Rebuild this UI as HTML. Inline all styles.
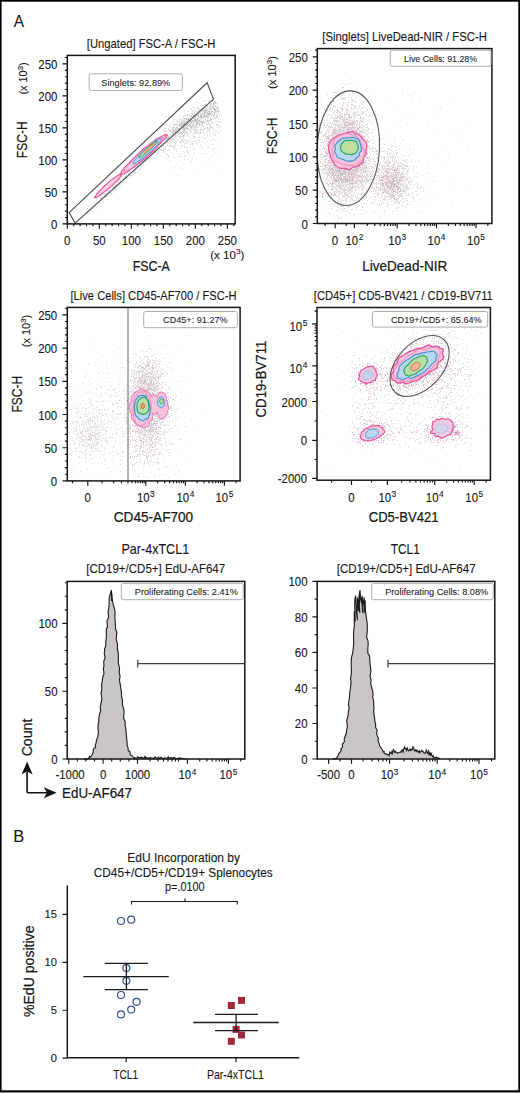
<!DOCTYPE html>
<html><head><meta charset="utf-8"><style>
html,body{margin:0;padding:0;background:#fff;}
body{width:520px;height:1093px;overflow:hidden;}
svg{display:block;}
text{font-family:"Liberation Sans", sans-serif;stroke:#161616;stroke-width:0.1px;}
</style></head><body>
<svg width="520" height="1093" viewBox="0 0 520 1093">
<rect width="520" height="1093" fill="#fff"/>
<defs><filter id="b40" x="-50%" y="-50%" width="200%" height="200%"><feGaussianBlur stdDeviation="4"/></filter><filter id="b60" x="-50%" y="-50%" width="200%" height="200%"><feGaussianBlur stdDeviation="6"/></filter><filter id="b50" x="-50%" y="-50%" width="200%" height="200%"><feGaussianBlur stdDeviation="5"/></filter><clipPath id="c67_55"><rect x="68.1" y="56.2" width="166.3" height="166.9"/></clipPath><clipPath id="c317_48"><rect x="318.1" y="49.4" width="173" height="173.3"/></clipPath><clipPath id="c67_307"><rect x="68.1" y="308.2" width="171.2" height="171.9"/></clipPath><clipPath id="c317_307"><rect x="317.8" y="308.3" width="171.8" height="171.1"/></clipPath></defs>
<rect x="0" y="1091.5" width="520" height="1.5" fill="#8a8a8a"/>
<rect x="0.75" y="0.85" width="518.4" height="1090.3" fill="none" stroke="#000" stroke-width="1.7"/>
<text transform="translate(13.8 27.3) scale(0.92 1)" font-size="16.8" fill="#161616">A</text>
<text transform="translate(13.2 841.5) scale(0.98 1)" font-size="16.8" fill="#161616">B</text>
<text x="86.8" y="48" font-size="12.2" textLength="128.6" lengthAdjust="spacingAndGlyphs" fill="#161616">[Ungated] FSC-A / FSC-H</text>
<g clip-path="url(#c67_55)"><ellipse cx="190" cy="121" rx="30" ry="7" transform="rotate(-33 190 121)" fill="#9a9396" fill-opacity="0.1" filter="url(#b40)"/></g>
<path d="M120 187h1m-13 4h1m-17 18h1m8-11h1m28-23h1m27-31h1m-65 62h1m3-7h1m19-11h1m39-35h1m-13 4h1m-29 21h1m48-40h1m-56 50h1m29-27h1m16-13h1m1-3h1m-8 3h1m-3 3h1m-28 27h1m31-29h1m8-7h1m-46 41h1m3-6h1m19-20h1m-13 14h1m24-20h1m-40 34h1m-9 0h1m11-5h1m-2 0h1m21-23h1m0 1h1m12-12h1m-9 5h1m-28 27h1m-20 19h1m20-20h1m22-25h1m17-16h1m-28 27h1m-6 9h1m-13 6h1m-8 7h1m5-9h1m21-12h1m3-9h1m-8 14h1m-2-6h1m-25 22h1m35-30h1m-47 39h1m41-36h1m1-4h1m5-2h1m-15 12h1m-33 26h1m7-8h1m-11 12h1m30-31h1m-38 38h1m19-20h1m22-20h1m-5 5h1m-35 29h1m51-43h1m-15 8h1m18-17h1m-63 55h1m-4 3h1m-10 8h1m41-40h1m-4 4h1m18-21h1m-22 25h1m-19 11h1m34-30h1m7-11h1m-11 19h1m10-15h1m-30 31h1m19-24h1m-5 6h1m9-6h1m-37 28h1m10-8h1m24-20h1m-20 17h1m-14 9h1m22-15h1m-8-2h1m12-7h1m-15 6h1m-15 21h1m-24 13h1m10-7h1m14-12h1m-15 8h1m-2 4h1m12-9h1m-28 23h1m15-13h1m36-37h1m-26 20h1m34-27h1m12-11h1m-82 74h1m75-68h1m-11 1h1m-63 64h1m69-62h1m-11 4h1m-43 40h1m-12 12h1m20-22h1m-10 6h1m59-50h1m-1 2h1m-14 9h1m-24 21h1m5-8h1m12-11h1m-49 42h1m44-37h1m16-15h1m-18 14h1m-14 10h1m8-11h1m-22 22h1m32-29h1m-41 34h1m-20 20h1m56-53h1m-51 47h1m10-6h1m25-27h1m17-15h1m-25 20h1m8-9h1m-60 50h1m79-74h1m33-24h1m7-10h1m0 4h1m-17 21h1m-8-2h1m-22 14h1m13 5h1m6-22h1m-19 19h1m33-28h1m7 0h1m-6 5h1m-20 12h1m24-20h1m-13 7h1m-7 3h1m13-4h1m-41 29h1m-1-15h1m32-20h1m-5 10h1m-14 7h1m26-21h1m-30 20h1m16-1h1m16-6h1m-3-14h1m-32 18h1m6-3h1m-14 14h1m37-23h1m-51 30h1m-1-8h1m-1 8h1m37-24h1m10-1h1m-6-2h1m-29 24h1m3-18h1m11 4h1m-22 13h1m-4 2h1m34-17h1m1-9h1m-27 11h1m4-1h1m-8 6h1m-1 4h1m14-13h1m19-11h1m-44 32h1m24-30h1m-3 14h1m-28 7h1m39-21h1m-27 24h1m-11-3h1m7 2h1m-3-9h1m18-6h1m-22 11h1m14-13h1m8-5h1m-19 18h1m5 1h1m-27 4h1m7 3h1m42-33h1m-13 5h1m-13 1h1m-13 21h1m29-9h1m-37 10h1m-7 8h1m17-14h1m14-10h1m-14 14h1m-16 3h1m18-1h1m-1-15h1m18 2h1m4-16h1m-38 19h1m4 9h1m-24 4h1m50-22h1m2 3h1m-18 4h1m8-8h1m-28 8h1m16 2h1m17-9h1m-4-6h1m-15 16h1m-16 5h1m28-15h1m-33 12h1m-1 6h1m-16 1h1m35-26h1m-13 18h1m-6 13h1m9-21h1m7 2h1m-25 4h1m10-2h1m0 6h1m23-16h1m-31 21h1m31-28h1m-23 22h1m-3-8h1m1-9h1m-1 15h1m24-15h1m-15 15h1m-1-12h1m-10 5h1m13-1h1m-32 16h1m35-16h1m-16 8h1m-5 5h1m-27 19h1m15-21h1m11-11h1m-33 23h1m31-24h1m-11 16h1m-13 6h1m14-10h1m-2-10h1m-20 20h1m8-2h1m29-20h1m4-4h1m-41 35h1m4-10h1m-4-4h1m20-15h1m-13 17h1m-5 0h1m19-11h1m12-8h1m-17-4h1m3 2h1m7-3h1m4 0h1m-32 21h1m-14 11h1m46-29h1m-53 20h1m38-22h1m-39 14h1m35-22h1m-27 26h1m40-16h1m-46 10h1m30-1h1m13-8h1m-21 4h1m-12 8h1m17-9h1m-6 10h1m-10 2h1m12-22h1m-4 10h1m-2 6h1m-11 5h1m-5 1h1m24-16h1m-5 9h1m-45 11h1m7-6h1m-6 7h1m37-16h1m-30 13h1m30-20h1m2-3h1m-5 10h1m-13 6h1m15-14h1m-19 23h1m-28 0h1m4 10h1m40-35h1m-28 14h1m16 2h1m9-4h1m-4-14h1m-20 18h1m-6 7h1m-3-6h1m-3 10h1m5-7h1m-14 2h1m1 4h1m37-25h1m-36 26h1m-5 3h1m33-15h1m-38 17h1m20-16h1m-10 12h1m10-8h1m1-4h1m-6 0h1m13-10h1m-16 12h1m-11 1h1m5 17h1m9-24h1m17-10h1m-28 13h1m-14 18h1m43-31h1m-17 12h1m-7-1h1m-28 27h1m28-35h1m2 4h1m11-8h1m-42 29h1m31-14h1m-24 4h1m33-17h1m-40 23h1m16-5h1m14-15h1m-25 25h1m6-11h1m1-15h1m26 5h1m-27 9h1m7-12h1m2-4h1m-11 3h1m2 12h1m13-12h1m-24 5h1m18 3h1m-17 8h1m-15 3h1m6-13h1m-2-1h1m16 0h1m-16 11h1m-3-2h1m3-6h1m31-9h1m-22 10h1m-13 0h1m9 0h1m-18 1h1m25-3h1m-42 17h1m19-15h1m8-3h1m20-16h1m-32 28h1m24-17h1m-7 1h1m6-7h1m-27 28h1m4-16h1m-16 11h1m26-9h1m-29 12h1m10 3h1m16-19h1m-2 3h1m5-5h1m-38 23h1m47-28h1m-21 17h1m4-6h1m5-7h1m6-13h1m-32 26h1m29-20h1m-16 15h1m-28 9h1m14-9h1m3-4h1m15-2h1m-4 1h1m-27 12h1m25-24h1m-9 22h1m-15-7h1m8-4h1m-5 3h1m3 10h1m25-19h1m-23 9h1m-9 5h1m29-11h1m-28 18h1m-24-3h1m34-23h1m-9 24h1m-13-4h1m4-1h1m8-8h1m-23 18h1m39-30h1m-27 15h1m-22 20h1m49-36h1m-26 23h1m13-14h1m11-4h1m-27 12h1m4 6h1m-4-6h1m-16 12h1m3 0h1m4-8h1m18-8h1m6-13h1m-11 15h1m-28 9h1m12-2h1m10-8h1m16-1h1m-17-1h1m-23 18h1m0-4h1m-11 1h1m37-7h1m-44 24h1m46-24h1m-38 20h1m-15 6h1m30-6h1m11-18h1m4 3h1m5-11h1m-21 15h1m23-6h1m-27 21h1m18-20h1m-6 0h1m-9 10h1m8-14h1m-17 21h1m5-7h1m7-5h1m-16 29h1m-10-22h1m19-9h1m-35 26h1m24-2h1m-6-18h1m19-7h1m-23 22h1m17-22h1m-1 20h1m-11-18h1m-15 10h1m1 15h1m16-16h1m18-27h1m-12 15h1m9-13h1m-50 40h1m42-18h1m-15-10h1m-14 17h1m28-26h1m-30 29h1m-22 5h1m32-8h1m15-22h1m-26 32h1m-6 0h1m33-30h1m-37 51h1m-2-19h1m-4-15h1m-10 13h1m6-6h1m5 5h1m28-5h1m6-27h1m-24 14h1m-21 22h1m35-18h1m-8-15h1m-28 18h1m-3 12h1m29-28h1m-38 27h1m25-4h1m20-33h1m5 9h1m-20 19h1m-21 10h1m5-7h1m34-17h1m-55 20h1m14-10h1m7 4h1m-11 16h1m23-32h1m-24 40h1m24-23h1m12-17h1m-37 8h1m25-16h1m-2 3h1m-22 25h1m-4-14h1m11-1h1m-31 26h1m33-13h1m18-25h1m-49 22h1m38-24h1m-32 21h1m4 7h1m-20 0h1m18-7h1m2 3h1m5-7h1m16-2h1m-32 32h1m1-31h1m36-17h1m-29 31h1m9-17h1m-24 18h1m1-3h1m7-12h1m-12 14h1m19-20h1m-16 7h1m17-2h1m11-11h1m-11 30h1m-15-20h1m4 23h1m-9-17h1m-6 3h1m5 14h1m-3-15h1m0 6h1m28-14h1m-17-4h1m1 18h1m-7-14h1m23-9h1m-23 15h1m21-15h1m-21 9h1m-33 21h1m15-14h1m29-17h1m-20 49h1m14-45h1m-1 4h1m-45 19h1m-1-1h1m24 3h1m24 3h1m-25 1h1m19-32h1m-32 12h1m16 7h1m9 14h1m-40-41h1m17 2h1m-19 6h1m5 32h1" stroke="#a9a3a6" stroke-opacity="0.32" stroke-width="1" transform="translate(0 0.5)"/>
<path d="M157 146h1m-38 39h1m39-36h1m-10 7h1m-16 13h1m-5 5h1m-17 6h1m-5 6h1m21-17h1m-23 16h1m41-35h1m1-5h1m0 6h1m-13 9h1m-33 28h1m37-35h1m-65 58h1m24-23h1m15-14h1m-15 14h1m-1-4h1m42-36h1m-52 47h1m53-49h1m-57 51h1m23-26h1m-27 28h1m14-14h1m-5 5h1m22-28h1m-22 23h1m-8 7h1m4-5h1m-9 6h1m50-47h1m-43 41h1m-3 5h1m-10 2h1m45-45h1m-12 13h1m-9 13h1m-25 21h1m43-41h1m2-2h1m-36 31h1m-20 26h1m47-59h1m-14 22h1m-13 4h1m14-12h1m27-22h1m-72 61h1m21-20h1m51-44h1m-50 38h1m40-33h1m-58 56h1m1-5h1m34-33h1m-3 0h1m-30 22h1m-13 18h1m36-36h1m3 2h1m-51 37h1m51-42h1m-7 7h1m14-21h1m-18 25h1m-5-2h1m37-35h1m0 2h1m-44 34h1m-2 8h1m30-31h1m-33 25h1m2 0h1m19-19h1m-53 41h1m61-46h1m-9 9h1m-24 19h1m14-17h1m26-25h1m-32 30h1m-11 4h1m-7 10h1m4-6h1m16-12h1m-11 11h1m-8 2h1m-21 18h1m35-32h1m-2 3h1m5-7h1m15-14h1m-13 16h1m-1-5h1m-34 29h1m9-7h1m-13 11h1m50-48h1m-27 28h1m15-18h1m-57 51h1m49-49h1m-15 18h1m20-27h1m-6 7h1m-37 37h1m9-11h1m-33 24h1m65-57h1m-41 36h1m0 1h1m-12 9h1m56-48h1m-32 31h1m-14 5h1m18-16h1m-25 16h1m24-18h1m-5 5h1m6-6h1m-4 2h1m-21 21h1m35-33h1m-51 42h1m27-19h1m-29 19h1m60-50h1m-33 23h1m15-7h1m-61 51h1m4-11h1m20-18h1m-25 24h1m24-22h1m28-20h1m-20 10h1m78-64h1m-12 10h1m-5-1h1m-7 2h1m-12 1h1m30-8h1m-28 14h1m32-12h1m-41 22h1m21-15h1m-23 8h1m17-7h1m6-4h1m18-7h1m-12-4h1m-21 9h1m22-7h1m-28 23h1m19-21h1m-19 17h1m-18 10h1m-2 1h1m38-25h1m-31 10h1m22-3h1m-18 6h1m-13 12h1m5-2h1m0-5h1m-7 8h1m23-20h1m-11 13h1m11-12h1m-3-2h1m-11 6h1m2-5h1m-16 10h1m36-24h1m-31 23h1m-2-4h1m32-19h1m-15 10h1m18 2h1m-37 4h1m26-22h1m6 10h1m-23 8h1m1 2h1m-17 6h1m28-12h1m-39 14h1m43-13h1m-14 1h1m-21 13h1m-2 3h1m-7 7h1m1 4h1m27-30h1m-28 13h1m7 4h1m-7-3h1m15-7h1m-24 8h1m18 4h1m-17-1h1m6-3h1m6-4h1m-4 4h1m2-7h1m5 0h1m2-4h1m12 3h1m-3-4h1m-20 10h1m7-12h1m7 3h1m-23 7h1m7-10h1m-24 17h1m31-10h1m1-10h1m1 1h1m-15 12h1m8-6h1m-18 8h1m-16 0h1m-2 13h1m13-17h1m32-5h1m-12 0h1m10-6h1m-47 19h1m32-13h1m-19 11h1m29-19h1m-33 19h1m23-22h1m-5 11h1m-16 7h1m16-2h1m-27 11h1m35-26h1m-50 23h1m7 2h1m-4-1h1m12 3h1m34-28h1m-22 10h1m10-2h1m2-9h1m-17 16h1m-2-2h1m11 1h1m7-16h1m-2 8h1m-25 7h1m7 3h1m2-1h1m-12 8h1m26-19h1m-6 0h1m2-8h1m-19 30h1m-17 5h1m-1-15h1m24-4h1m-18-2h1m-12 9h1m5-1h1m-3-4h1m-11 10h1m20-2h1m6-13h1m1 3h1m4-13h1m8 6h1m-51 24h1m37-11h1m-29 1h1m14-1h1m-1 7h1m18-16h1m-2 4h1m-30 10h1m7 4h1m27-22h1m-23 10h1m0 2h1m9-7h1m3-9h1m6 2h1m3 3h1m-17 1h1m-11 8h1m-25 16h1m28-17h1m-11 9h1m22-8h1m-38 10h1m25-10h1m-16 8h1m24-15h1m-6-13h1m-3 21h1m12-11h1m-44 25h1m-2 2h1m12-7h1m31-23h1m-10 9h1m-35 11h1m17-11h1m-8 7h1m4-4h1m16-6h1m4-3h1m-33 20h1m2 3h1m19-28h1m-16 21h1m28-10h1m-16-10h1m2 5h1m11 0h1m-10-1h1m3 3h1m5-2h1m-52 21h1m42-20h1m-12 0h1m-20 22h1m4-16h1m26-3h1m-24 4h1m-11 12h1m37-23h1m-45 27h1m40-32h1m-47 37h1m9-7h1m35-30h1m1 9h1m-22 5h1m22-2h1m-13-4h1m-22 16h1m14-3h1m14-16h1m-7 7h1m-26 13h1m33-22h1m-12 9h1m-34 31h1m1-12h1m-3-2h1m31-20h1m-24 13h1m-11 10h1m43-32h1m-2 3h1m-33 18h1m17-2h1m-18 4h1m0-2h1m-10 8h1m30-12h1m-43 8h1m19 1h1m-23 10h1m25-24h1m-20 11h1m9-1h1m13-4h1m-28 23h1m35-28h1m10-3h1m-31 10h1m11-2h1m-5-8h1m-27 25h1m22-17h1m25-11h1m-39 15h1m28-15h1m-24 15h1m-10-1h1m19-9h1m0 8h1m-9 4h1m6-14h1m-1-3h1m-14 26h1m16-15h1m-8 5h1m4-3h1m-20 9h1m-4-6h1m32-14h1m-14 7h1m20-8h1m-24 9h1m21-11h1m-21 9h1m-14 6h1m23-14h1m-15 13h1m24-15h1m-17 8h1m4-12h1m-11 12h1m-2 12h1m4-3h1m-16 2h1m0-6h1m-18 15h1m44-25h1m-31 17h1m33-15h1m-9 0h1m-18 3h1m3 4h1m-13 8h1m20-16h1m-20 16h1m16-7h1m5-9h1m-7 1h1m-27 17h1m18-11h1m-26 14h1m8 5h1m-5-10h1m1 0h1m-6-1h1m42-14h1m-20 5h1m-4 11h1m-5-3h1m-29 5h1m23 1h1m-11-5h1m0 4h1m-2-2h1m38-23h1m-25 15h1m3-5h1m-2 0h1m1 9h1m-12 4h1m10-13h1m17-4h1m-8 5h1m-30 4h1m25-17h1m-21 26h1m3-10h1m5 7h1m-28 8h1m20-16h1m21-6h1m-3-3h1m-22 12h1m20-9h1m-41 16h1m4 3h1m-1-4h1m35-18h1m-6 4h1m3-1h1m-3 24h1m-10 2h1m6-4h1m15-16h1m-47 30h1m34-21h1m-32 12h1m28-20h1m-22 20h1m31-14h1m-16 13h1m-34 21h1m23-27h1m8 0h1m-27 12h1m8-4h1m5 0h1m-4-9h1m18 15h1m-8-17h1m5 17h1m-6-22h1m-19 30h1m16-29h1m13 14h1m-32 5h1m10-9h1m5 1h1m-6-8h1m10-8h1m-12 9h1m-14 11h1m15-16h1m15-4h1m-43 26h1m29-20h1m-14 6h1m7 6h1m16-5h1m-25 8h1m-32 7h1m22-12h1m-14 9h1m-7 3h1m3 8h1m28-28h1m-12 21h1m30-32h1m-6 21h1m-13-6h1m-11 10h1m-22 7h1m6 1h1m25-28h1m11-1h1m-46 21h1m26-12h1m-15 8h1m4 11h1m-13-4h1m20-13h1m14-12h1m-6 1h1m-1 18h1m-27 5h1m-2 11h1m18-25h1m1 1h1m-17 20h1m15-22h1m2 12h1m-6 11h1m-2-21h1m9 2h1m4 10h1m-11 16h1m6-29h1m-35 9h1m42-22h1m-5 13h1m-15-3h1m-32 27h1m30-17h1m12-3h1m-14-5h1m-28 16h1m20 6h1m-2-15h1m10 0h1m-10-5h1m-14 9h1m-10 6h1m41-17h1m-4 14h1m-48 13h1m-5-7h1m39-3h1m9-20h1m-12 6h1m-9 8h1m14-17h1m-32 15h1m17-7h1m23 0h1m-16-2h1m-21 8h1m25 7h1m-37-2h1m44-22h1m-48 31h1m27-12h1m-8-11h1m18-2h1m-31 12h1m-19 8h1m8-2h1m33-4h1m-46 8h1m55-8h1m-55 8h1m23-9h1m5 7h1m16-22h1m-21 15h1m-10 3h1m-1-1h1m-1 6h1m-2-12h1m6-3h1m26-7h1m-21 14h1m-20 5h1m20-4h1m-25 0h1m-6 13h1m38-1h1m-33-34h1m41 51h1m-34-7h1m13-36h1m-25 12h1m37 17h1m-35-3h1m39 6h1m-5-11h1" stroke="#a9a3a6" stroke-opacity="0.32" stroke-width="1" transform="translate(0 0.5)"/>
<path d="M152 154h1m-5 4h1m-54 47h1m34-37h1m6-1h1m-27 21h1m-12 10h1m41-38h1m-18 18h1m25-20h1m-52 40h1m43-41h1m13-7h1m-10 7h1m-32 25h1m11-10h1m-27 21h1m-1 1h1m28-26h1m-2 0h1m14-9h1m-7 6h1m-42 30h1m60-48h1m-37 31h1m-22 16h1m-13 12h1m9-10h1m6-6h1m16-16h1m26-25h1m-6 6h1m8-9h1m-61 56h1m50-46h1m21-14h1m-59 47h1m43-45h1m-50 46h1m5-3h1m1 1h1m19-20h1m-22 18h1m24-25h1m-18 23h1m-32 19h1m28-24h1m34-32h1m-60 52h1m58-49h1m-45 43h1m13-16h1m-32 25h1m71-65h1m-57 54h1m31-30h1m5-6h1m18-13h1m-63 55h1m24-28h1m21-20h1m-22 27h1m7-8h1m-13 10h1m-2-5h1m-2-1h1m-26 28h1m0-2h1m31-28h1m-5 3h1m5-8h1m6-4h1m-4 1h1m13-7h1m-2-1h1m-10 10h1m-37 27h1m44-37h1m-44 33h1m24-15h1m-7 1h1m22-20h1m-32 27h1m11-14h1m-20 21h1m52-49h1m-41 36h1m-18 19h1m0 0h1m-11 4h1m-15 14h1m71-64h1m-20 18h1m11-11h1m-13 11h1m6-5h1m17-21h1m-38 33h1m17-15h1m-33 30h1m-18 14h1m19-17h1m50-44h1m-18 8h1m-36 42h1m37-33h1m2-9h1m-42 39h1m19-23h1m-7 7h1m20-22h1m-33 34h1m42-37h1m-27 23h1m-20 20h1m25-27h1m-56 46h1m18-9h1m57-60h1m-2 4h1m-41 35h1m4-8h1m9-8h1m-9 11h1m19-19h1m-17 17h1m-6 6h1m-13 7h1m-4 6h1m39-43h1m-6 4h1m-4 6h1m0 1h1m-34 23h1m38-31h1m-19 13h1m19-11h1m-30 29h1m11-19h1m-9 11h1m73-58h1m-33 24h1m15-14h1m18-19h1m2 3h1m-31 15h1m3-3h1m16-12h1m-17 16h1m13-2h1m-25 10h1m29-13h1m-33 7h1m6-2h1m26-12h1m-25 14h1m-3 6h1m23-22h1m-31 25h1m4-13h1m3 6h1m10-10h1m4 10h1m-4-16h1m3 9h1m-33 17h1m17-8h1m19-15h1m-42 25h1m45-27h1m-38 17h1m16-17h1m17-8h1m-38 18h1m10-4h1m21-11h1m-27 6h1m8 3h1m25-7h1m-34 12h1m15-16h1m4 8h1m-9 4h1m-8 6h1m-5-4h1m20-11h1m-13 13h1m-15 5h1m11-6h1m21-8h1m-24 14h1m-8 4h1m30-20h1m-8 1h1m-24 2h1m17-6h1m-2 10h1m0-10h1m-16 17h1m3-11h1m16 2h1m-12 7h1m-3-4h1m-22 13h1m15-27h1m-4 8h1m10 10h1m-3-3h1m-8 3h1m6-1h1m8-11h1m-7-2h1m2 19h1m4-18h1m-25 12h1m-5 0h1m32-12h1m-19 4h1m-18 23h1m11-12h1m-12 6h1m-12 6h1m22-11h1m15-18h1m-21 7h1m20-11h1m-17 19h1m-2-4h1m-19 15h1m42-33h1m-16 11h1m-19 9h1m-4 12h1m19-14h1m-6 1h1m9-8h1m-16 9h1m22-15h1m-9 6h1m-23 6h1m23-4h1m-25 6h1m4-6h1m-18 16h1m7-3h1m23-15h1m-19 17h1m29-22h1m-28 14h1m-1 2h1m25-19h1m-19 20h1m-32 9h1m19-3h1m15-17h1m18 0h1m-37 10h1m31-15h1m-6 6h1m-5-1h1m-26 11h1m27-14h1m-36 20h1m-2 7h1m20-12h1m4-9h1m-20 15h1m4-7h1m-4 4h1m-1-1h1m15-12h1m-5-2h1m3 1h1m-5-5h1m-19 23h1m-9 4h1m24-21h1m-8 16h1m0 2h1m-13 2h1m30-36h1m-24 22h1m32-11h1m2-1h1m-33 18h1m-1-10h1m21-6h1m-38 24h1m31-21h1m-30 9h1m12-13h1m-6 5h1m-11 10h1m34-10h1m-11 7h1m-24 8h1m37-16h1m-1-11h1m-5 7h1m-6-1h1m-37 27h1m29-17h1m-2-7h1m-13 18h1m15-8h1m-32 7h1m39-26h1m-36 24h1m-4 1h1m26-15h1m-5 6h1m5-4h1m-16 3h1m-14 8h1m34-14h1m-21 16h1m3-4h1m13-2h1m-32 5h1m34-11h1m6-9h1m-10 6h1m-19 8h1m-18 11h1m12-9h1m23-10h1m-5 13h1m-35 7h1m24-15h1m-2-11h1m-1 16h1m18-21h1m-19 12h1m-14 8h1m-3 6h1m3-11h1m21-5h1m-18 8h1m9-6h1m7-1h1m-8 8h1m-5 4h1m-29 9h1m5-8h1m5-8h1m25-6h1m1 0h1m1 0h1m-4-12h1m-32 34h1m2-3h1m28-18h1m-7 0h1m-2-6h1m3 1h1m-1 16h1m9-17h1m-26 16h1m1-4h1m7-5h1m0 2h1m-33 23h1m0-2h1m18-25h1m10 4h1m-18 9h1m14-12h1m-22 15h1m15-10h1m-20 1h1m10 1h1m14 0h1m-17 7h1m-15 2h1m12-11h1m28-13h1m-22 8h1m-15 18h1m25-25h1m-3 6h1m-8-2h1m13-6h1m-4 10h1m-6 7h1m-30 9h1m-6 5h1m35-20h1m-30 14h1m29-20h1m-8 10h1m-1-4h1m17-8h1m-5 13h1m-18 8h1m-16 8h1m-9-4h1m38-25h1m-37 23h1m20-11h1m2-1h1m0-3h1m-32 18h1m15-10h1m3-5h1m27-13h1m-25 22h1m3-10h1m-5 3h1m2 4h1m-15 7h1m23-22h1m-11 12h1m-23 8h1m10 5h1m27-33h1m-18 22h1m0-6h1m-8 3h1m-2 4h1m-13 3h1m39-19h1m-32 16h1m24-22h1m-15 19h1m-1-15h1m-16 20h1m24-3h1m-21 2h1m12-16h1m-34 27h1m-4-7h1m43-29h1m-8 21h1m-12-2h1m16-12h1m-30 23h1m4-5h1m23 4h1m10-21h1m-39 19h1m34-22h1m-15 12h1m-2-9h1m7 2h1m-25 13h1m-14 7h1m39-23h1m-20 18h1m-12-4h1m19-5h1m-27 7h1m28-12h1m-18 13h1m17-8h1m-8-1h1m-7 8h1m-14 5h1m1-5h1m-5 2h1m4-2h1m31-20h1m-48 26h1m26 0h1m10-22h1m-8 10h1m16-17h1m-21 19h1m16-6h1m-1-14h1m-30 35h1m1 8h1m13-2h1m19 9h1m-40-13h1m34-19h1m-14 31h1m-16-7h1m11-5h1m5-9h1m-12 8h1m19-4h1m-44 14h1m-7 6h1m20-6h1m2-5h1m14-19h1m11-6h1m0 9h1m-25 20h1m-24 0h1m19 1h1m13-3h1m2-15h1m-18 12h1m-19 5h1m40 5h1m-26-2h1m-7-2h1m2-12h1m-2 0h1m25-7h1m-27 16h1m27-26h1m3 8h1m-50 30h1m18-15h1m23-14h1m-3 32h1m-14-28h1m-6 14h1m-13 13h1m29-36h1m2-2h1m-8 34h1m4-17h1m-29 4h1m36-8h1m-48 13h1m20-2h1m1-6h1m-19 11h1m17 1h1m9-20h1m10 6h1m-7-6h1m-43 28h1m50-26h1m-36 4h1m25-5h1m-19 8h1m-5 8h1m8-2h1m5-12h1m-18 4h1m-17 14h1m46-20h1m-51 18h1m10 26h1m33-34h1m-39 31h1m31-49h1m-18 18h1m15-8h1m9 7h1m-3-11h1m-25 23h1m-22-6h1m34-17h1m-34 33h1m39-34h1m-7-4h1m16 4h1m-5-12h1m-7 27h1m3-8h1m-17-4h1m10-9h1m-3 14h1m-20 24h1m21-40h1m-43 30h1m32-8h1m15-18h1m-4 0h1m-15 1h1m9-4h1m8 2h1m-45 20h1m36-23h1m-18 22h1m-14 4h1m4-3h1m25-4h1m-38 4h1m24-16h1m-37 23h1m19 6h1m30-28h1m-13-5h1m-21 37h1m28-30h1m-17 14h1m-33 4h1m-3 1h1m6-4h1m18-5h1m19-15h1m-11 9h1m-27 8h1m0 5h1m8 5h1m8-6h1m-18 3h1m5-2h1m7-9h1m8 5h1m4 5h1m10-31h1m-3 15h1m-22 30h1m5-24h1m1-5h1m2 4h1m2 2h1m-14 20h1m-18 8h1m11-14h1m23 11h1m2-15h1m-9-24h1m-3 15h1m-15 23h1m-21 4h1m9-33h1" stroke="#a9a3a6" stroke-opacity="0.32" stroke-width="1" transform="translate(0 0.5)"/>
<path d="M121.0 174.5 L121.3 174.5 L121.3 174.8 L121.0 175.3 L120.9 175.7 L121.0 175.9 L120.9 176.3 L120.3 177.0 L119.5 177.9 L119.0 178.7 L118.4 179.4 L117.6 180.3 L116.3 181.5 L115.0 182.6 L113.9 183.7 L112.9 184.6 L111.9 185.6 L110.9 186.6 L109.7 187.5 L108.6 188.4 L107.6 189.3 L106.5 190.2 L105.4 191.1 L104.4 191.9 L103.4 192.6 L102.5 193.3 L101.4 194.2 L100.3 195.0 L99.3 195.7 L98.6 196.1 L97.8 196.6 L96.8 197.3 L96.0 197.8 L95.6 197.8 L95.6 197.5 L95.6 197.3 L95.2 197.3 L94.6 197.5 L94.5 197.4 L94.8 196.8 L95.4 196.0 L96.0 195.3 L96.3 194.7 L96.5 194.3 L96.8 193.8 L97.4 193.0 L98.5 191.9 L99.7 190.7 L100.8 189.7 L101.6 188.9 L102.3 188.0 L103.3 187.0 L104.5 186.0 L105.6 185.0 L106.7 184.1 L107.8 183.1 L108.9 182.1 L110.0 181.1 L111.2 180.0 L112.4 179.1 L113.3 178.5 L114.1 178.0 L115.0 177.4 L116.0 176.7 L116.9 176.1 L117.5 175.8 L118.1 175.5 L118.9 175.0 L119.9 174.3 L120.5 174.1 L120.6 174.3 L120.7 174.5Z" stroke="#e8509c" stroke-width="1.1" fill="#f6c2dc" fill-opacity="0.8"/>
<path d="M165.7 134.8 L165.9 135.1 L166.4 135.1 L167.2 134.9 L167.3 135.3 L166.3 136.6 L165.0 138.1 L164.2 139.2 L163.5 140.2 L162.0 141.9 L159.7 144.0 L157.7 145.8 L156.8 147.1 L155.9 148.4 L154.2 150.1 L152.0 152.0 L149.9 153.8 L148.1 155.6 L146.2 157.5 L144.1 159.2 L142.2 160.6 L140.3 162.0 L138.4 163.7 L136.4 165.4 L134.6 166.7 L133.2 167.6 L131.7 168.6 L130.0 169.9 L128.1 171.3 L126.6 172.4 L125.3 173.1 L124.5 173.4 L123.8 173.5 L123.2 173.6 L122.4 174.0 L121.4 174.4 L120.8 174.5 L120.9 174.0 L121.1 173.3 L121.1 172.9 L121.1 172.4 L121.5 171.6 L122.4 170.4 L123.2 169.3 L124.0 168.2 L125.2 166.8 L126.9 165.1 L128.6 163.4 L130.0 161.8 L131.4 160.3 L133.0 158.6 L135.1 156.8 L137.1 155.0 L139.0 153.2 L140.9 151.4 L142.9 149.5 L144.9 147.7 L146.9 146.1 L148.8 144.9 L150.5 143.7 L152.3 142.3 L154.2 140.7 L156.0 139.3 L157.3 138.5 L158.2 138.2 L159.2 137.8 L160.5 137.0 L161.7 136.2 L162.5 135.9 L163.2 135.7 L164.2 135.2 L165.2 134.7Z" stroke="#e8509c" stroke-width="1.1" fill="#f6c2dc" fill-opacity="0.85"/>
<path d="M162.1 137.9 L161.8 138.5 L162.1 138.6 L162.8 138.4 L163.1 138.5 L162.6 139.3 L161.6 140.5 L160.6 141.6 L159.8 142.7 L158.9 143.7 L158.1 144.8 L157.2 145.9 L156.2 147.1 L154.8 148.5 L153.1 150.2 L151.2 151.9 L149.5 153.4 L147.8 155.0 L146.0 156.6 L144.2 158.0 L142.5 159.3 L140.9 160.6 L139.3 161.9 L137.8 163.1 L136.4 164.1 L134.7 165.5 L132.8 167.1 L131.1 168.5 L129.8 169.4 L128.7 169.9 L127.8 170.4 L127.1 170.6 L126.7 170.6 L126.2 170.8 L125.2 171.3 L124.2 171.8 L124.0 171.7 L124.5 170.8 L124.8 170.2 L124.7 169.9 L124.8 169.4 L125.8 168.3 L126.9 167.0 L127.3 166.4 L127.2 166.0 L127.9 165.1 L129.7 163.3 L131.7 161.6 L132.8 160.3 L133.4 159.3 L134.5 158.0 L136.4 156.3 L138.4 154.7 L140.0 153.2 L141.6 151.7 L143.4 150.0 L145.2 148.4 L146.9 147.0 L148.7 145.6 L150.4 144.2 L151.9 143.2 L153.2 142.3 L154.5 141.4 L156.0 140.3 L157.4 139.4 L158.3 138.9 L158.9 138.7 L159.6 138.4 L160.7 137.7 L161.9 137.0 L162.7 136.7 L162.6 137.1Z" stroke="#ec78b0" stroke-width="0.7" fill="none" fill-opacity="0.85"/>
<path d="M161.1 138.9 L161.0 139.3 L160.9 139.7 L160.7 140.2 L160.4 140.6 L160.1 141.2 L159.8 141.8 L159.3 142.4 L158.8 143.1 L158.2 143.9 L157.4 144.8 L156.6 145.7 L155.7 146.7 L154.6 147.8 L153.6 148.8 L152.5 149.9 L151.3 151.0 L150.2 152.1 L149.0 153.2 L147.7 154.3 L146.5 155.3 L145.2 156.3 L144.1 157.3 L142.9 158.1 L141.9 158.8 L140.9 159.5 L140.0 160.1 L139.0 160.8 L138.1 161.4 L137.2 162.0 L136.2 162.6 L135.4 163.2 L134.6 163.6 L134.0 163.8 L133.5 163.9 L133.3 163.8 L133.1 163.7 L133.0 163.4 L133.0 163.1 L133.1 162.8 L133.2 162.4 L133.5 161.8 L133.9 161.2 L134.4 160.4 L135.2 159.5 L136.1 158.6 L137.0 157.5 L138.0 156.5 L139.1 155.5 L140.1 154.5 L141.1 153.5 L142.1 152.5 L143.2 151.4 L144.3 150.3 L145.5 149.3 L146.7 148.2 L147.9 147.2 L149.1 146.3 L150.2 145.4 L151.3 144.5 L152.4 143.7 L153.6 142.8 L154.7 141.9 L155.9 141.1 L157.0 140.3 L158.0 139.6 L158.9 139.0 L159.7 138.6 L160.3 138.4 L160.7 138.4 L160.9 138.4 L161.0 138.6Z" stroke="#3f8fd2" stroke-width="1" fill="#b2daf2" fill-opacity="0.9"/>
<path d="M157.4 141.2 L157.4 141.4 L157.4 141.6 L157.2 142.0 L156.9 142.4 L156.6 142.9 L156.2 143.4 L155.8 143.9 L155.3 144.5 L154.8 145.0 L154.3 145.6 L153.8 146.2 L153.2 146.8 L152.6 147.5 L151.9 148.1 L151.3 148.8 L150.5 149.4 L149.8 150.1 L149.1 150.7 L148.3 151.3 L147.6 151.9 L146.9 152.5 L146.2 153.1 L145.5 153.7 L144.7 154.3 L144.0 154.9 L143.3 155.4 L142.5 156.0 L141.8 156.5 L141.2 156.9 L140.7 157.2 L140.2 157.4 L139.9 157.5 L139.6 157.6 L139.3 157.6 L139.2 157.5 L139.1 157.4 L139.0 157.2 L139.1 157.0 L139.2 156.7 L139.4 156.3 L139.7 155.9 L140.0 155.4 L140.4 154.9 L140.8 154.4 L141.2 153.9 L141.6 153.4 L142.1 152.9 L142.6 152.3 L143.2 151.6 L143.9 151.0 L144.6 150.3 L145.4 149.6 L146.1 148.9 L146.9 148.3 L147.6 147.6 L148.4 147.0 L149.1 146.4 L149.8 145.8 L150.5 145.3 L151.2 144.7 L151.9 144.2 L152.6 143.8 L153.2 143.4 L153.8 143.0 L154.3 142.6 L154.9 142.3 L155.4 142.0 L155.9 141.7 L156.4 141.5 L156.8 141.3 L157.2 141.2Z" stroke="#2e9e4c" stroke-width="1" fill="#b6e0a6" fill-opacity="0.9"/>
<path d="M154.5 144.0 L154.6 144.0 L154.6 144.1 L154.7 144.1 L154.6 144.3 L154.6 144.4 L154.4 144.6 L154.2 144.9 L154.0 145.2 L153.7 145.6 L153.3 145.9 L153.0 146.3 L152.6 146.7 L152.2 147.1 L151.8 147.4 L151.4 147.8 L151.0 148.3 L150.6 148.7 L150.1 149.1 L149.6 149.5 L149.2 149.9 L148.7 150.3 L148.3 150.6 L147.8 151.0 L147.4 151.3 L147.0 151.6 L146.6 151.9 L146.2 152.2 L145.8 152.4 L145.5 152.6 L145.2 152.8 L144.9 153.0 L144.7 153.1 L144.5 153.1 L144.4 153.1 L144.4 153.0 L144.3 153.0 L144.3 152.9 L144.3 152.8 L144.4 152.6 L144.4 152.5 L144.5 152.3 L144.6 152.1 L144.8 151.8 L145.1 151.6 L145.3 151.2 L145.7 150.9 L146.0 150.5 L146.4 150.1 L146.8 149.7 L147.2 149.3 L147.6 148.9 L148.0 148.5 L148.5 148.1 L148.9 147.7 L149.4 147.3 L149.8 146.9 L150.3 146.5 L150.8 146.1 L151.2 145.8 L151.7 145.4 L152.1 145.1 L152.5 144.8 L152.9 144.5 L153.3 144.3 L153.6 144.1 L153.8 144.0 L154.0 143.9 L154.1 143.9 L154.2 143.9 L154.3 143.9 L154.4 144.0Z" stroke="#f07a5a" stroke-width="0.8" fill="#f4a890" fill-opacity="0.9"/>
<path d="M69.1 212.6L207.1 82.8L213.5 99.1L75.1 223.1Z" stroke="#4e4a4b" stroke-width="1.1" fill="none"/>
<rect x="67.3" y="55.4" width="167.9" height="168.5" fill="none" stroke="#161616" stroke-width="1.5"/>
<path d="M67.3 223.9H62.5M67.3 191.9H62.5M67.3 159.9H62.5M67.3 127.9H62.5M67.3 95.9H62.5M67.3 63.9H62.5M67.3 217.5H64.9M67.3 211.1H64.9M67.3 204.7H64.9M67.3 198.3H64.9M67.3 185.5H64.9M67.3 179.1H64.9M67.3 172.7H64.9M67.3 166.3H64.9M67.3 153.5H64.9M67.3 147.1H64.9M67.3 140.7H64.9M67.3 134.3H64.9M67.3 121.5H64.9M67.3 115.1H64.9M67.3 108.7H64.9M67.3 102.3H64.9M67.3 89.5H64.9M67.3 83.1H64.9M67.3 76.7H64.9M67.3 70.3H64.9M67.3 57.5H64.9" stroke="#161616" stroke-width="1.15" fill="none"/>
<path d="M67.3 223.9V228.7M99.32 223.9V228.7M131.34 223.9V228.7M163.36 223.9V228.7M195.38 223.9V228.7M227.4 223.9V228.7M73.7 223.9V226.3M80.11 223.9V226.3M86.51 223.9V226.3M92.92 223.9V226.3M105.72 223.9V226.3M112.13 223.9V226.3M118.53 223.9V226.3M124.94 223.9V226.3M137.74 223.9V226.3M144.15 223.9V226.3M150.55 223.9V226.3M156.96 223.9V226.3M169.76 223.9V226.3M176.17 223.9V226.3M182.57 223.9V226.3M188.98 223.9V226.3M201.78 223.9V226.3M208.19 223.9V226.3M214.59 223.9V226.3M221 223.9V226.3M233.8 223.9V226.3" stroke="#161616" stroke-width="1.15" fill="none"/>
<text transform="translate(57.4 228.9) scale(0.93 1)" font-size="12.3" text-anchor="end" fill="#161616">0</text>
<text transform="translate(67.3 244.6) scale(0.93 1)" font-size="12.3" text-anchor="middle" fill="#161616">0</text>
<text transform="translate(57.4 196.9) scale(0.93 1)" font-size="12.3" text-anchor="end" fill="#161616">50</text>
<text transform="translate(99.32 244.6) scale(0.93 1)" font-size="12.3" text-anchor="middle" fill="#161616">50</text>
<text transform="translate(57.4 164.9) scale(0.93 1)" font-size="12.3" text-anchor="end" fill="#161616">100</text>
<text transform="translate(131.34 244.6) scale(0.93 1)" font-size="12.3" text-anchor="middle" fill="#161616">100</text>
<text transform="translate(57.4 132.9) scale(0.93 1)" font-size="12.3" text-anchor="end" fill="#161616">150</text>
<text transform="translate(163.36 244.6) scale(0.93 1)" font-size="12.3" text-anchor="middle" fill="#161616">150</text>
<text transform="translate(57.4 100.9) scale(0.93 1)" font-size="12.3" text-anchor="end" fill="#161616">200</text>
<text transform="translate(195.38 244.6) scale(0.93 1)" font-size="12.3" text-anchor="middle" fill="#161616">200</text>
<text transform="translate(57.4 68.9) scale(0.93 1)" font-size="12.3" text-anchor="end" fill="#161616">250</text>
<text transform="translate(227.4 244.6) scale(0.93 1)" font-size="12.3" text-anchor="middle" fill="#161616">250</text>
<rect x="89.2" y="73.8" width="93.2" height="16.6" rx="2" ry="2" fill="#fff" stroke="#a9a9a9" stroke-width="0.95"/>
<text x="135.8" y="85.56" font-size="9.6" text-anchor="middle" textLength="69" lengthAdjust="spacingAndGlyphs" fill="#161616" style="stroke-width:0.06px">Singlets: 92.89%</text>
<text x="132.7" y="270.7" font-size="15.4" textLength="37.1" lengthAdjust="spacingAndGlyphs" fill="#161616" style="stroke-width:0.22px">FSC-A</text>
<text x="210.2" y="258.6" font-size="11.2" textLength="34.2" lengthAdjust="spacingAndGlyphs" fill="#161616">(x 10<tspan dy="-4.4" font-size="8">3</tspan><tspan dy="4.4">)</tspan></text>
<text x="26.8" y="139.8" font-size="15.4" text-anchor="middle" textLength="36.8" lengthAdjust="spacingAndGlyphs" transform="rotate(-90 26.8 139.8)" fill="#161616" style="stroke-width:0.22px">FSC-H</text>
<text x="27" y="78.5" font-size="11.2" text-anchor="middle" textLength="32.2" lengthAdjust="spacingAndGlyphs" transform="rotate(-90 27 78.5)" fill="#161616">(x 10<tspan dy="-4.4" font-size="8">3</tspan><tspan dy="4.4">)</tspan></text>
<text x="322.3" y="40.7" font-size="12.2" textLength="164.6" lengthAdjust="spacingAndGlyphs" fill="#161616">[Singlets] LiveDead-NIR / FSC-H</text>
<g clip-path="url(#c317_48)"><ellipse cx="345" cy="158" rx="17" ry="38" transform="rotate(0 345 158)" fill="#9a9396" fill-opacity="0.16" filter="url(#b60)"/></g>
<g clip-path="url(#c317_48)"><ellipse cx="393" cy="182" rx="14" ry="14" transform="rotate(0 393 182)" fill="#9a9396" fill-opacity="0.12" filter="url(#b50)"/></g>
<path d="M334 120h1m26 1h1m-8 27h1m-31-25h1m29 24h1m-5-15h1m-11 26h1m12-13h1m-14-7h1m11 31h1m-5-38h1m19 1h1m-30 21h1m2-6h1m8-14h1m-12 4h1m19-4h1m-2 19h1m-15 12h1m-13-29h1m20-3h1m4 13h1m-30 24h1m24-63h1m-9 59h1m15-2h1m-37-20h1m6 33h1m17-26h1m6 8h1m3-1h1m-24-5h1m21 7h1m-35-17h1m19 23h1m9 4h1m-10-40h1m-26 20h1m31-4h1m-9 22h1m-11-29h1m27-11h1m-46 15h1m11 14h1m5-21h1m7 44h1m7-14h1m21-13h1m-22-44h1m-16 55h1m11-13h1m10 21h1m-21-9h1m-7-26h1m-9 20h1m12-17h1m-14 34h1m33-20h1m-34-10h1m11 53h1m-2-22h1m7-45h1m-23 20h1m4-7h1m19 1h1m-11 17h1m0-13h1m22-2h1m-19 28h1m-12-40h1m0 13h1m1-2h1m4 13h1m-12-17h1m-1 35h1m11-65h1m-8 47h1m25-16h1m-3-12h1m-19-4h1m-6 18h1m17-5h1m-10 14h1m4-14h1m-8 26h1m-9 21h1m10-52h1m11 40h1m-2-22h1m3 6h1m-19-7h1m11 5h1m-1-24h1m-23 21h1m16-5h1m-1-17h1m5 2h1m-1 33h1m-2-6h1m-2-33h1m-34 5h1m42 2h1m-20 28h1m-4-42h1m-15 29h1m-1-36h1m-12 45h1m39-11h1m-29 1h1m-10 18h1m30-19h1m-12 4h1m-1 5h1m5 6h1m-6-19h1m8-5h1m-3 25h1m-30-6h1m36-2h1m-19-34h1m6 29h1m17 11h1m-23 18h1m14-22h1m12-27h1m-51 39h1m16-22h1m8 10h1m8-41h1m-4 32h1m-8-1h1m-8 11h1m-2-27h1m16 10h1m-15 24h1m25-16h1m-32-9h1m21-28h1m-18 16h1m6 4h1m-1 1h1m-9 11h1m-6-3h1m10 22h1m-2 8h1m1-28h1m-8-12h1m4 29h1m4-19h1m-15-12h1m11 13h1m6-1h1m-25-19h1m23 36h1m-1-20h1m5 1h1m-22 14h1m4-9h1m-20 14h1m-1 0h1m7 27h1m-4-43h1m18 16h1m-19-30h1m18 24h1m-8-21h1m-3 5h1m11 3h1m-11 6h1m11-9h1m-6 19h1m-22-2h1m14 9h1m-13-2h1m-3-12h1m5 16h1m30 3h1m-30-24h1m15 17h1m-15 14h1m-3-30h1m25 3h1m-35-13h1m14-18h1m-9 15h1m21 20h1m3 7h1m-31-17h1m25 32h1m-25-17h1m-5-21h1m-10-7h1m3 0h1m20 46h1m-18-28h1m24 12h1m3-1h1m-16 0h1m-9-20h1m31-4h1m-29-8h1m-14 11h1m16 36h1m-1-6h1m-9-12h1m-3-3h1m-10-24h1m7 16h1m2 24h1m17-12h1m-41-11h1m43-7h1m-16 16h1m-3-4h1m4 6h1m10-20h1m-16 39h1m5-26h1m-14-10h1m-11 5h1m16 25h1m15-25h1m-15 8h1m-8-15h1m6-7h1m-12 31h1m0 20h1m9-46h1m-8-7h1m10 15h1m-27 11h1m29-8h1m7-8h1m-2-15h1m-36 16h1m13-2h1m13-3h1m19 18h1m-30-10h1m4 16h1m-10 7h1m1-25h1m2 33h1m-15-22h1m13 19h1m-15-32h1m4 6h1m9-18h1m-11 32h1m-12-19h1m27 31h1m-12-25h1m13-12h1m-13 38h1m5-48h1m1 46h1m1 3h1m-30-41h1m17 15h1m-12 29h1m30 2h1m-19-29h1m10 4h1m-1-26h1m-24 16h1m9 21h1m13-44h1m-17 32h1m12-9h1m-4 6h1m-7-11h1m21 39h1m-33-38h1m3 27h1m13-1h1m2-30h1m-39-1h1m4 34h1m32-44h1m-19 33h1m11-31h1m-4 14h1m-9-32h1m-4 22h1m21 24h1m-18 26h1m1 4h1m4-38h1m-26 7h1m15 7h1m20-5h1m-25 3h1m35 28h1m-11-21h1m-13 10h1m-10 16h1m-12-2h1m25-22h1m-30 9h1m10-5h1m-3 26h1m-13-17h1m13-10h1m36 2h1m-44 34h1m31-28h1m-26-8h1m-9 13h1m3-20h1m9 7h1m12 14h1m-19-19h1m12 19h1m-31-14h1m22 11h1m-11-25h1m1 16h1m-9 2h1m12 9h1m8 6h1m6-6h1m-23-62h1m6 72h1m-23-23h1m12-4h1m-1-7h1m-10 6h1m1 32h1m4-50h1m2 25h1m-6-37h1m24 55h1m10-11h1m-17-9h1m-17 13h1m2-15h1m-3-10h1m0 32h1m3 5h1m8-6h1m22-29h1m-28-2h1m6 25h1m1-25h1m-26-23h1m-4 81h1m17-24h1m-26-21h1m36 14h1m-24-34h1m30 9h1m-20 13h1m10 11h1m-23-30h1m-9 8h1m21 24h1m-8-9h1m-20-18h1m25-18h1m13 1h1m-14-26h1m-5 49h1m-19-14h1m14 31h1m-9 23h1m18-43h1m12 0h1m-28-32h1m-6 24h1m6-4h1m-8-4h1m3 13h1m2 13h1m23 21h1m-44-10h1m13 26h1m10-25h1m7-20h1m-33 21h1m22-8h1m-6-16h1m-14 15h1m4 17h1m-4-19h1m-9 38h1m29-47h1m-37 28h1m7-46h1m11 19h1m7-1h1m9-17h1m-19 39h1m-16-36h1m20 6h1m-27 7h1m32-8h1m-10 27h1m-25-4h1m39-6h1m-10-22h1m-8 1h1m3 35h1m-22-54h1m38 37h1m-15 16h1m4-8h1m-6 2h1m-17-32h1m12 35h1m-9-21h1m1 0h1m7-30h1m-24 66h1m25 8h1m-8-59h1m11 32h1m-23 35h1m4-19h1m21-28h1m-18-17h1m0-41h1m4 67h1m-18 6h1m27-17h1m-18 19h1m-16-12h1m-11 1h1m15 16h1m13-24h1m-20-15h1m-5 5h1m24 7h1m-16 40h1m2-17h1m-1-61h1m15-6h1m-32 81h1m34-22h1m-39-33h1m29 9h1m-10 48h1m-6-27h1m12 4h1m-16-20h1m13-4h1m-9 57h1m4-37h1m0-3h1m-29-29h1m36 37h1m3-13h1m-17-8h1m-12 54h1m-5-47h1m39-12h1m-35 31h1m2-16h1m-21-11h1m6 8h1m10 6h1m5-7h1m-23-36h1m6 64h1m36 11h1m-14-37h1m8 3h1m4-30h1m-32 24h1m-1 62h1m-12-39h1m12-46h1m17 34h1m-23-19h1m18-38h1m1 52h1m-29 27h1m38-31h1m-17-7h1m-13-12h1m-2 29h1m-7 10h1m16-14h1m-15 19h1m11-83h1m-5 44h1m-12 35h1m15 13h1m-4-18h1m19-7h1m-15-31h1m6 30h1m7 3h1m-18-3h1m-5 4h1m10-1h1m-21 4h1m8-8h1m-2 0h1m-3-34h1m4 45h1m-9-18h1m-16-11h1m20 18h1m11 28h1m-7-59h1m-29 55h1m25-42h1m-15-14h1m-4 9h1m-12 33h1m16-1h1m4 18h1m-12-45h1m-1 18h1m8 9h1m-1-30h1m-11 46h1m-7 1h1m30-18h1m9-33h1m-17 39h1m-27-22h1m43 19h1m-24-14h1m-1 13h1m-6 9h1m15-28h1m-21 26h1m1-33h1m6 50h1m17 0h1m-3-60h1m-2 27h1m-25 19h1m10 9h1m-15-21h1m19 6h1m-9-27h1m19-5h1m-3-1h1m-21-14h1m7 8h1m-18 47h1m10-26h1m-5-22h1m33 28h1m-49 4h1m42-35h1m-32 24h1m9-15h1m-12 21h1m13 29h1m-16-20h1m-9 1h1m-2-31h1m29 16h1m-29 9h1m4 1h1m6-9h1m-2 2h1m21-22h1m-36 22h1m35 11h1m-14 18h1m-5-16h1m6-44h1m4 50h1m12-13h1m-19 40h1m-18-51h1m23 23h1m-12-30h1m-7 16h1m-1-17h1m3 7h1m-1 1h1m-17 19h1m5-25h1m28 16h1m-19 20h1m1-6h1m-9-21h1m-7-7h1m4 52h1m21-46h1m-25-24h1m-9 34h1m29 31h1m2-41h1m-36 3h1m8 4h1m2-47h1m4 0h1m-9-4h1m-17 26h1m20-33h1m-12 16h1m24-12h1m-6 5h1m-22 27h1m3-30h1m14 9h1m-4-7h1m-23-13h1m18 13h1m-3-3h1m3 16h1m9 9h1m-24-4h1m3-5h1m12-38h1m-4 18h1m7 17h1m-24-31h1m19 13h1m2 42h1m8-38h1m-32 21h1m21-15h1m5 7h1m-15-2h1m-4-5h1m-13-6h1m13 11h1m-11-19h1m1 8h1m-6-8h1m2 30h1m-4-10h1m-3 10h1m-9-20h1m10 2h1m11-14h1m2 3h1m-20-7h1m30 33h1m-34-22h1m4 2h1m-8 36h1m30-39h1m-16 29h1m-1-45h1m7 9h1m-5 12h1m-18 8h1m25-21h1m-17 1h1m-17 18h1m21 0h1m12 10h1m6 14h1m-10-23h1m-6-34h1m-3 32h1m5 0h1m-8-10h1m-8 0h1m4-30h1m-3 43h1m8 7h1m11 11h1m-5-34h1m-9 19h1m14-26h1m-32 11h1m6 10h1m-8-35h1m23 22h1m-33-4h1m20-9h1m-22 8h1m30 30h1m2-12h1m-36-16h1m26 13h1m-2 12h1m-3-35h1m5 24h1m-13 9h1m-8-13h1m7 24h1m1-26h1m18 47h1m-31-51h1m-6 0h1m10 21h1m-17-8h1m9 4h1m20 7h1m0 2h1m-17 2h1m4-17h1m12-7h1m-10 9h1m-21-3h1m7-40h1m-7 29h1m-2 3h1m5-6h1m3-10h1m9 22h1m-28-23h1m8 44h1m17-35h1m-5-3h1m-14-4h1m7 35h1m6-30h1m58 91h1m-10-5h1m-3 2h1m-7-13h1m-18 8h1m15-11h1m-10 4h1m14-2h1m-2 12h1m-22-11h1m8 8h1m5-7h1m-5 0h1m-7-5h1m0 12h1m8-3h1m12 2h1m-14-23h1m14 19h1m-13-4h1m-9-4h1m-5 1h1m10 25h1m18 0h1m-26-14h1m0 12h1m12-39h1m-7 19h1m-14 16h1m11-8h1m-17-5h1m10 19h1m24-6h1m-18-30h1m-2 1h1m6 7h1m-6 17h1m-16-29h1m19 4h1m-8 7h1m-12 20h1m6 10h1m-15-22h1m2 19h1m7-16h1m-10 2h1m5 0h1m-24-6h1m24 4h1m-20-7h1m15 5h1m3-8h1m0 9h1m2 21h1m-7-23h1m27 8h1m-23 11h1m-10-24h1m6 21h1m-2-7h1m1 2h1m3-30h1m8 24h1m-21-8h1m12 19h1m-19-7h1m12 0h1m-9-15h1m4 14h1m-3 0h1m15 6h1m-15-18h1m-13 4h1m16 26h1m5-16h1m-1-14h1m-12 14h1m1-19h1m10-3h1m-18 0h1m-2 18h1m2 2h1m13-12h1m-17 6h1m-13-7h1m11-13h1m3 19h1m-11-15h1m17 8h1m-6 34h1m12-15h1m-12 8h1m-18-21h1m15-19h1m-4 23h1m0 6h1m-8 6h1m39-23h1m-40 28h1m1-21h1m-8 3h1m11 11h1m-16 4h1m5-19h1m7 5h1m-10 7h1m12-3h1m-8-1h1m1 2h1m-5-13h1m6 10h1m3 5h1m1-14h1m-23 12h1m12-23h1m1 26h1m5 1h1m4-3h1m-6-18h1m-11 5h1m-17 14h1m28 0h1m-13-12h1m0-12h1m1-20h1m-5 39h1m1-7h1m-17 21h1m25-19h1m-12 16h1m12-19h1m-20 10h1m18-27h1m-33 0h1m37-1h1m-16 14h1m5-35h1m-18 32h1m11-21h1m-17 8h1m15 10h1m-13-3h1m5-12h1m0 6h1m-6-8h1m1 11h1m4 8h1m-10 2h1m-10 5h1m13-22h1m7 4h1m-10-10h1m-9 16h1m-6-15h1m9 34h1m-1-13h1m6-34h1m-18 47h1m17-22h1m-12-11h1m0-7h1m14 22h1m-5 4h1m-12-20h1m-7 25h1m17-6h1m-5-14h1m-3 2h1m-10-6h1m-7 24h1m8-8h1m9-4h1m11-3h1m-28 4h1m14 21h1m-17-7h1m-38 2h1m3 14h1m42-8h1m18 2h1m-36-18h1m-13 5h1m25-5h1m-32 4h1m4 28h1m3 0h1m-7-3h1m2-31h1m9 23h1m22 0h1m-37-7h1m35-14h1m-24 33h1m45-17h1m-11 18h1m-4-28h1m-60-16h1m55 35h1m-32-34h1m2 41h1m25-15h1m-33-33h1m3 21h1m4 12h1m39 4h1m-28-15h1m-12-3h1m-23 34h1m9-49h1m42-9h1m-12 35h1m-10-1h1m-32-22h1m19 32h1m27 7h1m-46-28h1m39-51h1m-72 22h1m6-33h1m6 98h1m29-50h1m58-48h1m-6 17h1m-36 26h1m-62 35h1m31-41h1m42 25h1m-88-16h1m6 27h1" stroke="#9d9698" stroke-opacity="0.34" stroke-width="1" transform="translate(0 0.5)"/>
<path d="M346 155h1m8 11h1m14-46h1m-24 14h1m18 30h1m-18-15h1m5-4h1m-13-2h1m34 1h1m-21 9h1m-15-16h1m13 1h1m0 24h1m-5-12h1m-14-52h1m11 49h1m-8 8h1m18 16h1m-18-27h1m-3-14h1m-5 44h1m-9-14h1m31-30h1m-13 45h1m-28-33h1m27 27h1m7-33h1m-14 20h1m9 37h1m-40-44h1m6-8h1m32 26h1m-16-22h1m8 18h1m-7-31h1m7-4h1m0 37h1m9-19h1m-13-14h1m6 21h1m-16 2h1m-19 10h1m40-22h1m-26-12h1m-7 14h1m10 28h1m0 4h1m-25-28h1m24 18h1m-11-50h1m29 23h1m-20-13h1m-29 2h1m13 21h1m-19-4h1m19-7h1m-9 18h1m23 9h1m-28 21h1m18-51h1m-15 14h1m4-13h1m-6 19h1m6-1h1m0-2h1m3-10h1m-13 10h1m32 6h1m-26-22h1m23 10h1m-38 26h1m-2-22h1m48-12h1m-40 21h1m14-9h1m-8 7h1m1-16h1m0 5h1m9 32h1m-43-47h1m34 3h1m-5 4h1m-1 4h1m4-10h1m-8 25h1m-19 7h1m20-36h1m-10 27h1m12 14h1m-13-19h1m1-1h1m9 1h1m-6-15h1m6 17h1m2-2h1m-14 10h1m-1-17h1m27 10h1m-24-13h1m5-1h1m-2 11h1m-1-12h1m-2-11h1m-2 16h1m-24 21h1m12-6h1m-9-18h1m-5-20h1m9 29h1m-8 25h1m2-26h1m15 1h1m-5 26h1m-10-30h1m0-21h1m7 8h1m-1 31h1m-14-27h1m17-5h1m8 21h1m-6 16h1m3 3h1m-32-23h1m15-3h1m-11-30h1m3 41h1m13 5h1m-26-34h1m16 30h1m-13 0h1m9 1h1m-12-33h1m5 10h1m-3 8h1m19 12h1m5-47h1m0 32h1m-1-13h1m-37 33h1m7 12h1m-13-37h1m14 20h1m15 8h1m-35-8h1m25-5h1m-24 9h1m13-7h1m13 0h1m-28-14h1m12-6h1m-4 8h1m3 6h1m-15 2h1m4-16h1m28 26h1m-10-6h1m1-4h1m-9-11h1m-22 36h1m24-18h1m-15 2h1m5 0h1m-2-17h1m-4 13h1m7-11h1m-3 9h1m16 16h1m-21-35h1m22 36h1m-12-11h1m1-18h1m-8 10h1m-14-8h1m3 22h1m-2-56h1m-4 27h1m3 14h1m18 31h1m-12-15h1m-2-6h1m-5-10h1m5 14h1m-10 12h1m2-12h1m4-31h1m6-20h1m-31 27h1m15-10h1m15 16h1m-9 13h1m-6-4h1m-2 17h1m11-7h1m-2-8h1m-24 6h1m16 5h1m-14-33h1m9 29h1m-12-10h1m3-11h1m-3-3h1m2 12h1m0-19h1m8 11h1m-25 12h1m15-3h1m18-5h1m-14 13h1m-1 13h1m6-24h1m1 4h1m-15 10h1m-3-12h1m1-23h1m13 26h1m-16 6h1m-2-2h1m15 12h1m-11-27h1m3 14h1m9-11h1m-9 18h1m7-51h1m-14 35h1m3 12h1m-11-23h1m16 29h1m-1-31h1m-26 12h1m28 23h1m-24-41h1m11 15h1m-4 5h1m7 0h1m-28 21h1m7-34h1m23 27h1m-2-18h1m-15 8h1m-18-1h1m35 5h1m-26-8h1m16-16h1m-32 13h1m4 16h1m18-10h1m-13 30h1m13-32h1m-8 1h1m4 12h1m-16-39h1m27 57h1m-27-41h1m1-2h1m4 13h1m6 18h1m-15-29h1m24 6h1m-9 7h1m-14-1h1m16-10h1m-20-6h1m10 1h1m-8 19h1m-13 3h1m16-9h1m0 33h1m10-59h1m-25 44h1m11-25h1m11 5h1m-21 10h1m2-15h1m8 20h1m-5-15h1m-18 4h1m33-8h1m-15-11h1m13 27h1m-2 21h1m-16-36h1m13 41h1m-12-32h1m-1 25h1m11-3h1m-15-4h1m3-12h1m-25 29h1m12 4h1m17-8h1m2-7h1m-1-17h1m-19 20h1m-14-18h1m2 37h1m5 0h1m7-25h1m7 26h1m-6-80h1m-3 18h1m-17 27h1m21 27h1m-4-15h1m-21-9h1m-1-8h1m21-4h1m-27 18h1m6 11h1m12 5h1m11-32h1m-31 8h1m-8 49h1m-5-22h1m21-27h1m-16-17h1m-2 30h1m23 6h1m-5 2h1m1-50h1m3 39h1m2 2h1m-21-58h1m8 50h1m-24-24h1m6 36h1m0 11h1m30-7h1m-13-5h1m-20-27h1m0 15h1m2 5h1m1 6h1m-3-1h1m14 8h1m18-20h1m-37 43h1m62-30h1m-60 14h1m0 22h1m-8-76h1m-1 12h1m7 21h1m-5-5h1m4 6h1m-3-21h1m-6-15h1m6 69h1m-2-57h1m9-38h1m-22 1h1m16 67h1m-12-26h1m11 55h1m-4-47h1m-20-9h1m11-2h1m22 4h1m-22 24h1m-12-26h1m10 12h1m11 6h1m-20 6h1m4-29h1m5 44h1m-5 4h1m9-33h1m-18 20h1m1-21h1m13-32h1m-8 22h1m-6 28h1m13 12h1m4-43h1m-16 53h1m-11-50h1m6 7h1m13 30h1m-3-29h1m10 14h1m-8 5h1m14 0h1m-28-4h1m17-31h1m-26 30h1m14 0h1m-2-70h1m-5 45h1m7-9h1m11 21h1m-33-3h1m0 3h1m28 7h1m-20 4h1m32 5h1m-31-12h1m5 17h1m1-19h1m-9-1h1m9 11h1m-7 8h1m-21-20h1m22-23h1m0 55h1m-14-32h1m-3 0h1m5-6h1m-8 19h1m28-22h1m-26 26h1m28-25h1m-38-4h1m24 10h1m-26 11h1m31-6h1m-41-3h1m-4 10h1m23-2h1m-9-34h1m13 64h1m-29-36h1m26 10h1m-34 2h1m44 1h1m-28-7h1m-8 2h1m15 5h1m-11-32h1m8 16h1m3 14h1m-6-18h1m-17-19h1m43-15h1m-11 51h1m-10-13h1m-25 8h1m20 10h1m-4-14h1m14 28h1m-10 15h1m4-54h1m-16 28h1m-1 5h1m-14-34h1m10 4h1m13 52h1m14-53h1m-12-28h1m-35 28h1m2 32h1m19-9h1m-10-4h1m15-29h1m-21 45h1m0-27h1m14-9h1m2 14h1m-6 20h1m-14-24h1m11-10h1m10 1h1m-12 2h1m19 18h1m-28 2h1m3-1h1m0-38h1m-1 1h1m16 49h1m-2-4h1m-26-40h1m6 1h1m14 19h1m-40 10h1m39 5h1m-15 7h1m11-19h1m-18 7h1m-22 18h1m22-19h1m-7 17h1m22-35h1m-12 14h1m-14 3h1m18 19h1m-5-36h1m-17 36h1m10-8h1m-8-9h1m26 35h1m-29-30h1m5-13h1m-2 5h1m9-30h1m-28 27h1m37-10h1m-16 35h1m1-24h1m20-15h1m-42 5h1m10 6h1m10 16h1m-6 14h1m-10-37h1m-1 17h1m5-31h1m-13 23h1m15-9h1m-5 31h1m17-9h1m-37 17h1m11-41h1m-8-12h1m5-1h1m-3 19h1m2 17h1m-11 32h1m14-75h1m22 16h1m-40 5h1m10-41h1m34 19h1m-32 43h1m-16-43h1m-7 33h1m15 1h1m-8 22h1m9-39h1m-4 4h1m-2 24h1m-8-6h1m-7-6h1m6 32h1m24-20h1m-12-29h1m4 38h1m-25-29h1m11 12h1m0-24h1m1 17h1m-2 3h1m26 10h1m-37-12h1m23-7h1m-31-12h1m-1 17h1m13-12h1m10 27h1m4 7h1m8-28h1m-36 7h1m-9-21h1m16 59h1m33-57h1m-25-8h1m-17 32h1m17 0h1m-2 2h1m-3-32h1m8 27h1m1 9h1m-15-9h1m1 14h1m3-52h1m-16 38h1m21 25h1m0-51h1m-20 8h1m2-18h1m15 24h1m-7-13h1m7 19h1m-4 21h1m-35-20h1m41 30h1m-9-52h1m-15 22h1m16-21h1m-23 46h1m-1-59h1m-1 21h1m12 35h1m-13 34h1m5-28h1m-7-7h1m-14-6h1m17-2h1m4-36h1m5 3h1m-17 43h1m-6 9h1m1-61h1m1-14h1m6 21h1m11-26h1m1 26h1m10-13h1m-34-3h1m14 24h1m-9-26h1m18 4h1m-13-33h1m-21 17h1m4 5h1m24 11h1m-33 25h1m26-17h1m-14-48h1m-2 37h1m-9-26h1m5 14h1m24 1h1m-19 0h1m-14-21h1m11 6h1m-12 8h1m9 22h1m15-11h1m-7 11h1m7-1h1m-22 23h1m-22-11h1m18-3h1m-4-18h1m9 7h1m2 9h1m8-26h1m5 34h1m-6-15h1m18-4h1m-22-3h1m-6 0h1m-4 11h1m-10 27h1m8-11h1m-3-37h1m4-9h1m9 12h1m-26 41h1m11-31h1m-5 18h1m6-15h1m-1 11h1m3-17h1m-11 9h1m-21 3h1m19 20h1m-20-16h1m21-34h1m2 2h1m-7 18h1m19 23h1m-10-34h1m1-6h1m-13 59h1m15-25h1m-32-31h1m21-1h1m-24 10h1m12 1h1m15-2h1m-11-37h1m-21 50h1m10-16h1m22 20h1m-45-32h1m25 6h1m-11 15h1m18 16h1m-1-37h1m-7 19h1m-4-1h1m-3-35h1m3 40h1m-8 3h1m-2-12h1m2 6h1m18-14h1m-35 32h1m10-50h1m28 32h1m-17 4h1m-9 18h1m23-13h1m-13-42h1m-2 25h1m-21-17h1m21 39h1m-13 7h1m-3-7h1m-2-18h1m-16 8h1m16 10h1m6-17h1m8 14h1m14-18h1m-30-5h1m12 53h1m-34-37h1m25-25h1m-7 27h1m-4-40h1m7 22h1m-16 12h1m-1 8h1m-18-4h1m24 5h1m16-30h1m25 86h1m17 24h1m-26-21h1m16 3h1m-3-16h1m1-9h1m16 17h1m-13 21h1m-4-2h1m-4-16h1m10-21h1m-17 16h1m-4-6h1m-6-8h1m17 6h1m-15 10h1m-3 6h1m14-6h1m-31-4h1m31-16h1m-27 22h1m9 12h1m11-12h1m-16-9h1m20 3h1m-4-4h1m-18 35h1m14-33h1m5 0h1m-15 17h1m12-26h1m-18 17h1m-16 17h1m19-26h1m-13 23h1m26 0h1m-18-13h1m11 9h1m-10-27h1m-1 17h1m0-15h1m19 5h1m-22 8h1m-5 10h1m15-11h1m-6 17h1m-13-28h1m21 22h1m-3 1h1m-18-10h1m-7-3h1m-15 5h1m15-5h1m11-1h1m-24 9h1m26-13h1m-17 2h1m15 27h1m-3-16h1m-14-4h1m18 1h1m-25-3h1m13 2h1m-15 13h1m4-18h1m8 12h1m-4-10h1m-2 12h1m-3 0h1m12-5h1m-3-18h1m-6 36h1m-14-9h1m-13-32h1m33-2h1m-39 2h1m32 9h1m-11 11h1m-6-4h1m-9 11h1m4-2h1m2-6h1m8-19h1m4 13h1m4 9h1m-17 0h1m9-9h1m-2 8h1m-7-5h1m-16-17h1m25 2h1m4 3h1m-24 26h1m17-9h1m-14-7h1m26-9h1m-25 15h1m3 23h1m-9-15h1m-2-30h1m-1 15h1m7 6h1m-5-5h1m7 7h1m12 10h1m-16-10h1m-28-6h1m21 6h1m-27 4h1m33-18h1m-2 1h1m-28-4h1m19 25h1m-5-25h1m16 3h1m-14 12h1m14-5h1m-26-8h1m19 24h1m-10 0h1m3-8h1m-23-7h1m23 7h1m-7-5h1m11 11h1m-20-10h1m-11-13h1m12 14h1m-8 4h1m2-15h1m-5 3h1m7 18h1m-2-15h1m-4-15h1m15 2h1m-19-11h1m15 9h1m-5 8h1m-19-24h1m17-4h1m-13 13h1m22 19h1m-27-1h1m-1-21h1m-10 23h1m28-3h1m-12-8h1m1 2h1m2-13h1m-7-4h1m-7 4h1m5 6h1m9 16h1m-22-8h1m13-25h1m-2 40h1m1-5h1m-4-17h1m4 8h1m-8-8h1m1 18h1m-4-29h1m3 15h1m-9 9h1m13-14h1m-8-29h1m-3 26h1m-13-9h1m36 15h1m-44 12h1m24-18h1m-8 13h1m-1-2h1m5-10h1m-20 0h1m11 1h1m15 7h1m-25 35h1m-5-29h1m13-13h1m4 7h1m12 2h1m-17 5h1m-22-5h1m10 32h1m21-39h1m-43 31h1m16-33h1m-19 2h1m60 23h1m-65-6h1m44 3h1m-30 15h1m9-34h1m-45 13h1m36 4h1m6-13h1m-18 34h1m56-12h1m-59-24h1m11-9h1m5-2h1m-12 55h1m-32-52h1m68 42h1m-57-31h1m10 0h1m-11 16h1m19-25h1m6 18h1m0-2h1m-2 16h1m4 0h1m6-51h1m-24 37h1m-36 6h1m74-82h1m-3-8h1m-25 97h1m34-94h1m31 105h1m-26-37h1m-75-58h1m25 109h1m60-110h1m26 44h1m-81 18h1m49-39h1m10 24h1m-95-42h1" stroke="#9d9698" stroke-opacity="0.34" stroke-width="1" transform="translate(0 0.5)"/>
<path d="M335 144h1m36-16h1m-27 28h1m-9 1h1m19 6h1m-4-9h1m-28-4h1m20 26h1m-5-13h1m21 18h1m4-18h1m-31-11h1m14-39h1m6 38h1m-5-1h1m-11-12h1m0-7h1m-2 36h1m15-28h1m-43-5h1m27 19h1m0-19h1m-7 26h1m21-41h1m-20 22h1m3 25h1m-11-29h1m6 5h1m-2 1h1m-13-7h1m17 21h1m-9-16h1m9-4h1m-21 7h1m-13 14h1m31 7h1m-21-22h1m17 17h1m-18-6h1m1-27h1m1 51h1m-22-8h1m27-43h1m21 23h1m-17 4h1m-18 13h1m11 2h1m-22-12h1m7-33h1m-10 30h1m12-40h1m-11 44h1m-10-16h1m30 8h1m-21 5h1m15-18h1m-4-7h1m3 25h1m-13 1h1m11-17h1m-9 24h1m11-29h1m-22 23h1m-4 3h1m22-27h1m-1 37h1m0-48h1m-1 53h1m-14-27h1m-17 25h1m5-40h1m13 26h1m20-17h1m-6 7h1m4-9h1m-14 22h1m4-9h1m3-3h1m-19-18h1m-5 27h1m18-5h1m-40-15h1m41-7h1m-17 46h1m7-42h1m-21 0h1m1-3h1m15 7h1m1 15h1m-22 11h1m-9-13h1m13-3h1m-8 16h1m-7 10h1m17-25h1m-19-6h1m13 3h1m-1 0h1m14-11h1m-36 17h1m38 5h1m-23 9h1m13-3h1m8-6h1m-11 8h1m-1-10h1m5-2h1m-5-39h1m-2 45h1m16 2h1m-38-25h1m14 16h1m-8 20h1m-10-20h1m10 8h1m-4-14h1m14-30h1m0 31h1m-5 8h1m-1-6h1m-9-14h1m10 30h1m-15-8h1m-8-12h1m29 10h1m-6-16h1m2-20h1m-14 55h1m1-31h1m-14-13h1m25 26h1m-5-31h1m-19 36h1m23-2h1m-17-14h1m-23-9h1m18-16h1m6 22h1m-14 3h1m-3 12h1m4-7h1m14-6h1m-31-11h1m16 2h1m-10 27h1m11-1h1m-9-10h1m-2 18h1m-2-34h1m9 25h1m-6-18h1m-8 11h1m7 39h1m0-51h1m1 6h1m-3-17h1m8 11h1m-11 0h1m7 4h1m-11-9h1m18-13h1m-10 33h1m-5 9h1m2 6h1m4-34h1m-3 19h1m-9-16h1m-6 2h1m9-7h1m-3 24h1m-13-11h1m20-17h1m-32 18h1m3-28h1m21 22h1m-19 1h1m-13 1h1m23 7h1m9-5h1m-21-32h1m35 24h1m-26 36h1m7-47h1m-24 13h1m20 3h1m-9 12h1m21-16h1m-25 14h1m17 3h1m-4-3h1m-3-28h1m-13 11h1m14-19h1m-11 40h1m-6-9h1m2-6h1m10 5h1m-3 2h1m-14-16h1m13 29h1m-16-13h1m-22-16h1m12 37h1m23-15h1m-9 5h1m6 17h1m-20-25h1m-3-12h1m5 17h1m9 3h1m-9-14h1m-21-16h1m1 29h1m44-31h1m-20 7h1m-6 14h1m-1-1h1m10-15h1m-14-17h1m5 32h1m-26-2h1m7-13h1m4 13h1m14-3h1m-11 23h1m8-17h1m-26-3h1m28-9h1m-24 1h1m-7-19h1m19 22h1m-2-6h1m-1 12h1m16 6h1m-46-24h1m34 26h1m-13-16h1m16 2h1m-8 35h1m-7-25h1m26-6h1m-38-9h1m18 9h1m-25 24h1m-9-37h1m38 15h1m-9 20h1m-17-27h1m-7 6h1m31 14h1m-32 14h1m42-49h1m-29 15h1m3-7h1m-2 13h1m-8-23h1m7 13h1m-32 23h1m11-30h1m-5 51h1m35-34h1m-18-16h1m15 44h1m-36-39h1m5 6h1m13 19h1m-3-6h1m-1 4h1m-3-22h1m-3 7h1m10 5h1m-10 7h1m7-14h1m-14 29h1m-14-35h1m5 18h1m-1-23h1m21 27h1m-14-29h1m13 54h1m-13-35h1m-7 37h1m1-28h1m-2 32h1m-13-35h1m12 29h1m-8-10h1m13 32h1m-2-39h1m-19 37h1m20-10h1m-12-49h1m8 2h1m3 48h1m7-14h1m-4-15h1m-3 22h1m-23-20h1m10-14h1m1 50h1m-11-47h1m21 27h1m-18-24h1m6 19h1m-8-2h1m15 18h1m-21-4h1m13-15h1m-13 22h1m18-52h1m3 24h1m-13 14h1m8-60h1m-14 38h1m9 24h1m5-12h1m-16-34h1m10 45h1m-7-2h1m-32-33h1m14 34h1m5 3h1m6-11h1m-5 13h1m-16-45h1m33 20h1m-34-31h1m20 31h1m-23 49h1m19-52h1m3 12h1m-25 8h1m12-33h1m-1 40h1m-3-54h1m-9 79h1m9-33h1m25-11h1m-3-30h1m7 53h1m-22 7h1m-35-34h1m24 34h1m-4-33h1m12 17h1m-20-3h1m7-4h1m-12-3h1m14-31h1m-12 19h1m15 44h1m-19-13h1m19-58h1m6 71h1m-24-53h1m13 22h1m-5-20h1m29 23h1m-54-37h1m26 54h1m-7-26h1m16 7h1m-22-4h1m-19-5h1m23-30h1m2 50h1m9 1h1m-3-6h1m14 17h1m-41-59h1m26 42h1m-24-4h1m1-68h1m1 100h1m20-22h1m-23 10h1m-21-1h1m9-23h1m6 4h1m-18 19h1m6-41h1m27 13h1m-19-13h1m21 2h1m-23 12h1m-14-17h1m14 20h1m24 22h1m-1-14h1m-39 13h1m-4 27h1m11-78h1m12 55h1m-9-25h1m3 12h1m9 24h1m-16 0h1m10-61h1m-17 24h1m21 11h1m2-7h1m-23 4h1m-2 5h1m1-15h1m-11-38h1m43 48h1m-54-28h1m19-5h1m12 23h1m-9 31h1m-6-8h1m4-24h1m9-39h1m-22 17h1m-14 49h1m12-18h1m24-2h1m-10 7h1m-12-40h1m-8 14h1m11 39h1m-2-20h1m-10 30h1m4-17h1m25-5h1m-30-21h1m0 40h1m10 10h1m4-66h1m-14 27h1m15-3h1m-15-20h1m-5 13h1m1 10h1m-2-60h1m21 48h1m-35 34h1m23-32h1m-22-14h1m20 24h1m-31 22h1m9-12h1m28-1h1m-12-22h1m-21 1h1m1 7h1m-12-1h1m6 18h1m15-34h1m32-1h1m-41 55h1m3-5h1m6-10h1m-12-37h1m29 51h1m-14-32h1m-6 13h1m-12-34h1m1 34h1m-9 8h1m2-19h1m8-29h1m-3 34h1m14 24h1m-16-25h1m5-34h1m-20 56h1m7-52h1m12 15h1m-10 4h1m-21-9h1m35 1h1m0 4h1m1 50h1m-15-53h1m4 26h1m23-36h1m-38 23h1m4 6h1m-8 9h1m8 6h1m-28 17h1m21-63h1m-2 22h1m-5-39h1m9 50h1m-5-45h1m5 41h1m-15-8h1m-6-10h1m14 10h1m2-7h1m-25 43h1m32-23h1m-21-22h1m30-31h1m-23 52h1m-4-2h1m10-34h1m-6 34h1m0-28h1m-3-6h1m3 55h1m-14-32h1m0 8h1m14 6h1m-17-26h1m3 20h1m-3-36h1m-4 55h1m-1-49h1m15 23h1m-21 0h1m10-7h1m-10-14h1m21 17h1m-18 20h1m16-12h1m-35-18h1m29 32h1m-4-72h1m-26 54h1m14 7h1m-15-22h1m20-1h1m25 20h1m-25-31h1m27 25h1m-29 23h1m12-12h1m-13 18h1m-19-29h1m13 5h1m-16-6h1m1 12h1m23-43h1m-22 27h1m-8 11h1m16 26h1m16-37h1m-32-7h1m5 51h1m14-80h1m-5 44h1m-21-30h1m16 35h1m5 3h1m-30 16h1m19-29h1m17 6h1m-7-3h1m-9 25h1m-10 1h1m-4-34h1m25 0h1m-30 34h1m30-41h1m-21-17h1m-1-29h1m3 93h1m-15-12h1m13-58h1m0 74h1m-14-17h1m-2-8h1m15-30h1m10 3h1m-18-10h1m15 54h1m10-24h1m-34 2h1m15-5h1m-10 0h1m11-18h1m6 40h1m-21-7h1m18-43h1m-12 38h1m1-3h1m-1-7h1m-2 10h1m-13-14h1m7-26h1m9-2h1m-6-19h1m-13 32h1m-10-44h1m23 30h1m-11-23h1m10 6h1m-28-23h1m-4 47h1m42-12h1m-46 2h1m14-23h1m3 10h1m22-11h1m-35 26h1m27-15h1m-23-3h1m13-35h1m1 48h1m-29-7h1m17-9h1m6 8h1m9-19h1m-32 35h1m13 27h1m11-37h1m-7-12h1m12 15h1m-15-12h1m-28-3h1m31-16h1m-17 2h1m-2 17h1m20 12h1m-34 2h1m5-12h1m27 0h1m-32 18h1m23-35h1m-30 4h1m13 17h1m8-24h1m13 17h1m-30-4h1m16 3h1m-8 15h1m3-20h1m10 18h1m-14-11h1m-18-6h1m17-17h1m5 12h1m-30 21h1m44-6h1m-19 23h1m-18-16h1m-12-7h1m28-9h1m-2 5h1m21-10h1m-24-13h1m-13 20h1m23-7h1m-24 0h1m7 4h1m8 22h1m-11-33h1m-20 7h1m35 21h1m-18 3h1m-18-41h1m12 35h1m2 14h1m15 3h1m-18-29h1m19 6h1m-33 23h1m7-15h1m-1 1h1m12-10h1m-12 5h1m25-11h1m-14 7h1m-12-3h1m0 15h1m2-17h1m-13 12h1m21 11h1m-2-9h1m-20-37h1m11 22h1m-8 33h1m-14-22h1m9-16h1m23-3h1m-22 8h1m7 30h1m-17 11h1m9-12h1m9-30h1m-21 14h1m1 12h1m-10 0h1m4-40h1m12 45h1m-3-10h1m14-25h1m-7 5h1m-19 19h1m11 22h1m3-31h1m4-18h1m-15 9h1m-15 2h1m56 61h1m21 6h1m-19 17h1m-4 7h1m24-32h1m-6 10h1m-20-20h1m-1 8h1m8 15h1m-13 9h1m40-25h1m-42 11h1m14 5h1m-20-13h1m20 4h1m-16 14h1m18-22h1m-8 2h1m-11 6h1m12-9h1m-8 38h1m5-9h1m5-29h1m6 7h1m-17 3h1m11-13h1m-3-5h1m-26 19h1m31-31h1m-15 49h1m12-21h1m-20-2h1m3-7h1m-7 3h1m2 14h1m11-3h1m-25 18h1m19-18h1m-5-4h1m-23 7h1m40-7h1m-31 2h1m26-12h1m-16 0h1m-12 14h1m-16 1h1m19-5h1m9 11h1m-4-24h1m2 16h1m-36-6h1m9 15h1m13-21h1m-19 16h1m13-13h1m12 12h1m-2-15h1m-3 18h1m-10 3h1m-6-18h1m10-5h1m8 15h1m-15 7h1m5 6h1m-6-14h1m6 6h1m-2-6h1m-9 7h1m-2-6h1m3 12h1m2-15h1m-1 15h1m-1-17h1m6-15h1m2-6h1m-9 41h1m-12-1h1m-2-35h1m-1 24h1m25-27h1m-25 40h1m9-10h1m2-10h1m-5 2h1m6-20h1m-11 25h1m2-2h1m3 4h1m8-23h1m-23 14h1m13 3h1m-19-4h1m5 23h1m1-19h1m7-3h1m-20 7h1m0 1h1m11 5h1m-5-6h1m-1-23h1m-1 35h1m-8-6h1m12 4h1m2-1h1m-2 2h1m-4-21h1m3 4h1m1-15h1m-14 4h1m30 10h1m-25 4h1m5-6h1m-4 22h1m-13-12h1m23-1h1m-2-11h1m-12 0h1m-4 12h1m3-18h1m-2 2h1m0 27h1m-2-17h1m-3 2h1m-3-13h1m-1 22h1m-13-8h1m-14 1h1m32-8h1m6-1h1m-45 3h1m22-6h1m-9 14h1m11 7h1m-10-20h1m6-31h1m16 34h1m-19-8h1m-3-10h1m0-4h1m6-13h1m-2 22h1m5 10h1m-3-7h1m-7 14h1m-3-25h1m4-2h1m-4-5h1m-12 13h1m-5-16h1m19 23h1m-17 1h1m18-8h1m-15 10h1m2-22h1m-4 15h1m2-8h1m7 12h1m-10-9h1m13-20h1m-18 17h1m3 5h1m-10 3h1m20-19h1m-3 3h1m-6 37h1m-5-11h1m7 0h1m-11-7h1m-3-3h1m14-11h1m-27 2h1m20 16h1m-5-6h1m12-4h1m-10 5h1m23 23h1m-32 10h1m4-11h1m-5-35h1m-34 24h1m43 26h1m-19-42h1m25 38h1m8-36h1m-58 14h1m15 20h1m2-8h1m26-31h1m-47-12h1m-10 26h1m67-15h1m-34 22h1m-10-19h1m-1 7h1m-15 19h1m19-13h1m-15 17h1m-4-5h1m34 2h1m-4-18h1m-17 14h1m-5 0h1m-14 0h1m49-39h1m-73 57h1m33-30h1m17 0h1m7-2h1m-1 25h1m-31-13h1m23-31h1m10 16h1m-49-22h1m27 29h1m-15-5h1m31-13h1m7 10h1m-95 49h1m59-38h1m27-89h1m18 113h1m15-55h1m10 31h1m-44-36h1m-91 10h1m13 63h1m67-104h1m-61-19h1m52 15h1m6-16h1" stroke="#b5aab0" stroke-opacity="0.36" stroke-width="1" transform="translate(0 0.5)"/>
<path d="M337 160h1m7-18h1m21-8h1m-21 10h1m26 19h1m-27-9h1m3-30h1m-3 19h1m0 4h1m-7 1h1m6-18h1m19 37h1m-36-45h1m23 35h1m-29-27h1m10 10h1m-13-1h1m13 4h1m-13 12h1m-5-4h1m42-28h1m-5-8h1m-24 27h1m-5 4h1m31 30h1m-24-12h1m-18-2h1m5 3h1m11-6h1m-1-12h1m-1 8h1m-14-17h1m21 12h1m5-27h1m-7 13h1m-8-4h1m4 23h1m-25-7h1m-3 24h1m24-39h1m-13 9h1m20 11h1m-10 9h1m-21-24h1m-13 21h1m22-32h1m9 48h1m-10-47h1m9-2h1m-12 52h1m-15-54h1m0 30h1m36-7h1m-28 18h1m7-25h1m0 13h1m-16 10h1m15 9h1m-8-18h1m-3-16h1m-1 20h1m-11 29h1m-2-52h1m21 19h1m-40-3h1m23-13h1m7 24h1m-11-19h1m1-13h1m10 13h1m-1-9h1m-10 0h1m16 7h1m-8-10h1m6 4h1m4 8h1m-5 6h1m-15 5h1m12-36h1m-4 27h1m8-4h1m-41 1h1m12 38h1m11-15h1m5-5h1m3-6h1m-3 1h1m-4 0h1m-11-38h1m14 38h1m-11 3h1m1 1h1m-1-8h1m0-16h1m-6-4h1m10 0h1m-11 18h1m-3 22h1m12-21h1m-13-27h1m-14 31h1m7 18h1m-11-18h1m2 5h1m12-8h1m-13-5h1m9-10h1m2 15h1m6 25h1m-28-3h1m22-42h1m-9 15h1m2 8h1m2 9h1m5-2h1m-36-5h1m26-10h1m6-40h1m9 54h1m-41-7h1m15-30h1m0 10h1m15 21h1m-27-1h1m-10 11h1m16-33h1m-11-1h1m20 26h1m-15 5h1m26 10h1m-37-37h1m39 25h1m-50-4h1m26 3h1m-5-19h1m7 11h1m-15 26h1m7-18h1m3-11h1m-12 15h1m10 14h1m6-21h1m-34-18h1m26 9h1m17 2h1m-33-11h1m6 30h1m3-20h1m-5-9h1m-4-11h1m9 24h1m17-22h1m-8 25h1m-35-7h1m15 19h1m13-12h1m6-14h1m-36-5h1m-12-22h1m35 17h1m-15 7h1m1 7h1m7 15h1m3-10h1m-20-5h1m15-3h1m-3 10h1m-14 19h1m1-6h1m-7-18h1m16-3h1m-10 36h1m0-9h1m5-21h1m-16 10h1m-8-8h1m7-2h1m3 6h1m-13-11h1m13 1h1m-10 19h1m31-2h1m7-14h1m-38-6h1m-2 12h1m-1-16h1m-7 14h1m14-22h1m-4 33h1m16 5h1m-1-5h1m-20-7h1m19-6h1m-32-9h1m23 36h1m8-19h1m-23-24h1m17-2h1m-3-16h1m-20 41h1m30-18h1m-16 3h1m2 17h1m-12 0h1m-1-12h1m-9-9h1m1 4h1m24 15h1m-22-22h1m1 29h1m-6-20h1m1 22h1m16-27h1m-38 3h1m26 3h1m-9 8h1m9 3h1m-6-3h1m3-12h1m-6 12h1m-1 43h1m-17-30h1m25-39h1m-5 32h1m-2-6h1m-6 4h1m-20-4h1m12 6h1m4-8h1m6-11h1m21 11h1m-36-9h1m13-10h1m-11 24h1m4-11h1m-11 12h1m8 14h1m13-21h1m-22 18h1m12-20h1m-4-7h1m-16 10h1m19 6h1m0-12h1m21 12h1m-22-1h1m-2 16h1m-17-56h1m-3 27h1m-1 11h1m0-16h1m19-2h1m-31 43h1m39-53h1m-37 26h1m-13-28h1m55-13h1m-35 70h1m10-41h1m10 6h1m-14 7h1m-20 16h1m20-15h1m0-27h1m-22 19h1m17-9h1m-15 24h1m6-31h1m-1 43h1m7-33h1m8 7h1m3 34h1m-26-14h1m-1-4h1m11 1h1m-19-18h1m21 5h1m-11 5h1m0-16h1m0 15h1m17 27h1m-31-34h1m4 70h1m29-20h1m-17-53h1m-15 15h1m9 29h1m-13-45h1m15-6h1m-2 59h1m-14-24h1m4-13h1m-3 0h1m3-20h1m4 18h1m-22-12h1m19 23h1m-4 27h1m7-35h1m-6-4h1m7 8h1m-41 4h1m26 6h1m-4 10h1m-7-14h1m-6 14h1m-2-12h1m7-3h1m9-14h1m6 7h1m-36-15h1m27 32h1m-13-9h1m-3 9h1m15 18h1m-21-30h1m12-45h1m-14 73h1m-9-13h1m10-15h1m7-1h1m11-21h1m-35 20h1m30 29h1m13-43h1m-25-8h1m-10 28h1m22-19h1m-7 3h1m6 26h1m1-14h1m-20 35h1m6-38h1m-7-16h1m-1 19h1m5-33h1m3 47h1m18-20h1m-37 11h1m0-10h1m15-32h1m-24-11h1m22 43h1m8 18h1m-5-43h1m-27 33h1m38 5h1m-7-13h1m-21 6h1m-20 4h1m38-52h1m-32 48h1m4 2h1m21-24h1m-11 8h1m-14 12h1m3-14h1m-11 25h1m32-29h1m-32 12h1m31-32h1m-21 10h1m14 26h1m-19-3h1m-3 15h1m23 4h1m-22-8h1m22-10h1m-26 28h1m18-12h1m-18-14h1m3-12h1m-6 50h1m-9-34h1m9-3h1m-14 17h1m-6-66h1m37 2h1m-2 59h1m-24-19h1m2 22h1m-9 1h1m15 24h1m-10-26h1m-16-28h1m29 13h1m-30-31h1m28 56h1m-8-34h1m-11 45h1m-1-28h1m13-11h1m5 14h1m-15-3h1m14-18h1m-26 16h1m-1-25h1m-11 19h1m20-24h1m10 22h1m-23 32h1m4-13h1m7-55h1m7 55h1m6 25h1m-13-7h1m18-28h1m-6-3h1m-4-8h1m-16-21h1m-13 39h1m15-31h1m-10 6h1m-16 18h1m47 32h1m-25 2h1m3-64h1m-20 9h1m-2 10h1m22-9h1m-12 13h1m-20 25h1m24-26h1m-12 7h1m3-17h1m-15 55h1m-4-44h1m17 2h1m-12-2h1m5 24h1m5-13h1m-8-2h1m0-19h1m17-5h1m-13-16h1m-12 46h1m-5-1h1m-5-9h1m24 11h1m-12-54h1m-10 40h1m22-1h1m-12-16h1m7 33h1m-27-28h1m33 5h1m-16 35h1m-6-32h1m-14 10h1m32 10h1m-29 12h1m1-1h1m-3-34h1m12 32h1m14-2h1m-24-53h1m26 30h1m1-14h1m-27-23h1m-20 34h1m19 35h1m-3-37h1m0 3h1m5-9h1m-10 37h1m4-40h1m1 26h1m14-10h1m-3 25h1m-5-70h1m-5 52h1m-12-30h1m-6 58h1m-12-24h1m37-31h1m2 3h1m-11 30h1m1 35h1m-18-62h1m-5 15h1m1-12h1m-4 36h1m14-15h1m16 1h1m1 10h1m-20-55h1m17 6h1m-33 42h1m-2-49h1m-10 46h1m25-6h1m-18-21h1m26 19h1m-19 19h1m-14-37h1m-6 14h1m22-37h1m-6 38h1m10-10h1m-3-3h1m-7 21h1m4 32h1m-7-37h1m9-8h1m-7 10h1m-16-17h1m10-7h1m-3 58h1m1-19h1m-11 6h1m-8-26h1m34-24h1m-28 29h1m-1-19h1m8-1h1m8 9h1m7 53h1m1-76h1m-23 33h1m2-19h1m-6 8h1m8 9h1m-32 6h1m31-42h1m-18 42h1m17 12h1m2-27h1m-19 6h1m6-16h1m11 43h1m-2-30h1m-1 11h1m7 37h1m-27-17h1m5-6h1m-22-31h1m23-5h1m13-11h1m-4 33h1m-21 4h1m18-41h1m-9 10h1m-12-12h1m-2 26h1m-2 30h1m7-10h1m2-7h1m5-11h1m-12-36h1m-7 29h1m18 28h1m-17-16h1m-4 11h1m25-32h1m-14 30h1m-4-15h1m2-52h1m5 39h1m13 20h1m-8-9h1m-27 32h1m0-15h1m9 21h1m-10-52h1m3 13h1m-9 22h1m25-8h1m-20-17h1m4 14h1m-1-1h1m-25 5h1m34-14h1m-1 1h1m-22 4h1m-13 26h1m24-9h1m-3-35h1m13 40h1m-3-40h1m-3 29h1m-8-19h1m5-17h1m-27 11h1m13 3h1m-8 32h1m0-29h1m1 2h1m-3-10h1m-10-41h1m16 11h1m17-8h1m-17-5h1m-18 27h1m16-15h1m1-20h1m-12 65h1m14-28h1m-10-38h1m-2 12h1m6-2h1m7 20h1m-38-5h1m36 0h1m-26-10h1m17-6h1m-25 2h1m17 9h1m-7 14h1m8 14h1m-3 1h1m23-44h1m-30 27h1m-10-27h1m11 38h1m-11-9h1m27-3h1m-11-47h1m8 64h1m-34-36h1m30 23h1m-37 1h1m27-13h1m-4-10h1m21 34h1m-16-30h1m7-21h1m-16 30h1m4 7h1m-7-10h1m14-14h1m-9 26h1m-21-34h1m16 24h1m-3 1h1m-13 12h1m1 11h1m-8-22h1m16-4h1m14-4h1m-24-10h1m30-2h1m-40-14h1m5 35h1m-20-5h1m4-14h1m27-8h1m-10 33h1m19-32h1m-22 3h1m-17 49h1m19-28h1m-5-17h1m-10-3h1m5 26h1m-6-4h1m-3-18h1m28 11h1m2-30h1m-30 35h1m18-14h1m-19 29h1m20 4h1m-15-23h1m4-7h1m-5-24h1m3 12h1m-3 26h1m-9-3h1m-3-33h1m3 4h1m7 28h1m2 14h1m3 17h1m0-23h1m6-14h1m-42 4h1m32 4h1m-10-2h1m3-7h1m-13-5h1m-5 32h1m22-2h1m-20-47h1m0 39h1m-3-17h1m-3-11h1m-1 22h1m26 16h1m-1 24h1m-17-58h1m26 15h1m7-9h1m-43 16h1m-10-14h1m29-1h1m-16 2h1m10 10h1m-2-32h1m-14 46h1m-8-13h1m10 22h1m40 31h1m-7-3h1m15-1h1m-17-4h1m25-1h1m-10 21h1m-7-31h1m-17 15h1m1 16h1m14-21h1m7 20h1m-22-32h1m7 31h1m-7-13h1m15 8h1m-26-6h1m19-19h1m-15 13h1m4-18h1m17 32h1m-2-28h1m-4 12h1m-1 29h1m-25-16h1m24 15h1m-8-34h1m6 19h1m-5-25h1m9 29h1m-15-16h1m-25 5h1m37 27h1m-21-23h1m-14 2h1m18-24h1m-1 21h1m-11 1h1m20-10h1m-12 30h1m-17-8h1m12 0h1m-6-3h1m6-4h1m3 6h1m-13 2h1m13 2h1m-10-31h1m6 17h1m15-1h1m-2-2h1m-23-20h1m13 0h1m-4 36h1m-4-7h1m0-21h1m1 12h1m3-7h1m-15-6h1m13 26h1m3-8h1m-7-10h1m-16-14h1m24 19h1m-23 24h1m9-32h1m9 9h1m-19-8h1m2 4h1m3 6h1m-15-2h1m22 19h1m-7-6h1m-6-21h1m-12 11h1m9 10h1m-13-16h1m8 17h1m-2-13h1m-9-1h1m8 3h1m-11-3h1m-6 9h1m29-2h1m-12-14h1m2 4h1m-6 11h1m-7-5h1m-2-11h1m26 22h1m-23-13h1m-2-15h1m-10 8h1m11 6h1m-1-2h1m31-4h1m-29 6h1m-7-6h1m10 2h1m-13-2h1m-14 10h1m-2 7h1m19-11h1m-24 7h1m20-5h1m-24-6h1m15 0h1m-5 13h1m-4-9h1m5 8h1m22-10h1m-13-4h1m2-14h1m-26 1h1m22 20h1m-4-3h1m-3-3h1m9-1h1m-16 14h1m18-11h1m-18-13h1m14 31h1m6-18h1m-29 11h1m0-7h1m14 7h1m-8-5h1m10 6h1m-2 7h1m-19-24h1m26 17h1m-27 15h1m13-29h1m-5 19h1m-4-11h1m-14-4h1m15 11h1m-6-36h1m3-18h1m0 14h1m-15 30h1m-9-22h1m19-2h1m2 21h1m-7 2h1m12-27h1m-16 6h1m-5 29h1m8-20h1m-6-1h1m-4-1h1m-3 2h1m-6 1h1m29-25h1m-22 22h1m-7-2h1m1-4h1m10 12h1m-11-12h1m-8 9h1m2 0h1m9-21h1m-5 27h1m4-21h1m-5 8h1m9 23h1m5-32h1m-19 19h1m4-30h1m-9-6h1m17 17h1m-7 2h1m-9 7h1m14 2h1m-33 0h1m8 3h1m1-13h1m15 32h1m-27 1h1m61-13h1m-55-1h1m9 18h1m12-34h1m5 11h1m9 14h1m-40 13h1m-12-22h1m0 13h1m-4-21h1m18 18h1m29 6h1m-56-4h1m7-14h1m-11 5h1m-1 20h1m-3-11h1m70-15h1m-62 25h1m21-31h1m-8 9h1m25-3h1m-14 27h1m-8-34h1m6 26h1m-48-31h1m-11 15h1m53 8h1m3-6h1m-25-9h1m20 14h1m5-19h1m8 25h1m-53 13h1m37-18h1m-21-15h1m49 20h1m-37-8h1m-12-13h1m-56-33h1m3 31h1m16-27h1m127-12h1m-99 22h1m16-48h1m-28-6h1m-28 24h1m108 27h1m-27 66h1m49-21h1m-62-67h1m-62-12h1" stroke="#b5aab0" stroke-opacity="0.36" stroke-width="1" transform="translate(0 0.5)"/>
<path d="M339 115h1m13 21h1m-2-12h1m-6 45h1m-8-12h1m11-27h1m-18 12h1m3-2h1m13-3h1m-11 28h1m-9-18h1m6 18h1m7-21h1m7-1h1m-17 6h1m7 29h1m-14-42h1m28 20h1m-22-5h1m-4 3h1m9 1h1m8-17h1m-13 11h1m19 8h1m-33-2h1m6-57h1m21 35h1m-16 22h1m6 1h1m-18-3h1m7-36h1m12 48h1m-17-29h1m37 8h1m-29-3h1m-3 3h1m-28 8h1m21-21h1m-9 18h1m-20 17h1m7-39h1m16 33h1m21-11h1m-11-13h1m-15-2h1m2 21h1m3 24h1m-18-55h1m12 26h1m-2-3h1m-1-25h1m6 26h1m-1-24h1m-3 31h1m-22-5h1m35 0h1m-2 8h1m-15-4h1m-1-32h1m10-2h1m-10 22h1m-7-6h1m3 24h1m1-37h1m14 35h1m-35-27h1m24 20h1m-22-15h1m-1 16h1m-10-11h1m-3 2h1m39 37h1m-17-29h1m14 7h1m-41-22h1m50 35h1m-21-37h1m-8 24h1m15-6h1m-27-1h1m27 1h1m-22-5h1m3-10h1m-2 21h1m-2-15h1m-28 25h1m32-20h1m10 22h1m-17-34h1m-2 31h1m-10-2h1m32-36h1m-27 13h1m16 13h1m-16-13h1m-10 33h1m32-33h1m-8-8h1m-22 16h1m2-9h1m1 7h1m-23-6h1m44 1h1m-39 29h1m9-30h1m8 16h1m-2 6h1m3-16h1m-32 26h1m21-31h1m7-4h1m2 6h1m-6 7h1m13-12h1m-43 15h1m2 1h1m-2-7h1m12-2h1m-2 6h1m11-23h1m-10 15h1m16-1h1m15 9h1m-38-20h1m12 39h1m5-50h1m-25 21h1m2 7h1m17 0h1m-15 31h1m-5-36h1m10-2h1m2-6h1m0-13h1m-4 38h1m2-23h1m-10 7h1m-21-11h1m16 17h1m7-34h1m8 22h1m20-2h1m-33-35h1m0 42h1m4 6h1m-21 0h1m14-3h1m-20-8h1m5 29h1m13-30h1m0 18h1m-1-11h1m-13 9h1m23-17h1m-30-8h1m-1 25h1m19-16h1m-2 41h1m-2-32h1m-2 1h1m8 6h1m-3 21h1m-11-41h1m7 33h1m-16-20h1m3-15h1m-2 12h1m21 22h1m-21-17h1m1-16h1m-10 7h1m4 13h1m-10-22h1m18 2h1m2 21h1m5 6h1m-31-27h1m19 4h1m-3 3h1m8 30h1m3-34h1m-30 0h1m7 3h1m-22 26h1m36-17h1m-18 5h1m22-15h1m-12-9h1m-18 40h1m-6-1h1m23-19h1m18 16h1m-22-11h1m-21 11h1m32 9h1m-22-9h1m-3-11h1m8-7h1m4 3h1m2-4h1m-17-4h1m4 21h1m2-27h1m4-16h1m-20 50h1m-16-1h1m19-10h1m11-21h1m-6 9h1m-20-9h1m2 18h1m21 1h1m-8-36h1m-30 40h1m25-33h1m9 27h1m-24 7h1m9 4h1m-13-16h1m24 14h1m-22-9h1m5 5h1m14-22h1m-15 27h1m-9-36h1m2 27h1m6-13h1m10 13h1m-14-3h1m17-13h1m-25 9h1m-5 0h1m23-6h1m1-7h1m-9 28h1m16-8h1m-27-39h1m-10 51h1m2-20h1m-1-3h1m-12-6h1m26-12h1m5 7h1m5-9h1m-11 44h1m-2-49h1m-9 34h1m9-10h1m-5-7h1m-4-8h1m8 14h1m12 13h1m-25 7h1m7-16h1m-25-1h1m8-22h1m-9 17h1m-6 9h1m22-28h1m-20 21h1m34 2h1m-17-17h1m-17 29h1m5-8h1m-4 12h1m6-7h1m9 6h1m-3-8h1m3-19h1m-9 3h1m-9-21h1m-2 34h1m-10-20h1m39 29h1m-30-10h1m2 13h1m5-34h1m-27 13h1m16 4h1m20 14h1m1-24h1m-16 47h1m-23-46h1m30 29h1m-11-21h1m-17 11h1m23-5h1m8 2h1m-15-2h1m-23 36h1m35-16h1m-17-7h1m16 33h1m-32-13h1m2-30h1m-18 38h1m41 18h1m-27-17h1m4-4h1m16-1h1m-20-15h1m-13-13h1m8-13h1m24 13h1m-41-5h1m14 7h1m26-2h1m-39-22h1m14 63h1m30-34h1m-34 8h1m14-24h1m-2 22h1m-9 17h1m7-1h1m13-20h1m-30 12h1m26-9h1m-16 9h1m6-28h1m-3-6h1m-13 32h1m3 14h1m-8-48h1m9 10h1m14 7h1m-27 16h1m17-6h1m-17-24h1m9 6h1m-5 27h1m-20-15h1m15 7h1m4-35h1m-1 27h1m-22 26h1m17-39h1m-14 52h1m-6-33h1m9-19h1m5 52h1m9-55h1m-34 23h1m17-3h1m8-2h1m-18-1h1m6 27h1m-1-41h1m9 11h1m1 12h1m7 24h1m-5-12h1m-4-21h1m-16 12h1m5-15h1m14 11h1m-28 2h1m16 4h1m-11-15h1m7-23h1m8-17h1m-26 49h1m21-7h1m-10 1h1m-19 2h1m-1 22h1m2-35h1m-1 4h1m20 19h1m-2-9h1m-10 11h1m-2-10h1m-3 15h1m-2-12h1m19 5h1m-19-28h1m16 44h1m-7-36h1m-1 19h1m28-3h1m-1 20h1m-37-49h1m22 18h1m-4-55h1m-10 43h1m-22 32h1m32-7h1m-18 2h1m-16-12h1m21-3h1m24-10h1m-31-2h1m-1-11h1m0 32h1m9 1h1m-15 7h1m-2 14h1m2-63h1m-4 19h1m20 25h1m-27-29h1m24 37h1m-15-24h1m4 16h1m-25-3h1m5-9h1m-7-9h1m13-2h1m-10 19h1m14-3h1m-5-4h1m-17-10h1m32 9h1m-26-19h1m15 35h1m-25 5h1m10 3h1m5-38h1m-12 28h1m14 26h1m-23-57h1m2 46h1m22-29h1m-16 33h1m20-51h1m-43 10h1m24 5h1m-5-22h1m20 28h1m-26-22h1m2-5h1m-7 43h1m1-3h1m-1-61h1m-2 21h1m27 18h1m-17 16h1m10 9h1m15-64h1m-33 43h1m12 52h1m5-38h1m-4-24h1m-28 16h1m18-2h1m1-11h1m-7 18h1m-13 13h1m10 20h1m-12-16h1m9-28h1m4-23h1m26 30h1m-31 7h1m11 7h1m-28-30h1m15 19h1m-2-3h1m-2 2h1m16-28h1m-16 28h1m-11-42h1m17 4h1m6 34h1m-27 37h1m9-54h1m-1 39h1m18-3h1m-20-16h1m-8-55h1m8 80h1m-1-2h1m7-42h1m-5-4h1m-11-4h1m-1 43h1m24-18h1m-7-1h1m-2-17h1m-3 0h1m-1 21h1m-9 10h1m-15-28h1m19 6h1m-18 31h1m20 15h1m4 5h1m-26-53h1m-4-18h1m-10 44h1m8-20h1m13 26h1m-7-24h1m-6 26h1m-18-9h1m8-5h1m9 27h1m12-7h1m-3-31h1m-14 28h1m-12-25h1m26-17h1m-8 42h1m2-7h1m-18-9h1m9-47h1m-16 35h1m2-25h1m21 45h1m-18-10h1m-13-3h1m17-3h1m20-7h1m-16-12h1m-2-8h1m10 10h1m-11 22h1m-9 4h1m-1 13h1m3-15h1m-6-13h1m6-23h1m15 23h1m-20 16h1m8-13h1m6-30h1m-27 40h1m3 21h1m-10-6h1m39 7h1m-29-87h1m-16 70h1m23-20h1m-19 9h1m-8-5h1m-2-9h1m42 20h1m-39-5h1m-3-4h1m26 5h1m2-23h1m-20-16h1m-2 26h1m22 8h1m-11-24h1m-28 34h1m39 2h1m-11-49h1m-4 34h1m20 11h1m-45 17h1m20-47h1m0 31h1m-9-33h1m11-5h1m-12 61h1m-6 11h1m10-54h1m-13 7h1m12 52h1m-10-65h1m22-23h1m-7 11h1m-7 41h1m-10-11h1m21 15h1m-24 18h1m-2-71h1m-13 16h1m33-7h1m-34 21h1m20 26h1m-18-14h1m5 37h1m14-35h1m-3-4h1m-14-7h1m1 10h1m7 10h1m11-34h1m0 14h1m-43-44h1m60 30h1m-31 15h1m-14-34h1m23 26h1m-18 54h1m6-49h1m-9-69h1m-12 95h1m11-73h1m8-3h1m3 10h1m-15-20h1m-12-7h1m23 29h1m-27-15h1m2 12h1m19 20h1m-18-4h1m0-20h1m13 16h1m2 6h1m-7 2h1m-22-37h1m17 31h1m-11-15h1m-12-10h1m27 14h1m-14 11h1m-5-15h1m8-8h1m8 16h1m-13 5h1m2 8h1m-8 7h1m-8-2h1m7 2h1m-7-16h1m6-14h1m11 46h1m3-49h1m-1-7h1m-2 16h1m-27 25h1m24-43h1m6 42h1m-12-9h1m13-27h1m-34 23h1m-5 2h1m37 7h1m-24-28h1m-2-18h1m-6 8h1m-3 42h1m18-6h1m-1-9h1m5-5h1m-16 0h1m8-24h1m-5 39h1m-22-25h1m26 3h1m0 25h1m-13-43h1m5-9h1m-27 21h1m28 19h1m-3-11h1m17-33h1m-4 12h1m-4 34h1m-33-7h1m35 6h1m-7-15h1m-9 7h1m1-36h1m-4 32h1m-23 11h1m24-6h1m-13-11h1m-16-23h1m18 15h1m19 35h1m-30-14h1m22-12h1m-28 13h1m12 8h1m16 16h1m-8-31h1m-16 5h1m2-22h1m-10 25h1m-8 6h1m13-43h1m-3 39h1m12-21h1m-22-6h1m27 43h1m-2-42h1m-25 10h1m22 37h1m-17-36h1m-10 11h1m-1-4h1m16-3h1m-3-13h1m-26 25h1m41 18h1m-12-23h1m2 4h1m7-7h1m-22-5h1m-6 3h1m17 4h1m-27-3h1m5-4h1m3-16h1m-4 4h1m2 6h1m-6-4h1m5-18h1m23 37h1m-24 10h1m8 1h1m-11-43h1m51 78h1m-5 13h1m16 16h1m-22-36h1m-5 18h1m17-11h1m-4 9h1m-9 2h1m13 12h1m-1 2h1m-22-11h1m7 2h1m15-25h1m-1 16h1m-26 1h1m-12-9h1m13 7h1m1-4h1m4 10h1m-15 15h1m1 0h1m26-18h1m-18 2h1m12 1h1m-8-4h1m-3 15h1m12-15h1m-21-2h1m13 12h1m-20-28h1m20 4h1m-7 28h1m-14-25h1m-3 22h1m-1 13h1m-4-26h1m14-27h1m3 14h1m21 25h1m-38-9h1m4-8h1m-8-4h1m2 11h1m13-10h1m-2 2h1m-4 9h1m6-3h1m-16 16h1m8-15h1m14 4h1m-36 1h1m26 1h1m-11 4h1m-7-2h1m-3-15h1m6 11h1m-9-16h1m-7 4h1m-2-4h1m32 32h1m-7-20h1m-29-1h1m22 4h1m-7-12h1m0-18h1m-4 22h1m-6 19h1m13 16h1m-13-38h1m-1 17h1m15-2h1m-23-3h1m16 5h1m6-7h1m-39 8h1m8 3h1m11-27h1m-17 26h1m4-8h1m22 3h1m-7-11h1m14 1h1m-40 2h1m23-8h1m9-8h1m-30-4h1m30 30h1m-23-7h1m16-5h1m-4-16h1m11 22h1m-18 7h1m5-22h1m27-10h1m-43 17h1m17-3h1m-21 16h1m24-26h1m-26 20h1m4-7h1m9 13h1m-11-2h1m-3 0h1m-5-10h1m2-3h1m24 0h1m-19 20h1m-21-6h1m11-17h1m22-12h1m-1 43h1m-37 4h1m30-4h1m-12-20h1m-13 7h1m13-10h1m-6-5h1m8 12h1m11 5h1m-22-6h1m-15 5h1m18-10h1m0-18h1m-3 19h1m1-13h1m-1 20h1m-2-7h1m-10 8h1m5-10h1m6 3h1m4-7h1m-13 21h1m7-1h1m6-29h1m-15-8h1m-5-1h1m-3-4h1m14 32h1m-20-25h1m9 19h1m-1-10h1m-3-24h1m-21 20h1m13 9h1m19-23h1m-22 15h1m15 14h1m-19-14h1m14-18h1m-9 15h1m-14 5h1m19-4h1m-14 3h1m3 5h1m24-21h1m-11-6h1m2 33h1m-18-19h1m6-4h1m7 7h1m-12 14h1m1-32h1m-1-4h1m-1 30h1m14-28h1m-24 6h1m23 8h1m-20-4h1m-1-6h1m-7 18h1m1 14h1m14-4h1m-13-21h1m9 12h1m1-23h1m9 21h1m-16 21h1m-23 1h1m23-7h1m-32 15h1m5-13h1m-28-19h1m76 11h1m-55-1h1m52 14h1m-69-9h1m-10-17h1m15-12h1m23 24h1m15 9h1m-9 8h1m-1 3h1m3-5h1m3 7h1m-16-7h1m2-36h1m-16 49h1m-35-41h1m33 26h1m-15-20h1m19-11h1m-1 24h1m-1-12h1m21-10h1m-31 34h1m33-8h1m23 12h1m-43-14h1m-21-5h1m21-5h1m10 30h1m-28-15h1m-11 2h1m6-3h1m24-8h1m-22-4h1m85-43h1m-123-18h1m56 14h1m-62-21h1m-1 115h1m83-3h1m-4-126h1m-79 123h1m13-23h1m63-73h1m-16 73h1m33 24h1m-115-48h1m100 33h1" stroke="#d98cb4" stroke-opacity="0.32" stroke-width="1" transform="translate(0 0.5)"/>
<path d="M369 164h1m-9 5h1m-14-42h1m3 39h1m-3-15h1m15 40h1m-20-77h1m0 60h1m3-18h1m-10-10h1m12-3h1m6 17h1m-5-1h1m-11-10h1m19-7h1m-23 4h1m7 2h1m5 3h1m-16-20h1m-7-9h1m15 29h1m1 10h1m-9-18h1m1 6h1m-4-4h1m-8 18h1m23-3h1m-21-28h1m-5 41h1m15-11h1m-6 8h1m-4-24h1m-4 20h1m6-11h1m-3-7h1m13 18h1m-27-25h1m13-9h1m-29 6h1m29 30h1m-9-26h1m15 26h1m1-11h1m-20-5h1m19 16h1m-26-33h1m-5 29h1m8-17h1m-21-2h1m9-10h1m31 22h1m-48 0h1m54 1h1m-50-26h1m26 37h1m-25-15h1m10-15h1m25-23h1m-18 7h1m-1 25h1m-5 6h1m-7-31h1m-5 19h1m16 8h1m-11 10h1m17-19h1m-15-1h1m-2 4h1m2 5h1m12 18h1m-21-14h1m0-28h1m7 4h1m-34-12h1m10 23h1m7 7h1m21 13h1m-9 5h1m-12-29h1m-5 11h1m11 4h1m-14-20h1m22 34h1m-28-28h1m15 47h1m-19-27h1m24-5h1m-10-2h1m1 15h1m-10-4h1m8-23h1m-10-2h1m15 0h1m-1 34h1m3-15h1m-29 9h1m12-50h1m-5 20h1m-4 24h1m8-18h1m-1 1h1m9-15h1m6 10h1m-31 15h1m11 2h1m-10-20h1m12-1h1m-3-11h1m7 41h1m-13-29h1m28 5h1m-22 16h1m5 1h1m2 10h1m-9-33h1m-17 19h1m11-9h1m2 16h1m21-7h1m-17-10h1m13 31h1m-49-50h1m29 36h1m-6-26h1m-2 35h1m-5-23h1m18 13h1m-11-2h1m-32-22h1m27 28h1m12-10h1m-16-33h1m-21 36h1m-2-10h1m20-21h1m5 38h1m-11 1h1m-3-28h1m13 27h1m-11-26h1m-11 45h1m16 9h1m-4-35h1m-12 3h1m-10 13h1m16-6h1m2-37h1m-17 49h1m31-28h1m-28 7h1m7-4h1m-19 0h1m25-15h1m-30-9h1m2-1h1m4 30h1m5-8h1m6 24h1m2-9h1m-1-32h1m0 15h1m-9-2h1m16-6h1m-16-2h1m9-18h1m-7 48h1m-15-6h1m-10-1h1m24-11h1m6 32h1m4-30h1m-1-6h1m-17-1h1m-18 18h1m22-17h1m-9-20h1m18 24h1m-3-3h1m-15 11h1m-5-18h1m-4 19h1m5 3h1m6-19h1m-23 12h1m4 4h1m-1-25h1m21 9h1m-14 3h1m13 9h1m-5 4h1m-24-40h1m19 44h1m-15-14h1m21-6h1m-20 9h1m-18-9h1m19-6h1m-4 21h1m10-12h1m-7-23h1m-11 33h1m4-4h1m0 11h1m-1-23h1m-1 19h1m-14 14h1m22-18h1m-2 5h1m-9-28h1m-9 22h1m4 15h1m-11-9h1m6-18h1m14 44h1m-9-57h1m24-6h1m-3 28h1m-10-21h1m6 27h1m-9-40h1m-6 13h1m19 15h1m-29 19h1m3-3h1m2-20h1m-2 28h1m8-7h1m-25-42h1m0 31h1m11 8h1m-10 0h1m10 8h1m-22-14h1m22 1h1m-11 16h1m9 10h1m-27-38h1m-2-4h1m31 4h1m4 0h1m-24-11h1m5 29h1m-14 17h1m-3-12h1m-2-35h1m31 6h1m-9 17h1m1 13h1m-11-25h1m12-4h1m-21 21h1m12 19h1m-5-32h1m4 21h1m-18-44h1m23-6h1m-14 17h1m-15 43h1m10-28h1m7-6h1m-4-30h1m10 36h1m-41 3h1m29 1h1m17 12h1m-36-7h1m-1-2h1m2-8h1m15 5h1m-12 14h1m0-17h1m-22 3h1m30 13h1m1-24h1m-1 15h1m-15-29h1m12 13h1m-20-1h1m6 18h1m22 16h1m-27-22h1m4 11h1m5-6h1m7-15h1m-8 33h1m-29 9h1m38-26h1m-15 12h1m1 6h1m-9-3h1m-2-3h1m-16 25h1m31-23h1m-24-9h1m12 0h1m-14-5h1m-3 7h1m-1 9h1m11-12h1m0-24h1m19 32h1m-2 9h1m-14 29h1m-26-59h1m24 30h1m4-21h1m-14 27h1m16-30h1m1 28h1m0 7h1m-24-16h1m21 14h1m-15 22h1m16-28h1m-23-30h1m-10 25h1m17 3h1m-18-7h1m8 8h1m11-29h1m-20 53h1m-10-31h1m32-19h1m-3-3h1m-7 17h1m15 4h1m-28-21h1m-8 13h1m7-35h1m19 49h1m-3-27h1m-14 16h1m-4 4h1m-11 10h1m-4-25h1m14-20h1m-2 32h1m-17-6h1m15-24h1m-15 53h1m-5-25h1m19 18h1m-5-11h1m2 8h1m22-31h1m-21 24h1m14 3h1m-33-7h1m28-16h1m-19 13h1m-10 38h1m-4-25h1m-4-18h1m7 6h1m-6 20h1m5-28h1m-2 21h1m-7-55h1m4 70h1m-10-43h1m16 45h1m-6-31h1m4 11h1m1 3h1m-16-3h1m22-4h1m-15-40h1m1 25h1m-10-11h1m17 4h1m7 9h1m-28-12h1m13 16h1m34 21h1m-29-5h1m16-28h1m-25 4h1m-11 29h1m0-5h1m-1-3h1m-3-46h1m12 36h1m-4-12h1m-9-9h1m3 11h1m1-2h1m-18 18h1m7-5h1m9 29h1m-4-28h1m23 5h1m-22-16h1m7 27h1m4 13h1m-19-14h1m-6-33h1m7 67h1m16-42h1m-31-12h1m38 28h1m-18 21h1m-6-22h1m11-45h1m-12 34h1m-8 31h1m0-58h1m-10 24h1m21-36h1m-26 44h1m27 5h1m3-13h1m-16-13h1m6 28h1m-4-15h1m9-18h1m-31 43h1m20-50h1m-4-23h1m11 53h1m-31-45h1m10 47h1m10-19h1m-13 33h1m-8 11h1m22-37h1m-3-44h1m-8 31h1m16-56h1m0 57h1m-20 21h1m6-33h1m0 36h1m-4-33h1m-16 32h1m11-27h1m4 7h1m-27 10h1m-2-13h1m19 6h1m-19 6h1m12-53h1m10 55h1m5 4h1m13-37h1m-47 59h1m29-9h1m-31-17h1m21-8h1m-10 10h1m21 19h1m-9-22h1m-24-9h1m23 7h1m-11 15h1m18 22h1m-18-50h1m-1 9h1m11-4h1m11 17h1m-10-12h1m-14-18h1m-19 38h1m30-14h1m-12 1h1m-6-21h1m21 36h1m-28-39h1m9 10h1m-26-1h1m31-22h1m-4 63h1m-25-78h1m22 65h1m-5-19h1m6-7h1m10 23h1m-36-16h1m6-4h1m-4-7h1m19 43h1m-17-71h1m20 33h1m-19 4h1m-4-16h1m18 22h1m-28-8h1m28-10h1m-21-13h1m9 38h1m1 8h1m-17-35h1m29 25h1m-17 11h1m-2-8h1m-2-29h1m-8-5h1m3-5h1m-27 36h1m19-15h1m21 15h1m-42 15h1m18-49h1m-6 21h1m6 42h1m17-73h1m-13 24h1m-16 32h1m48-42h1m-27 3h1m-16 27h1m-14-24h1m5 41h1m27-9h1m-21 2h1m-2-16h1m6-14h1m-25 19h1m18 9h1m-4-27h1m9 5h1m25-15h1m-34 10h1m8 5h1m-19-2h1m3-11h1m0 26h1m12 1h1m-3 29h1m-11-16h1m0-30h1m12-27h1m-17 83h1m27-46h1m3 4h1m-20-13h1m4 14h1m-28 9h1m4-47h1m31 17h1m-31 26h1m1-49h1m-14 17h1m5 22h1m-3-39h1m8 30h1m-5-2h1m33-12h1m-18 13h1m-5 26h1m-7 6h1m35-66h1m-49 15h1m4 23h1m52 12h1m-35-5h1m-19-8h1m9 4h1m-15-2h1m4 26h1m25-36h1m-11 3h1m-15 20h1m-4-3h1m1-29h1m37 0h1m-13 23h1m0 25h1m-1-31h1m-17 6h1m-2 30h1m3-21h1m1-4h1m-21-16h1m0 34h1m6-20h1m2 33h1m-14-24h1m-12-13h1m37 12h1m-4-13h1m-26 1h1m32 32h1m-31-20h1m9-13h1m6-24h1m-25 22h1m9 53h1m10-99h1m7-2h1m-19 3h1m25-26h1m-2 36h1m-20-12h1m11 37h1m8-53h1m-12 20h1m-10 9h1m0 8h1m-3-19h1m16 10h1m-18-21h1m6 48h1m-16-19h1m-5-16h1m11-13h1m-6 7h1m-6 2h1m6 21h1m24-32h1m-28 12h1m12 9h1m-16 13h1m20-28h1m-10 9h1m8-24h1m-4 15h1m4 25h1m6-27h1m-8-15h1m-8 31h1m-1-2h1m-2 11h1m3 0h1m11 5h1m-33-49h1m37 24h1m-35 11h1m17-2h1m-13 18h1m-18-25h1m9-9h1m13 44h1m21-33h1m-30-3h1m-14 7h1m1-4h1m6 23h1m13-31h1m-6 2h1m-15 22h1m8-22h1m-10-22h1m17 30h1m9 20h1m-3-12h1m-12-24h1m-6 21h1m5-6h1m14 3h1m-18-7h1m-16 45h1m-2-38h1m-8 25h1m-2-16h1m26-24h1m-3 22h1m-2-13h1m-7-31h1m-9 42h1m14 18h1m17-18h1m-9-11h1m-8-8h1m2 10h1m-7 16h1m-16-41h1m22 32h1m-24-16h1m1 0h1m12 20h1m8-4h1m4 5h1m-25-17h1m-9 12h1m18-3h1m-13-4h1m-8 12h1m31-26h1m-20 38h1m2-28h1m-13-6h1m5-13h1m-4 28h1m14-4h1m-8 20h1m4-7h1m-11-25h1m21 34h1m-26-19h1m-7 12h1m34 1h1m-26-21h1m-13 15h1m27-2h1m-9-27h1m-24 30h1m22-27h1m-6 24h1m-14 20h1m14-25h1m5-19h1m30 91h1m9-27h1m-6 27h1m-21-17h1m21-10h1m11 32h1m-9 6h1m-3-23h1m4 7h1m-5-22h1m10 10h1m-6-11h1m-9 12h1m24-6h1m-29 7h1m6-12h1m-5 4h1m-4 24h1m3 1h1m8-15h1m7-2h1m-19 10h1m0-7h1m2-2h1m-5 11h1m-21-26h1m18 27h1m2-9h1m-2 13h1m-2-3h1m3-6h1m3-6h1m-1-5h1m-19 6h1m16 9h1m-14-17h1m5 21h1m-5-18h1m-10 21h1m8-4h1m8-13h1m-6-5h1m-3 14h1m14-22h1m-27 12h1m19 19h1m-22-14h1m8 0h1m-1-5h1m-11 6h1m16-11h1m-10 2h1m6 7h1m21-25h1m-21 24h1m3-15h1m-23 13h1m24 19h1m5-13h1m-16 12h1m-22-28h1m11-3h1m1 22h1m25-24h1m-35 15h1m11-3h1m-8 3h1m13 12h1m-6-9h1m2-16h1m6 7h1m-2 3h1m9-2h1m-32 1h1m15-7h1m-31 6h1m39-12h1m-21 4h1m15 28h1m-19-19h1m-17 2h1m27-6h1m-9-18h1m9 23h1m11 24h1m-19-26h1m-5 9h1m-4-16h1m7 6h1m3 23h1m-13-22h1m9-6h1m-13 17h1m4-7h1m-6 3h1m29 8h1m-21-17h1m5-4h1m6 26h1m-25-22h1m15 10h1m22 0h1m-28-6h1m-1-1h1m-4 7h1m12 4h1m-12 1h1m-5-8h1m-2 8h1m-5-4h1m14-24h1m-9 19h1m-13-2h1m1-8h1m8 9h1m-8 21h1m9-9h1m23-7h1m-26-21h1m0 16h1m-1-3h1m6 17h1m-12-33h1m-3 43h1m23-21h1m-33 18h1m19-7h1m-4-18h1m19 17h1m-38-11h1m17-15h1m-5 36h1m-17-8h1m4-12h1m19-4h1m-14-14h1m12-9h1m-6 15h1m-23-8h1m32-9h1m-22 17h1m-3-21h1m9 29h1m-9-7h1m-6 6h1m14-11h1m-8 1h1m-3 8h1m-14-3h1m20-2h1m-19-2h1m3-1h1m-1-8h1m9 20h1m-3-25h1m-5 21h1m10 4h1m-11-13h1m9-15h1m-5 3h1m1 12h1m9-2h1m-15-20h1m-18 22h1m19-2h1m-8 11h1m9-7h1m-6-9h1m-1-1h1m14 4h1m-22 8h1m1-23h1m2 17h1m3-16h1m-30 62h1m54-1h1m-28-16h1m-16-19h1m11 21h1m-10-25h1m-29-1h1m-29 7h1m65 6h1m-18-19h1m-25 12h1m40-17h1m0 14h1m-21 9h1m18-32h1m-50 12h1m50 17h1m-14 37h1m-32-18h1m38-30h1m7 30h1m20-21h1m-3-2h1m-1 1h1m-42 35h1m7-10h1m-38-33h1m87 12h1m-61 10h1m44 8h1m6-9h1m-35-23h1m-7 17h1m-12 13h1m-7-15h1m-4 1h1m10-6h1m23 16h1m33 1h1m-95-14h1m20-15h1m18 29h1m64-46h1m-65 45h1m67-2h1m-75-76h1m61-2h1m23 24h1m-15-37h1m-7 63h1m12-28h1m-18 22h1m-28 37h1m-43-90h1" stroke="#d98cb4" stroke-opacity="0.32" stroke-width="1" transform="translate(0 0.5)"/>
<path d="M365.9 150.5 L366.0 152.1 L366.2 153.7 L365.6 155.2 L364.5 156.5 L363.7 157.8 L363.5 159.4 L363.3 161.2 L362.4 162.5 L361.0 163.5 L359.7 164.5 L358.7 165.8 L357.3 166.7 L355.6 166.9 L353.9 166.9 L352.4 167.5 L351.1 168.7 L349.5 169.5 L347.8 169.3 L346.2 168.7 L344.6 168.4 L342.9 168.4 L341.2 168.3 L339.6 167.9 L337.9 167.3 L336.4 166.5 L335.2 165.3 L334.3 163.8 L333.5 162.3 L332.6 161.0 L331.7 159.7 L331.0 158.2 L330.7 156.6 L330.3 155.1 L329.8 153.6 L329.3 152.1 L328.9 150.5 L328.6 148.8 L328.6 147.2 L328.9 145.5 L329.5 143.9 L330.1 142.4 L330.8 140.8 L331.8 139.5 L333.3 138.5 L334.9 137.8 L336.2 136.9 L337.4 135.9 L338.7 135.1 L340.3 134.6 L341.8 134.3 L343.2 133.8 L344.7 133.3 L346.3 133.1 L347.8 132.8 L349.4 132.2 L351.2 131.6 L352.9 131.7 L354.4 132.6 L355.8 133.6 L357.4 134.2 L359.0 134.8 L360.4 135.7 L361.4 137.1 L362.3 138.5 L363.5 139.7 L364.7 140.9 L365.7 142.3 L366.5 143.8 L366.9 145.5 L366.8 147.2 L366.3 148.9Z" stroke="#e8509c" stroke-width="1.2" fill="#f6c2dc"/>
<path d="M364.1 150.0 L364.7 151.4 L364.7 152.9 L364.4 154.3 L364.0 155.7 L363.7 157.2 L363.3 158.7 L362.5 160.0 L361.2 160.8 L359.7 161.5 L358.6 162.4 L357.8 163.7 L357.0 165.2 L355.6 166.1 L353.9 166.0 L352.2 165.5 L350.7 165.3 L349.4 165.5 L348.0 165.6 L346.6 165.3 L345.3 164.8 L344.0 164.5 L342.7 164.3 L341.5 163.8 L340.3 163.1 L339.0 162.6 L337.6 162.2 L336.2 161.6 L335.2 160.6 L334.3 159.4 L333.5 158.2 L332.9 156.9 L332.9 155.4 L333.1 153.9 L332.9 152.6 L332.2 151.4 L331.8 150.0 L332.4 148.7 L333.2 147.4 L333.4 146.2 L333.1 144.7 L333.0 143.1 L333.4 141.7 L334.0 140.4 L334.6 139.0 L335.4 137.7 L336.7 136.8 L338.2 136.3 L339.6 135.7 L340.9 135.0 L342.2 134.3 L343.6 134.0 L345.1 133.8 L346.5 133.6 L348.0 133.6 L349.4 134.2 L350.7 134.8 L352.1 135.0 L353.6 134.9 L355.1 135.1 L356.2 136.1 L357.0 137.3 L358.0 138.3 L359.2 139.0 L360.1 140.0 L360.6 141.3 L360.9 142.7 L361.4 143.9 L362.1 145.0 L362.6 146.2 L362.9 147.4 L363.4 148.7Z" stroke="#ec78b0" stroke-width="0.8" fill="none" fill-opacity="1"/>
<path d="M361.3 149.0 L361.5 150.0 L361.1 151.1 L360.3 151.9 L359.6 152.8 L359.4 153.7 L359.4 154.8 L359.1 155.9 L358.3 156.6 L357.3 157.2 L356.5 157.9 L355.8 158.8 L355.0 159.7 L354.0 160.3 L352.9 160.7 L351.7 160.9 L350.6 161.1 L349.4 161.1 L348.2 161.1 L347.0 161.0 L345.9 160.8 L344.9 160.3 L343.9 159.7 L342.9 159.3 L341.8 159.0 L340.7 158.7 L339.5 158.3 L338.4 157.8 L337.4 157.1 L336.7 156.3 L336.3 155.2 L336.0 154.1 L335.5 153.2 L334.8 152.2 L334.6 151.2 L335.0 150.0 L335.5 149.0 L335.4 148.0 L335.0 146.9 L334.8 145.8 L335.3 144.8 L336.1 143.9 L336.7 143.0 L337.3 142.1 L338.1 141.3 L339.1 140.8 L340.0 140.2 L340.8 139.4 L341.6 138.6 L342.6 138.2 L343.8 138.1 L344.9 138.0 L346.0 137.9 L347.1 137.7 L348.2 137.7 L349.3 137.7 L350.4 137.7 L351.6 137.5 L352.9 137.4 L354.1 137.5 L355.3 138.0 L356.4 138.5 L357.5 139.0 L358.5 139.7 L359.3 140.6 L359.7 141.7 L360.0 142.9 L360.3 143.9 L360.7 144.9 L361.0 145.9 L361.1 147.0 L361.1 148.0Z" stroke="#3f8fd2" stroke-width="1.1" fill="#b2daf2" fill-opacity="0.95"/>
<path d="M358.3 147.3 L358.3 147.9 L358.1 148.6 L357.8 149.2 L357.6 149.8 L357.5 150.4 L357.2 151.0 L356.8 151.6 L356.3 152.1 L355.9 152.7 L355.4 153.2 L354.8 153.6 L353.9 153.8 L353.2 154.0 L352.5 154.3 L351.8 154.6 L351.0 154.6 L350.2 154.3 L349.5 154.2 L348.8 154.3 L348.0 154.4 L347.3 154.3 L346.6 154.1 L345.8 153.9 L345.1 153.7 L344.5 153.3 L344.0 152.8 L343.4 152.4 L342.7 152.1 L342.0 151.7 L341.7 151.1 L341.6 150.4 L341.2 149.8 L340.7 149.3 L340.4 148.7 L340.3 148.0 L340.5 147.3 L340.7 146.7 L340.8 146.0 L340.9 145.4 L341.0 144.7 L341.3 144.1 L341.7 143.5 L342.4 143.1 L343.0 142.7 L343.4 142.1 L343.7 141.5 L344.3 141.1 L345.0 140.8 L345.8 140.6 L346.5 140.4 L347.2 140.2 L348.0 140.3 L348.8 140.5 L349.5 140.5 L350.2 140.4 L351.0 140.2 L351.7 140.3 L352.4 140.6 L353.1 140.8 L353.9 140.9 L354.8 141.0 L355.6 141.2 L356.2 141.6 L356.7 142.3 L356.9 142.9 L357.1 143.6 L357.4 144.2 L357.8 144.8 L358.0 145.4 L358.1 146.0 L358.2 146.7Z" stroke="#2e9e4c" stroke-width="1.1" fill="#b6e0a6" fill-opacity="0.95"/>
<path d="M353.5 147.0 L353.5 147.3 L353.5 147.5 L353.4 147.8 L353.3 148.0 L353.2 148.3 L353.1 148.5 L352.9 148.8 L352.8 149.0 L352.6 149.2 L352.3 149.4 L352.1 149.6 L351.8 149.7 L351.5 149.8 L351.2 149.9 L350.9 149.9 L350.6 149.9 L350.3 150.0 L350.0 150.0 L349.7 149.9 L349.4 149.9 L349.1 149.8 L348.8 149.7 L348.6 149.6 L348.3 149.5 L348.1 149.3 L347.9 149.2 L347.6 149.0 L347.4 148.9 L347.2 148.7 L347.0 148.5 L346.8 148.3 L346.6 148.0 L346.5 147.8 L346.5 147.5 L346.4 147.3 L346.4 147.0 L346.4 146.7 L346.5 146.5 L346.5 146.2 L346.6 146.0 L346.8 145.7 L346.9 145.5 L347.1 145.2 L347.3 145.0 L347.5 144.8 L347.7 144.7 L348.0 144.5 L348.2 144.4 L348.5 144.3 L348.8 144.2 L349.1 144.1 L349.4 144.1 L349.7 144.1 L350.0 144.1 L350.3 144.2 L350.6 144.2 L350.9 144.2 L351.2 144.2 L351.5 144.3 L351.8 144.4 L352.0 144.5 L352.3 144.7 L352.5 144.8 L352.7 145.1 L352.9 145.3 L353.0 145.5 L353.1 145.8 L353.2 146.0 L353.3 146.2 L353.4 146.5 L353.5 146.7Z" stroke="#e8d070" stroke-width="0.5" fill="#e8d890" fill-opacity="0.4"/>
<ellipse cx="348.3" cy="148.2" rx="31.2" ry="57.4" transform="rotate(2.7 348.3 148.2)" fill="none" stroke="#5b5758" stroke-width="1.1"/>
<rect x="317.3" y="48.6" width="174.6" height="174.9" fill="none" stroke="#161616" stroke-width="1.5"/>
<path d="M317.5 223.5H312.7M317.5 190.16H312.7M317.5 156.83H312.7M317.5 123.5H312.7M317.5 90.16H312.7M317.5 56.83H312.7M317.5 216.83H315.1M317.5 210.17H315.1M317.5 203.5H315.1M317.5 196.83H315.1M317.5 183.5H315.1M317.5 176.83H315.1M317.5 170.16H315.1M317.5 163.5H315.1M317.5 150.16H315.1M317.5 143.5H315.1M317.5 136.83H315.1M317.5 130.16H315.1M317.5 116.83H315.1M317.5 110.16H315.1M317.5 103.49H315.1M317.5 96.83H315.1M317.5 83.49H315.1M317.5 76.83H315.1M317.5 70.16H315.1M317.5 63.49H315.1M317.5 50.16H315.1" stroke="#161616" stroke-width="1.15" fill="none"/>
<path d="M335.2 223.5V228.3M354.4 223.5V228.3M397.2 223.5V228.3M436.5 223.5V228.3M476 223.5V228.3M325.1 223.5V225.9M346.2 223.5V225.9M367.28 223.5V225.9M374.82 223.5V225.9M380.17 223.5V225.9M384.32 223.5V225.9M387.7 223.5V225.9M390.57 223.5V225.9M393.05 223.5V225.9M395.24 223.5V225.9M409.03 223.5V225.9M415.95 223.5V225.9M420.86 223.5V225.9M424.67 223.5V225.9M427.78 223.5V225.9M430.41 223.5V225.9M432.69 223.5V225.9M434.7 223.5V225.9M448.39 223.5V225.9M455.35 223.5V225.9M460.28 223.5V225.9M464.11 223.5V225.9M467.24 223.5V225.9M469.88 223.5V225.9M472.17 223.5V225.9M474.19 223.5V225.9M487.86 223.5V225.9" stroke="#161616" stroke-width="1.15" fill="none"/>
<text transform="translate(307.8 228.5) scale(0.93 1)" font-size="12.3" text-anchor="end" fill="#161616">0</text>
<text transform="translate(307.8 195.16) scale(0.93 1)" font-size="12.3" text-anchor="end" fill="#161616">50</text>
<text transform="translate(307.8 161.83) scale(0.93 1)" font-size="12.3" text-anchor="end" fill="#161616">100</text>
<text transform="translate(307.8 128.5) scale(0.93 1)" font-size="12.3" text-anchor="end" fill="#161616">150</text>
<text transform="translate(307.8 95.16) scale(0.93 1)" font-size="12.3" text-anchor="end" fill="#161616">200</text>
<text transform="translate(307.8 61.83) scale(0.93 1)" font-size="12.3" text-anchor="end" fill="#161616">250</text>
<text transform="translate(335 244.6) scale(0.93 1)" font-size="12.3" text-anchor="middle" fill="#161616">0</text>
<text transform="translate(354.4 244.6) scale(0.93 1)" font-size="12.3" text-anchor="middle" fill="#161616">10<tspan dx="0.5" dy="-4.6" font-size="9">2</tspan></text>
<text transform="translate(397.2 244.6) scale(0.93 1)" font-size="12.3" text-anchor="middle" fill="#161616">10<tspan dx="0.5" dy="-4.6" font-size="9">3</tspan></text>
<text transform="translate(436.5 244.6) scale(0.93 1)" font-size="12.3" text-anchor="middle" fill="#161616">10<tspan dx="0.5" dy="-4.6" font-size="9">4</tspan></text>
<text transform="translate(476 244.6) scale(0.93 1)" font-size="12.3" text-anchor="middle" fill="#161616">10<tspan dx="0.5" dy="-4.6" font-size="9">5</tspan></text>
<rect x="390.2" y="50.2" width="100.8" height="16.1" rx="2" ry="2" fill="#fff" stroke="#a9a9a9" stroke-width="0.95"/>
<text x="440.6" y="61.71" font-size="9.6" text-anchor="middle" textLength="73" lengthAdjust="spacingAndGlyphs" fill="#161616" style="stroke-width:0.06px">Live Cells: 91.28%</text>
<text x="277" y="135.9" font-size="15.4" text-anchor="middle" textLength="36.8" lengthAdjust="spacingAndGlyphs" transform="rotate(-90 277 135.9)" fill="#161616" style="stroke-width:0.22px">FSC-H</text>
<text x="276.2" y="72.5" font-size="11.2" text-anchor="middle" textLength="33" lengthAdjust="spacingAndGlyphs" transform="rotate(-90 276.2 72.5)" fill="#161616">(x 10<tspan dy="-4.4" font-size="8">3</tspan><tspan dy="4.4">)</tspan></text>
<text x="362.2" y="270.6" font-size="15.4" textLength="85.1" lengthAdjust="spacingAndGlyphs" fill="#161616" style="stroke-width:0.22px">LiveDead-NIR</text>
<text x="70.5" y="299.9" font-size="12.2" textLength="166" lengthAdjust="spacingAndGlyphs" fill="#161616">[Live Cells] CD45-AF700 / FSC-H</text>
<g clip-path="url(#c67_307)"><ellipse cx="147" cy="405" rx="14" ry="36" transform="rotate(0 147 405)" fill="#9a9396" fill-opacity="0.12" filter="url(#b50)"/></g>
<g clip-path="url(#c67_307)"><ellipse cx="92" cy="430" rx="16" ry="22" transform="rotate(0 92 430)" fill="#9a9396" fill-opacity="0.06" filter="url(#b60)"/></g>
<path d="M140 421h1m4-25h1m0-1h1m1 31h1m0-19h1m-11-16h1m-10 15h1m12-6h1m-11-6h1m5 26h1m-14-29h1m27 0h1m-11 21h1m3-28h1m-5 18h1m-11 18h1m5-16h1m6 16h1m2-22h1m-2 23h1m2-28h1m-2 8h1m-6 29h1m-5-32h1m-18 19h1m14-4h1m2-11h1m10-6h1m-25 3h1m21-7h1m-8 20h1m-5-14h1m4-8h1m0 15h1m3-9h1m-12-1h1m6-1h1m9 22h1m-26 2h1m15-32h1m-1 23h1m-5-3h1m1-3h1m-13 2h1m9-16h1m-15 16h1m6-15h1m4 7h1m-13 25h1m13-42h1m-16 45h1m20-23h1m-16 14h1m0 0h1m13-3h1m-9-39h1m-15 16h1m16 19h1m-5 2h1m8-7h1m-8-14h1m7 23h1m-13-2h1m10-18h1m-7 12h1m3 7h1m-21 2h1m9-1h1m-1-14h1m4 3h1m-5 2h1m5-5h1m4-14h1m-2 36h1m-3-24h1m1 10h1m-13-6h1m-4 3h1m11-9h1m-12-7h1m-5 8h1m6 18h1m0-4h1m-1 12h1m5-14h1m-9 5h1m5-18h1m3 1h1m-1-1h1m-13 17h1m4 6h1m7 7h1m-2-17h1m-6 3h1m-8 14h1m19-34h1m-8 13h1m-8-7h1m-7 5h1m-4 0h1m4 3h1m-7-14h1m19 17h1m-25-6h1m10-8h1m1 5h1m-6 18h1m11-21h1m7-16h1m-21 20h1m-1 3h1m-1 6h1m8-4h1m-3 4h1m7-16h1m-6 5h1m1 11h1m22 1h1m-16 1h1m11 3h1m-2 4h1m-7-12h1m-9-14h1m10 4h1m6 0h1m-12-8h1m-7 12h1m7 0h1m-6-6h1m1 6h1m6 10h1m-4-8h1m1 12h1m-1-15h1m-13 20h1m6 1h1m11-30h1m-15 9h1m15 0h1m-12 1h1m5-1h1m-9 14h1m4-9h1m1 3h1m-4 0h1m-3 14h1m-6-3h1m2-19h1m2 12h1m-5 11h1m6-18h1m-12 12h1m2-10h1m-1 6h1m-7-5h1m5-6h1m10 7h1m-2 6h1m-9 3h1m-16-37h1m1-15h1m-11-1h1m-5 27h1m30-27h1m-28 3h1m14 9h1m20 5h1m-24 7h1m-12-1h1m17-4h1m-4 7h1m-11 1h1m1-6h1m1-26h1m3 30h1m-12-11h1m-6 18h1m7-15h1m8 16h1m5-4h1m-9-5h1m-5-15h1m10 4h1m-12-3h1m1 13h1m-6-18h1m2 7h1m5-8h1m5 15h1m-22-6h1m8-26h1m1 48h1m3-16h1m-11 4h1m3 5h1m-13 6h1m15 5h1m-12-38h1m5 11h1m-15-7h1m9 22h1m-2-30h1m10 10h1m-6-7h1m4 7h1m0-3h1m-3 14h1m2 1h1m1-4h1m-7-19h1m-16 27h1m13-21h1m7 19h1m-23-32h1m-16 9h1m48 5h1m-29 37h1m16-12h1m-25-18h1m20 28h1m3-43h1m-17 28h1m5-28h1m3 9h1m2-10h1m-40 45h1m24-19h1m20-40h1m-10 56h1m-16-20h1m1-4h1m-18-4h1m16 33h1m14-32h1m-22 11h1m13-12h1m-11 24h1m9-13h1m-1 12h1m-9-14h1m2 1h1m11 3h1m5 10h1m-15-20h1m-13 3h1m24-25h1m-10 7h1m-4 29h1m-9-17h1m-1 16h1m18-17h1m-19 6h1m-4-20h1m13 11h1m-7-4h1m0 0h1m-23 24h1m16 16h1m9-39h1m-16 7h1m4 11h1m1-5h1m-14-2h1m20 1h1m-4 5h1m-9-15h1m10 20h1m-20 69h1m27-46h1m-2 21h1m-34 12h1m36-11h1m-26 22h1m6 23h1m-3-32h1m2-16h1m-9 17h1m6-23h1m0 9h1m-20-8h1m20 22h1m-5 10h1m-10-15h1m-4-12h1m3 25h1m17 7h1m-9-24h1m-5-28h1m-12 22h1m3 17h1m19 1h1m-8-23h1m-21 1h1m12 16h1m12 6h1m2-18h1m-14-28h1m-32 40h1m25-11h1m-1 8h1m9 7h1m-12 14h1m7-29h1m-15 8h1m22-4h1m-19 26h1m-5-11h1m9-10h1m4-11h1m-17 26h1m6-17h1m22-2h1m-11 13h1m-13-33h1m10 14h1m5 23h1m-33-14h1m19 4h1m5-15h1m-11-2h1m-14 9h1m28-9h1m-22 9h1m17-7h1m-30 10h1m-1-16h1m15 15h1m-12-2h1m38 16h1m-28-18h1m-6-2h1m11 13h1m-13 6h1m12-8h1m7 1h1m-7-2h1m5 11h1m-19-11h1m11 13h1m-6-10h1m-10-5h1m-9 6h1m21-3h1m-6 0h1m-5-14h1m-3 13h1m-9-24h1m7-2h1m-3 24h1m-6-17h1m15 12h1m-18-9h1m13 4h1m9 24h1m-5-39h1m-5 25h1m0 7h1m-1-16h1m-19 4h1m4 15h1m14-27h1m-7-12h1m7 28h1m-19 37h1m19-43h1m-16 11h1m2 2h1m6-19h1m-5 3h1m1 7h1m-4-3h1m-19 23h1m31-13h1m-4-6h1m-2-37h1m3 32h1m-2-24h1m-22-8h1m-3-30h1m6 63h1m-24 2h1m7-3h1m30-47h1m2 16h1m7-32h1m-22 49h1m-10-30h1m9 22h1m-38-23h1m46 25h1m-49-18h1m34 2h1m-26 17h1m35 10h1m-10-57h1m-19 31h1m12 26h1m10-4h1m-8-20h1m-5-17h1m13 10h1m-19 40h1m0-31h1m-20-4h1m34-22h1m-3 47h1m-25-53h1m7 72h1m0-32h1m11-48h1m-17 52h1m17 23h1m12-47h1m3 29h1m-14-45h1m-29 25h1m17-10h1m-13 39h1m-8-52h1m6 38h1m7 27h1m-21-24h1m12-18h1m-49 46h1m-5-6h1m18-9h1m-22-22h1m-4 24h1m7 4h1m22 11h1m-24-19h1m0 7h1m-20 5h1m14-12h1m3 18h1m4-20h1m-6 13h1m-18 5h1m22-8h1m-1-11h1m1 8h1m-20-16h1m8 27h1m-12-22h1m7 8h1m-4-6h1m1-1h1m-12-2h1m4 4h1m-11 19h1m22-27h1m-11 13h1m3 8h1m-5 1h1m7-6h1m16 11h1m-18 10h1m5-24h1m-5 2h1m-1 0h1m9 22h1m-10-6h1m-3 0h1m-2-14h1m-9 2h1m24-9h1m-28 43h1m26-28h1m-39-33h1m5 42h1m40-54h1m-5 54h1m-1-40h1m-29 43h1m44-58h1m-25 45h1m21-20h1m-28-25h1m22-5h1m-34 10h1m41 43h1m-57-15h1m33-8h1m6-8h1m12-1h1m-28 26h1m5-43h1m32 25h1m-34 32h1m-13-10h1m16-22h1m-6-30h1m7 64h1m-33-12h1m7-7h1m32-75h1m-38 31h1m8 10h1m-28-18h1m35 26h1m-19 14h1m39 6h1m-44-21h1m22 45h1m-37-21h1m41-4h1m-45-57h1m45 93h1m5-13h1m-16 16h1m-33-55h1m-1-3h1m53-21h1m-11 76h1m2-12h1m-36-13h1m37-30h1m-40 22h1m26-42h1m-15 28h1m-9 3h1m3-5h1m20-1h1m-2-22h1m13 49h1m-19-31h1m-3-25h1m-14 31h1m-14 35h1m27-48h1m-18 21h1m33 23h1m-29-26h1m30 43h1m-24-63h1m-15 21h1m48 9h1m-12-16h1m20 39h1m-15-16h1m18-34h1m-6-3h1m20 73h1m-41-11h1m22 5h1m7-23h1m9-50h1m-25 42h1m5-55h1m1 41h1m18-7h1m-37 9h1m15-22h1m12 41h1m-12-20h1m-11 2h1m-23-81h1m8 58h1m10-55h1m10 103h1m-73-31h1m93-44h1m-26 82h1m-21-72h1m28 45h1m-91-10h1" stroke="#9d9698" stroke-opacity="0.34" stroke-width="1" transform="translate(0 0.5)"/>
<path d="M145 408h1m8-2h1m-9 16h1m-13-26h1m17 1h1m-1 1h1m-2 33h1m-5-27h1m5-5h1m-8 3h1m-20-2h1m18 8h1m-13 14h1m12-11h1m-9-10h1m-12 7h1m-1-1h1m20-7h1m-3-3h1m-6 8h1m-4 9h1m1-11h1m-6-4h1m18-19h1m-18 38h1m11-24h1m-9-6h1m7 15h1m-10-2h1m-7 12h1m-3 2h1m0-18h1m4-4h1m0 23h1m-10-7h1m0-11h1m8 23h1m7-48h1m-7 15h1m3 18h1m-4-17h1m-12-13h1m6 18h1m8 22h1m-9-32h1m5 17h1m-2 6h1m-11 5h1m4-42h1m0 22h1m3 15h1m-22 15h1m-3-5h1m13-13h1m2-2h1m-10-7h1m2 15h1m10-9h1m4 8h1m-9-15h1m-2 25h1m-5-24h1m10 1h1m-19 15h1m-1-6h1m17-2h1m-12 13h1m4-4h1m2-13h1m-7 12h1m-8-6h1m6-13h1m11 33h1m-11 1h1m-8-25h1m13-2h1m-10 6h1m15-5h1m-19 5h1m1 0h1m0-5h1m5 2h1m-5 4h1m-1 8h1m-1-12h1m5 9h1m-18-7h1m10-2h1m0 20h1m-10-7h1m1-9h1m6 12h1m-5-1h1m-3-11h1m17 0h1m-12-3h1m-5 4h1m3-25h1m-7 27h1m3-2h1m10-1h1m-4 3h1m-4-9h1m10-1h1m-7 14h1m2-25h1m-10 9h1m10-5h1m-15-5h1m5 26h1m1 11h1m-15-1h1m-10-25h1m14-3h1m10 16h1m-26 0h1m18-5h1m19-14h1m-1 4h1m-8 21h1m2-15h1m5-15h1m-3 15h1m-8-3h1m-2-5h1m2 14h1m-8 0h1m6-12h1m-8 9h1m4-2h1m8 4h1m3-7h1m-12 2h1m-7 6h1m6-3h1m-5 0h1m1-1h1m2-2h1m-9-7h1m-5 8h1m17 5h1m-18 5h1m6 9h1m-4-23h1m9 6h1m-14 4h1m4 4h1m6-11h1m-4-1h1m2 10h1m-5-3h1m4 4h1m-9-4h1m4-3h1m-3 3h1m-5 2h1m-3 4h1m-2-6h1m-6-34h1m6-1h1m-8 5h1m-11 8h1m0-11h1m9-6h1m3 17h1m-3-2h1m-12-2h1m9-21h1m-10 3h1m9 24h1m-2 15h1m-7-41h1m-8 4h1m4 31h1m13-9h1m-7 5h1m0-21h1m-1 5h1m-9 13h1m-8-12h1m5-3h1m8-15h1m-5 2h1m-5 3h1m-8 25h1m18-12h1m-9 4h1m15 24h1m-11-19h1m-7 1h1m-11-7h1m4-8h1m5 0h1m9 0h1m-24 1h1m8 10h1m7-16h1m0 35h1m-30-24h1m15-9h1m5 6h1m-10 11h1m-3-6h1m7 8h1m8 5h1m-16-14h1m-7-13h1m21 22h1m-19-8h1m2 20h1m-16-8h1m22-24h1m-4-3h1m1-1h1m-20 21h1m4-14h1m-1 7h1m25-18h1m-19 6h1m4-11h1m2 17h1m-7-5h1m3 20h1m-14-7h1m10-38h1m4 30h1m3 4h1m-6 0h1m7-1h1m-6 1h1m-13 14h1m-2 2h1m4-16h1m15-4h1m-11 32h1m4-42h1m-1-3h1m-8 19h1m4 12h1m-6-7h1m2-12h1m-25 13h1m20-13h1m-10 6h1m0 4h1m0-6h1m11 2h1m-3-13h1m-4-3h1m-14 11h1m6 9h1m-9-4h1m9 12h1m-16-9h1m22 12h1m6-9h1m-24-4h1m2 21h1m11 7h1m-11-45h1m0 33h1m-12-33h1m15 22h1m-2 4h1m-5-18h1m1 2h1m10 26h1m-33 34h1m6 25h1m22-13h1m-11-30h1m-15 41h1m29-29h1m-12 4h1m2 16h1m-3 6h1m-8-49h1m6 35h1m0-20h1m2 20h1m-3 5h1m-8-23h1m10 10h1m12 12h1m-32-10h1m0 3h1m-18 16h1m4 9h1m28-40h1m-15-1h1m-15 21h1m13-15h1m-3 22h1m8-9h1m-15-23h1m32 36h1m-19-11h1m-13 15h1m4-13h1m7 16h1m-4-17h1m-14 5h1m20-33h1m-4 10h1m-10-6h1m9 5h1m0 12h1m-3-6h1m-10 10h1m-1-18h1m2 28h1m10-10h1m-20-31h1m5 36h1m6 21h1m4-3h1m-22-17h1m-5-8h1m14 23h1m-16-29h1m16-16h1m-6 20h1m-21 1h1m5-8h1m19 23h1m20-8h1m-23 6h1m24-23h1m-36 11h1m17 26h1m-3-58h1m-1 8h1m-11 21h1m8 0h1m-12 7h1m6 16h1m-7-29h1m12 36h1m-9-3h1m-14-16h1m13-10h1m-20 7h1m18-27h1m0 0h1m-9 3h1m20 16h1m-10-13h1m-6 8h1m-10 11h1m6 15h1m-8-44h1m-7 21h1m21 22h1m-18-32h1m8 25h1m-12 29h1m18-61h1m-22 41h1m16-33h1m-12 0h1m7 3h1m-25 2h1m12-3h1m14 21h1m-38-22h1m23-6h1m1 32h1m21 10h1m-44 0h1m25-8h1m-8-26h1m25-2h1m-30-16h1m8 14h1m16 28h1m-8-41h1m19 0h1m-66 28h1m21-45h1m16 27h1m-13-17h1m0 20h1m7-35h1m-23 36h1m26-8h1m-14-24h1m16-1h1m-5-6h1m-4 23h1m-6-2h1m-17-14h1m1-3h1m5 5h1m8 5h1m20 34h1m-20-2h1m-30-40h1m37 23h1m-33 4h1m10-55h1m13 66h1m-23-23h1m25-3h1m-24 17h1m7-6h1m-6-5h1m0-34h1m8 7h1m25 48h1m-23-57h1m17 53h1m-27 15h1m-7-39h1m2-18h1m-6 13h1m1 9h1m7-14h1m-6 20h1m16 64h1m13-77h1m-25 6h1m5 34h1m-10-10h1m-12-48h1m18 40h1m-48 25h1m-28-17h1m3 17h1m-3-12h1m19 10h1m-24-13h1m17 5h1m-8 1h1m0 13h1m-1 4h1m7 4h1m-19-9h1m8 10h1m7-31h1m-10 9h1m6 2h1m-3-2h1m-8-5h1m0 10h1m-8-15h1m18 11h1m-8-16h1m-9 11h1m17-2h1m-3 20h1m-3-13h1m-15 0h1m12 10h1m-3-12h1m-2-2h1m-17 8h1m22-2h1m-15 5h1m13-17h1m-8-7h1m-6 22h1m2-9h1m4 12h1m3 17h1m0-52h1m-3 34h1m-16 6h1m27-60h1m-7-18h1m-3 22h1m3 37h1m0-4h1m-4 0h1m-8-39h1m-6 70h1m38-62h1m-19 21h1m-17-10h1m0 35h1m-16-34h1m19-11h1m13 6h1m-34-20h1m32 51h1m-38 28h1m8-18h1m40-17h1m-25 37h1m14-4h1m4-91h1m0 50h1m-52 12h1m-6 22h1m14-37h1m30 35h1m13-53h1m-56 8h1m71 1h1m-60 11h1m16-4h1m16 42h1m-39-80h1m3 84h1m13-51h1m2 51h1m12-76h1m-37 1h1m19 30h1m-25-4h1m15-49h1m9 46h1m-16-1h1m13 22h1m-13 11h1m-2 33h1m31-40h1m4-32h1m-40 11h1m19 9h1m-19-3h1m9 14h1m29 21h1m-35-14h1m-7-2h1m23 8h1m-15-59h1m-29 52h1m12-35h1m1 13h1m-3-2h1m51-16h1m-32-8h1m2 47h1m-11-28h1m-27 56h1m47-53h1m57-31h1m-5 40h1m1-4h1m-39 3h1m11-15h1m-10 1h1m21 7h1m6 15h1m-23-23h1m13 70h1m-21-77h1m-3 49h1m23-22h1m14-33h1m-25 36h1m23 11h1m-42-49h1m29 28h1m-4 49h1m-10-97h1m-14-13h1m8 105h1m0-108h1m-78 59h1m85 17h1m-52 31h1m-41-39h1m-4 10h1m55 9h1" stroke="#9d9698" stroke-opacity="0.34" stroke-width="1" transform="translate(0 0.5)"/>
<path d="M138 413h1m4 4h1m-3-2h1m-3-27h1m0 29h1m6-9h1m-12-2h1m5 4h1m1 1h1m-8 3h1m8 10h1m-4-29h1m2 8h1m-3 26h1m-3-29h1m-10-8h1m7 31h1m0-14h1m-9-2h1m20-3h1m-24 0h1m-4-12h1m17 16h1m-1-20h1m-13 16h1m11-25h1m-5 32h1m-2-16h1m7 36h1m-11-7h1m-13-30h1m12 2h1m9-2h1m-9 7h1m-12-11h1m18 5h1m-11 17h1m-5 6h1m17-12h1m-20 1h1m6 16h1m-2-31h1m5 18h1m-16 5h1m10-1h1m1-25h1m-9 31h1m7-29h1m-14 25h1m16-3h1m3 2h1m-19-12h1m11 3h1m-14-1h1m1-17h1m-13 24h1m4-10h1m18-12h1m-22 3h1m14 8h1m0 1h1m-7-16h1m1 40h1m6-30h1m0 12h1m-16-11h1m19-11h1m-11 30h1m-4-34h1m3 31h1m-6 0h1m-8-5h1m2 2h1m7 11h1m-2-26h1m2-15h1m-3 12h1m1 22h1m5-14h1m-2 3h1m7 12h1m-18-13h1m-6 13h1m-2 1h1m8-9h1m-2-8h1m1-3h1m-6 0h1m7 4h1m-11 6h1m9 12h1m-2-34h1m-7 39h1m5-2h1m-17-25h1m20 32h1m-15-28h1m9 11h1m-6 1h1m-4 5h1m1-6h1m1-2h1m-6-12h1m-1 2h1m12 19h1m-18-25h1m6 20h1m10 10h1m-21-22h1m4-9h1m-6 3h1m9 13h1m-9 7h1m11-3h1m-14-2h1m12 12h1m-4-42h1m16 38h1m-8-14h1m7-2h1m-5-17h1m0 19h1m2-2h1m0 14h1m6-8h1m-26 2h1m17-14h1m7 2h1m-6-8h1m-11 17h1m4 4h1m-6-9h1m5-2h1m-2 4h1m4 0h1m-10 1h1m-3-8h1m4 9h1m5 8h1m-8-13h1m-1 19h1m-1-10h1m-1-2h1m-3 1h1m13-15h1m-10 20h1m0-13h1m2 4h1m-15 11h1m11 2h1m-6-21h1m8 15h1m-14-10h1m9 13h1m-12-20h1m5 8h1m-5 10h1m2-1h1m3-9h1m-13-23h1m-5 21h1m10-14h1m-7-8h1m16-27h1m-18 47h1m1-29h1m-24-13h1m26 43h1m-33-17h1m17 0h1m-9-28h1m9 18h1m-9-5h1m8-7h1m11 5h1m-14-3h1m-16 8h1m22 14h1m-11 0h1m-7 15h1m12-13h1m0-28h1m-7 10h1m-2 6h1m-5-4h1m1 4h1m11-1h1m1 3h1m-20 5h1m3 21h1m2-30h1m-8 25h1m15-3h1m-8-21h1m-1 32h1m-3-23h1m4-20h1m-8 37h1m12-35h1m-18 31h1m7-2h1m2 3h1m5-26h1m-4 24h1m-26-13h1m22-32h1m10 32h1m-6 15h1m-4-20h1m-16-6h1m1 1h1m-3 17h1m7-32h1m-17 54h1m27-19h1m-11-31h1m-3-4h1m-2-6h1m-2 40h1m7 10h1m-10-27h1m8 19h1m-6-16h1m1 6h1m-6-6h1m2-9h1m-1-6h1m-2 22h1m-9 2h1m-2-19h1m25 14h1m-7 3h1m-15 15h1m21-15h1m-35 9h1m28-6h1m-19-7h1m-2-3h1m10-26h1m-6 46h1m-1-14h1m2-27h1m-1 17h1m-22 38h1m9-46h1m-8-1h1m28 42h1m-17-39h1m-1 7h1m13 2h1m-7-9h1m-4 39h1m-4-28h1m10 0h1m-3-9h1m-10 14h1m-6-33h1m8 46h1m-3-15h1m7-17h1m-28 10h1m0-2h1m27 4h1m-28-1h1m13 13h1m-1-4h1m1 5h1m-12 35h1m4 21h1m-2-48h1m27 30h1m-36 21h1m1-17h1m22 2h1m-19 40h1m9-46h1m2 24h1m-12 4h1m14-13h1m-15 10h1m8 2h1m-15-20h1m20-12h1m-6 5h1m-10 26h1m-13-8h1m-4-4h1m22 8h1m-17-41h1m-1-9h1m11 60h1m-26-31h1m20 34h1m-6-43h1m7 21h1m-15-12h1m12-18h1m-10 26h1m14-12h1m-30-24h1m-1 20h1m32 18h1m-16-6h1m6 13h1m-16-4h1m22-22h1m-7 0h1m-6-18h1m-24 32h1m24-3h1m-5 25h1m19-34h1m-11-11h1m-8 10h1m-16-1h1m21 4h1m-13 29h1m-2-15h1m-16-6h1m28 5h1m-19 4h1m24-9h1m-9 17h1m-11 5h1m-8-24h1m-6 28h1m31-19h1m-12-27h1m-10 20h1m-3-12h1m-8 35h1m1-31h1m14 10h1m-24 16h1m2-36h1m-12 23h1m29 11h1m5-14h1m-22-18h1m-1 13h1m22-6h1m-18 41h1m14-11h1m-12-4h1m-27-17h1m35 12h1m-17-12h1m9-6h1m-19 13h1m16 2h1m-19-22h1m16-4h1m3 9h1m1-12h1m-11 19h1m13 10h1m-22-17h1m5-19h1m-11 21h1m13 14h1m-16-28h1m19 18h1m-32 50h1m16-34h1m6-24h1m3 18h1m19 2h1m-31 5h1m8-14h1m-8 10h1m-12 14h1m-1-9h1m13 10h1m-18-32h1m25 6h1m-28-12h1m31-4h1m2-17h1m-1-22h1m-28 55h1m7-28h1m3-37h1m2 13h1m11 55h1m-20-32h1m8-12h1m15 11h1m-38-16h1m1-7h1m14 87h1m-11-87h1m4 52h1m5-22h1m-21-17h1m30 15h1m-15-40h1m-22 54h1m4-29h1m8 38h1m-13-7h1m18-9h1m15 12h1m-32 0h1m23 28h1m9-8h1m-8-48h1m-24-22h1m0 42h1m15 10h1m8-53h1m-34 39h1m8 12h1m10-27h1m-20 7h1m51 44h1m-42-30h1m-9-31h1m27 32h1m-21 5h1m-6-23h1m11-57h1m8 76h1m-17-53h1m5 24h1m-67 53h1m15-24h1m-18 20h1m4-2h1m4 16h1m-17-47h1m25 28h1m-23 11h1m10-23h1m-11 3h1m3-2h1m21 52h1m-12-51h1m-9 20h1m-5-6h1m0-18h1m12 11h1m2 17h1m-25 27h1m6-25h1m1-31h1m0 41h1m13-27h1m-21-5h1m-7-12h1m10 18h1m9 6h1m2-24h1m-13 12h1m8-4h1m-24 23h1m34-26h1m-31 13h1m13 2h1m-1-12h1m-14-18h1m9 38h1m-3-15h1m5 16h1m12-18h1m-13 14h1m-4-66h1m-2 53h1m13 4h1m-18-46h1m3 51h1m27-22h1m-7 12h1m-6 12h1m-3 19h1m16-67h1m10 64h1m-49-44h1m32-11h1m-12-8h1m-1-28h1m14 41h1m-2 0h1m-41 11h1m-13 44h1m12-67h1m24 36h1m6-27h1m30-25h1m-68 6h1m0 23h1m31-23h1m-37 7h1m4 45h1m22-14h1m26 8h1m-17-20h1m-42 12h1m24-12h1m0 22h1m-6-24h1m2-8h1m8 49h1m0-10h1m21 13h1m-15-1h1m-26-54h1m14 21h1m-13-36h1m18 11h1m-21 7h1m3 44h1m0-5h1m25 2h1m-12-26h1m-15 0h1m34 49h1m-16-36h1m-13 4h1m-8 1h1m-24 14h1m59-44h1m-21 21h1m-33-25h1m18 0h1m4 13h1m-17-14h1m11 2h1m-3 25h1m-5 22h1m-18 23h1m87-75h1m-12 46h1m-3-13h1m7-17h1m27 7h1m-16 46h1m-14-33h1m12-13h1m-30 16h1m21-72h1m5 54h1m-7 32h1m-31-43h1m11 10h1m16-12h1m-19 66h1m-1-37h1m5-15h1m8-2h1m-4-9h1m-62-5h1m70 8h1m-60 45h1m38-88h1m-24-6h1m48 110h1m-36-17h1m-24 17h1m-38-36h1m100-74h1" stroke="#b8a6b0" stroke-opacity="0.36" stroke-width="1" transform="translate(0 0.5)"/>
<path d="M144 427h1m10-2h1m-15-19h1m-9 9h1m6-12h1m7 14h1m-2-21h1m-3 27h1m-3-3h1m-7-6h1m12-13h1m-2-16h1m-12 48h1m10-22h1m-8 9h1m0-24h1m-3 4h1m-6-15h1m19 17h1m-15-1h1m2 10h1m-14-22h1m5 30h1m5-11h1m-7-18h1m-4 9h1m7-21h1m-10 8h1m1 23h1m5 14h1m1 5h1m-8-9h1m3-5h1m11-4h1m-6 4h1m-15-21h1m11 16h1m-3-7h1m-9 7h1m13 18h1m-19-53h1m12 13h1m-1 10h1m2 11h1m-2 9h1m-8-29h1m7 28h1m-9 15h1m-2-26h1m4-4h1m-7-15h1m6 33h1m-1-5h1m-6-27h1m10 32h1m-6-14h1m-4 3h1m-2-14h1m-3 13h1m11-2h1m2 5h1m-14 14h1m4-21h1m-7-10h1m8 33h1m-2-19h1m-3-5h1m-9-9h1m14 7h1m-16-2h1m6 14h1m-10-10h1m14 0h1m-14-1h1m0 23h1m-7-26h1m-5-1h1m4 11h1m2 15h1m-10-14h1m14-8h1m-4-3h1m-1-2h1m9 12h1m-9-7h1m-1-18h1m-5 5h1m-8 17h1m7-22h1m-6 8h1m3 21h1m-1-19h1m2 10h1m1 0h1m1 8h1m-8-15h1m2 7h1m-2 9h1m9-23h1m-22 28h1m22-15h1m4-22h1m-16 10h1m-8 19h1m8 5h1m0-11h1m-13 25h1m0-17h1m15-8h1m1-5h1m-15-6h1m1 41h1m7-21h1m-8-8h1m4-2h1m-20-9h1m49 15h1m-15-4h1m2-4h1m-15 0h1m14 3h1m-14-17h1m-4 22h1m11 17h1m-10-15h1m5-3h1m-9 11h1m4 9h1m3-25h1m0 1h1m-9 2h1m0-7h1m11 16h1m-5 6h1m1-19h1m-4 11h1m7 3h1m-9-22h1m-5-1h1m4 32h1m-3-28h1m-5 14h1m-1-1h1m2-18h1m7 10h1m-12 4h1m12-15h1m-15 11h1m1-1h1m4-3h1m2 3h1m-11-11h1m-1 12h1m2 7h1m-1-3h1m-2 3h1m6 1h1m-4 7h1m-41-26h1m27-6h1m-13-19h1m4-8h1m10 45h1m10-10h1m-15-29h1m-6-4h1m-4 49h1m2-43h1m-7 2h1m-2 16h1m17-13h1m-9-7h1m-15 40h1m-1-27h1m16 13h1m1-10h1m-19 12h1m19-2h1m-7-8h1m4-8h1m-2-13h1m-24 0h1m15 4h1m0 30h1m-10-2h1m4-21h1m-8 37h1m18-37h1m-2 12h1m-17-3h1m17-17h1m6 8h1m-6 7h1m-28 5h1m12 17h1m14-32h1m-25 14h1m10-10h1m14-2h1m-30 22h1m-8-43h1m15 14h1m8 4h1m-14 5h1m-9 8h1m17 6h1m-12-1h1m11-1h1m-5-3h1m8-17h1m-11 4h1m-2-13h1m22 18h1m-23 21h1m3-29h1m8 10h1m-6-17h1m-2 27h1m-11-18h1m4 12h1m-14-7h1m15 9h1m2 7h1m-3-5h1m-12-3h1m14-14h1m-18 14h1m2 0h1m15 5h1m-1 3h1m-13-15h1m-22 16h1m11-28h1m15 35h1m0-21h1m-15 12h1m26-26h1m-19 15h1m3 17h1m-12 10h1m11-13h1m-12-7h1m1 15h1m1-15h1m8 12h1m-1-8h1m1-6h1m-6-13h1m2 6h1m1 3h1m-7-1h1m-9-9h1m3-7h1m-2 10h1m-5 5h1m-8-4h1m6 32h1m-6-33h1m7 26h1m-3-4h1m-13-22h1m11 24h1m17 5h1m-13-7h1m-4-10h1m6 21h1m3 30h1m-3-1h1m-18-3h1m-3 10h1m3 5h1m13-16h1m1 5h1m-5 16h1m-10 1h1m-7-18h1m31 12h1m-15-26h1m-5 12h1m9 15h1m-8-26h1m-12-7h1m3 0h1m-5 39h1m-9-11h1m-4-16h1m12-20h1m3 23h1m4 25h1m2-16h1m-15-18h1m0 44h1m23 15h1m-29-45h1m6 21h1m17 12h1m-20-39h1m17-1h1m-18 31h1m-24-54h1m27 28h1m-9-2h1m-2 6h1m-1 0h1m2 24h1m11-15h1m-17 8h1m9-16h1m-20 16h1m18-9h1m-25-13h1m31 5h1m-22-2h1m-10-4h1m22-10h1m-8 37h1m4-27h1m9-2h1m-20 21h1m18-6h1m-26 9h1m19-18h1m-16 9h1m-1 3h1m13 10h1m22-2h1m-39-25h1m7 29h1m10 13h1m-4-27h1m-20-16h1m-2 25h1m19-30h1m-17 37h1m4-12h1m7-10h1m0-33h1m-22 23h1m1-17h1m9 31h1m-13 0h1m25 23h1m-19-37h1m-3-10h1m12 2h1m-16 3h1m18 6h1m-20 5h1m23-13h1m-13 29h1m-24-35h1m14 17h1m-8 34h1m11-27h1m-6-11h1m-10 5h1m27 0h1m-21-24h1m10 9h1m-12 46h1m-1-11h1m-5-14h1m16-14h1m-11 9h1m11-12h1m-5 30h1m-20-11h1m10 0h1m-1-40h1m5 18h1m-4 14h1m4-8h1m3 16h1m-14-37h1m2-29h1m-1 28h1m17-28h1m-11 29h1m-30 3h1m27-21h1m-9 33h1m-23-50h1m16 4h1m-15 59h1m29-37h1m-11-26h1m18 45h1m-17-12h1m-2-36h1m14 44h1m-1-5h1m-6 17h1m16 24h1m-21-56h1m-10 23h1m39 20h1m-38 3h1m-14-28h1m-18-12h1m34 3h1m1 32h1m-11-13h1m6-15h1m-16 14h1m33-2h1m-28 23h1m-12-50h1m-4 47h1m25-8h1m1 5h1m11-9h1m-35-24h1m1 21h1m3-28h1m33 40h1m-23-45h1m26 42h1m-67-10h1m28-20h1m7 6h1m10 29h1m-3-27h1m-25 34h1m5-5h1m-65 1h1m-4-7h1m9-6h1m5-2h1m-4 25h1m1-8h1m9-16h1m-26 9h1m8 25h1m-2-28h1m3 13h1m-1-4h1m6-13h1m-26 0h1m21 4h1m5 11h1m3 2h1m-10-27h1m-10 27h1m7-19h1m2 18h1m1-6h1m-17 6h1m13-3h1m0-3h1m-7 7h1m-8 5h1m3-5h1m-7-16h1m5 5h1m-9 14h1m3-36h1m-1 39h1m6-27h1m-18 12h1m23 13h1m-1-5h1m3-9h1m-16 27h1m-2-6h1m2-21h1m29 24h1m-11-65h1m7 43h1m-13-39h1m7 41h1m1-11h1m3-60h1m20 71h1m-52-35h1m19-27h1m-31 86h1m38-39h1m-13-18h1m-12 50h1m13-31h1m-9-6h1m5-53h1m10 45h1m-39 5h1m-3 10h1m3 22h1m34-48h1m-2-3h1m-15 32h1m10-20h1m-27 18h1m7-29h1m16 34h1m-2 10h1m8-60h1m-18 36h1m-16 30h1m-4 31h1m2-101h1m9 25h1m0-25h1m39 58h1m-21-51h1m10 64h1m14 21h1m-58 4h1m59-34h1m-47-71h1m2 84h1m19-27h1m-31-3h1m8-13h1m15-5h1m-39 33h1m7 1h1m-7-6h1m35-14h1m-28-9h1m-5-25h1m-6 14h1m-9 22h1m21-43h1m2 84h1m-16-65h1m6 1h1m-3 10h1m12-47h1m2 36h1m-21 76h1m22-95h1m-29 68h1m15 2h1m23-30h1m-7 28h1m-7-64h1m46 48h1m4-14h1m27-76h1m-60 105h1m13-30h1m43-13h1m-24 35h1m28-1h1m-10-5h1m-18-1h1m3-26h1m-13 39h1m-18-58h1m20 5h1m6 21h1m-17 35h1m27-29h1m-26 50h1m0-21h1m-68-98h1m48 71h1m-31 8h1m-39 5h1m61 4h1m52-30h1m-4 45h1m-86-64h1m10 89h1m-42-128h1" stroke="#b8a6b0" stroke-opacity="0.36" stroke-width="1" transform="translate(0 0.5)"/>
<path d="M136 397h1m14 3h1m-7 18h1m-9-23h1m-1 5h1m4 3h1m9 15h1m-18-25h1m1 21h1m-1-8h1m6-14h1m-7 20h1m1-21h1m14 17h1m-9 0h1m7-2h1m-13 13h1m-2-16h1m-2 6h1m5-6h1m-7 2h1m-14-1h1m5-4h1m3 15h1m9-16h1m-7-5h1m-11 5h1m0 11h1m10 1h1m5-16h1m-4 25h1m5-25h1m-10-8h1m-9 22h1m-2-2h1m9 3h1m-11 0h1m12-8h1m-13-6h1m-3-1h1m8 7h1m8 16h1m-14-11h1m-7-1h1m0-9h1m-1 14h1m11-13h1m-8 16h1m5-8h1m0-11h1m-13 14h1m3-13h1m1 36h1m-11-6h1m23-40h1m-5 14h1m-19-20h1m13 23h1m-11 2h1m5-16h1m-5 21h1m1-3h1m-9-8h1m8 13h1m-3-7h1m-1 18h1m-3-26h1m3 10h1m-3 0h1m-6-9h1m12 33h1m-16-13h1m14-16h1m-16 8h1m0-2h1m9-2h1m1 6h1m-19 2h1m21 10h1m-15-11h1m5 13h1m1-10h1m-5-20h1m1-13h1m0 12h1m9 11h1m-5-17h1m-11 11h1m5-5h1m-4-8h1m-1 26h1m5-3h1m-9 5h1m8-26h1m-3 22h1m-11 5h1m14-3h1m-8-5h1m0-4h1m0 2h1m-20 22h1m28-25h1m-18 13h1m-4-13h1m10-8h1m5 32h1m-16-25h1m5 0h1m-4 6h1m-2-13h1m6 19h1m-19-8h1m18-8h1m-10-17h1m7 24h1m-1-5h1m-8 6h1m17-6h1m8 13h1m-9-9h1m-6 10h1m14 2h1m-7-16h1m-6-1h1m5 9h1m-5 2h1m4 2h1m-1-16h1m-4 15h1m-3 7h1m2-16h1m-6-6h1m-7 24h1m3-29h1m6 12h1m-7-3h1m17 17h1m-18-4h1m-6-16h1m16 10h1m-11-2h1m-7 3h1m4-9h1m-6 3h1m11 11h1m-14-4h1m7-9h1m-2-6h1m-1 13h1m-1 8h1m-1-18h1m2 13h1m5-22h1m-2 11h1m-9-1h1m1 9h1m9-6h1m-26-3h1m12-9h1m-18-27h1m-3 17h1m18-8h1m7 17h1m-20 12h1m-15-34h1m10-1h1m3 20h1m-19-32h1m14 59h1m11-42h1m-24 20h1m0 5h1m18-28h1m-20 15h1m12-14h1m-5 21h1m-18 9h1m25 7h1m-17-30h1m-5 13h1m-2-11h1m14-9h1m-14 3h1m16-18h1m-18 40h1m3-15h1m6 14h1m3-2h1m2-28h1m-20 26h1m4-37h1m-1 51h1m15-23h1m-10 27h1m-3 7h1m1-27h1m-14 7h1m17-37h1m-1 10h1m-8 42h1m16-26h1m-7-6h1m-1-3h1m-5-6h1m5 19h1m-22 9h1m5 1h1m9-14h1m-12-1h1m-3-24h1m0 22h1m1-12h1m5 33h1m-17-35h1m17 49h1m-12-49h1m3 16h1m8 23h1m-20-44h1m18 1h1m-3 22h1m9-2h1m-18-1h1m-1 16h1m6-29h1m-14-1h1m9 21h1m13-18h1m3-24h1m-23 31h1m-3-5h1m-1 5h1m-6 12h1m4-38h1m-1 19h1m1 22h1m-13-5h1m12 14h1m21-47h1m-21 39h1m-2-21h1m14 29h1m-9-22h1m-11-8h1m-10 0h1m20-12h1m-16 4h1m-4 15h1m8 7h1m5 6h1m-12 6h1m9 1h1m-14-10h1m14-22h1m-17-1h1m17 7h1m2 14h1m-7 1h1m4-20h1m-15-7h1m19-1h1m-23 27h1m-4-14h1m-7 27h1m11-29h1m6 1h1m-9 22h1m8 46h1m4-1h1m-8-1h1m7-27h1m-20 46h1m12-28h1m-15 19h1m13-3h1m-5 1h1m16-1h1m-21-8h1m5-22h1m-5 16h1m-1-14h1m20 49h1m-19 0h1m-5-48h1m-2 26h1m13-34h1m-8 16h1m-3 16h1m-10 5h1m4-2h1m-2 6h1m1-11h1m-14-7h1m21 7h1m3-24h1m-7 27h1m8-19h1m-12 24h1m3-2h1m-11-17h1m-3-15h1m-4 18h1m22 36h1m-18-7h1m19-9h1m-26-12h1m-4 0h1m-2-5h1m20-15h1m-35 52h1m27-34h1m-4-30h1m-1 27h1m-7 18h1m4-36h1m-12 39h1m19-20h1m-4 11h1m-5 7h1m-6-25h1m-10-17h1m17 28h1m-4-9h1m-12-10h1m10 27h1m-23-2h1m11-28h1m-4 33h1m3 5h1m-3-12h1m1-16h1m14 26h1m-9-7h1m-17-6h1m14 8h1m27-18h1m-32 2h1m4 7h1m-16 24h1m-6-8h1m17-15h1m-11 0h1m-12-11h1m21 28h1m-16-5h1m9-17h1m8 28h1m-7-11h1m-7 1h1m-2-10h1m18-4h1m-10 5h1m-17-2h1m32 14h1m-24-29h1m19 15h1m-5 13h1m-12-10h1m6-13h1m2 2h1m-29 4h1m18-9h1m-5-13h1m-10 21h1m10-6h1m6-7h1m-25 42h1m15-13h1m8 7h1m-19-6h1m-3 2h1m0-25h1m4 0h1m3 7h1m7 10h1m-5-63h1m-16 3h1m16 33h1m31-16h1m-28 1h1m-22 1h1m-8 3h1m11-20h1m-2 23h1m8-10h1m-4-7h1m2 34h1m16-62h1m-13 41h1m-1-21h1m24 12h1m-41 5h1m0-18h1m11 69h1m-10-61h1m-7-22h1m17 28h1m11 16h1m-42-31h1m28 40h1m-29-26h1m28 18h1m-22-45h1m5 59h1m-4-12h1m0-13h1m4-25h1m-7 20h1m16 38h1m4 30h1m-4-56h1m-13 11h1m-14-53h1m5 49h1m-5-18h1m21-10h1m-7 68h1m-15-56h1m-14 36h1m2-31h1m46-5h1m-39 8h1m19-30h1m-2 25h1m20 5h1m-82 22h1m-5 16h1m-9-29h1m-2 15h1m18 4h1m-11 11h1m-2-7h1m-16-19h1m19 13h1m-5-12h1m-11 11h1m7 2h1m-1 16h1m7-20h1m-10 4h1m7-5h1m-9-12h1m9 16h1m-7-11h1m-20 16h1m27-7h1m-13-9h1m5-19h1m-17 32h1m9-1h1m6-6h1m-3 1h1m-5 14h1m-8-14h1m22 3h1m-12 12h1m1-11h1m-6 6h1m6-19h1m-12 19h1m-13-6h1m25-25h1m-13 34h1m7-19h1m-6-3h1m-7-5h1m55-1h1m-11-34h1m-35 65h1m-28-28h1m15-59h1m21 83h1m7-59h1m-12-9h1m-21 3h1m23 72h1m-21-75h1m26 75h1m-44 17h1m40-38h1m-38-25h1m15 24h1m2-6h1m31-10h1m-12-1h1m-7-25h1m-34 27h1m-7-13h1m12 16h1m31-23h1m23 14h1m-35-14h1m-40-10h1m8 31h1m22 21h1m6 4h1m-4-50h1m-31 20h1m35 21h1m-8 0h1m34 13h1m-46-16h1m7-15h1m9-2h1m-4-16h1m8 46h1m-37 9h1m36-38h1m-9-25h1m-27 35h1m-2-50h1m24 67h1m-20-36h1m-11 12h1m31-13h1m13 20h1m-54 27h1m17-47h1m34 17h1m17 38h1m-30-87h1m-39 65h1m12-34h1m-7 51h1m-9-50h1m4 19h1m15 23h1m21-49h1m-23 35h1m-12-39h1m36 22h1m-37-23h1m-4 59h1m11-9h1m6-56h1m-36 61h1m35-7h1m59-36h1m34 11h1m-52 16h1m19-22h1m-23 7h1m10 37h1m2 21h1m11-42h1m-14 11h1m18-56h1m-12 42h1m-12-7h1m-19 42h1m11-93h1m16 81h1m-2-55h1m-6-10h1m5-1h1m-25 35h1m-50-56h1m38 81h1m-12-36h1m56-62h1m-102 108h1m109-75h1m-94 13h1m83 10h1m-88 59h1m74-38h1" stroke="#d98cb4" stroke-opacity="0.3" stroke-width="1" transform="translate(0 0.5)"/>
<path d="M139 405h1m-1 13h1m1-10h1m5 7h1m-11-30h1m5 27h1m3-8h1m-14-1h1m-1 4h1m-1-11h1m4 9h1m-7 9h1m15-15h1m-3-3h1m-24 8h1m23 6h1m2-4h1m-8 10h1m-10-7h1m-2 6h1m4-17h1m6 9h1m-4-3h1m1-8h1m-12 18h1m11-8h1m-16-14h1m12 3h1m-11 21h1m-1-10h1m7 10h1m6-29h1m-5 12h1m-10 7h1m2 0h1m-10-18h1m17 19h1m-25-12h1m31 21h1m-17-28h1m-4 5h1m21 15h1m-24 10h1m12-19h1m-13 7h1m-1-10h1m6 29h1m-7-25h1m4 1h1m-1 15h1m-8-24h1m1 3h1m-5 16h1m12-7h1m-4 9h1m-15 18h1m14-24h1m5 6h1m-14-2h1m5-6h1m-3-2h1m6-12h1m-7 9h1m-9-8h1m11 25h1m0-40h1m-10 19h1m-5 10h1m-3-1h1m7 4h1m5-15h1m-12 25h1m19-25h1m-3 12h1m-11-9h1m-7 9h1m3 15h1m11-19h1m-19 11h1m6-5h1m-8-1h1m-10-23h1m27 12h1m-20 29h1m-4-37h1m9 11h1m13-3h1m-21 29h1m-5-35h1m17 2h1m-19 2h1m2 6h1m1 10h1m1-11h1m10-3h1m-22 10h1m8 1h1m6-8h1m-4 18h1m1-4h1m-4 0h1m-11 3h1m1-25h1m17 21h1m-5-8h1m8 0h1m-14-2h1m1-2h1m1 18h1m-7-9h1m-9-1h1m-6 0h1m1 9h1m8-4h1m-5 4h1m15-20h1m8 22h1m8-22h1m-10 4h1m4 0h1m-17 4h1m7 1h1m-7-22h1m7 22h1m-2-5h1m-7-2h1m3 8h1m3-19h1m8 23h1m-10-3h1m-6 4h1m0-5h1m2 2h1m2-2h1m-12 0h1m7-4h1m3 1h1m-10-2h1m6 2h1m-1 14h1m-2-9h1m-1-17h1m-1 13h1m-6 8h1m8-15h1m-11 7h1m3-4h1m8 5h1m-6-4h1m3 13h1m-4 4h1m-6-25h1m-6 3h1m7 6h1m-1 18h1m-3-5h1m6-23h1m5 11h1m-26-11h1m-1-8h1m-7 0h1m-9-4h1m-1-3h1m17-14h1m6-3h1m-15 28h1m3 0h1m8-28h1m-16 27h1m-18-15h1m32 36h1m4-37h1m-17 16h1m-17 12h1m34-27h1m-26 17h1m13-7h1m-13 16h1m-3-24h1m2 19h1m8-5h1m-18 4h1m0-9h1m15-9h1m-10 9h1m-12-15h1m19 20h1m3-11h1m-15 23h1m3-36h1m-16-8h1m17 23h1m-2-20h1m-11 10h1m8 23h1m-15-11h1m13 20h1m-1 26h1m-10-46h1m10-1h1m-16 31h1m12-22h1m-12-12h1m15-11h1m4 23h1m-6-34h1m-2 22h1m-1 3h1m16-12h1m-14 2h1m-13 31h1m11-9h1m-17-26h1m2 8h1m-7-9h1m0 13h1m3 24h1m0-3h1m1-24h1m-10-13h1m15 7h1m-12 3h1m7 0h1m-3-10h1m-7 28h1m-2 3h1m3-38h1m7 18h1m-21 8h1m21-4h1m5 25h1m-17-37h1m1 25h1m12 4h1m-36-28h1m24 26h1m-10 14h1m5-17h1m-7-30h1m4 11h1m-3 16h1m-3-6h1m2 18h1m-3-31h1m-3-1h1m-3 24h1m-5-25h1m14 12h1m-8-23h1m16 20h1m-8 7h1m13 20h1m-29-25h1m4 3h1m7 4h1m-5-36h1m-9 20h1m5 2h1m4 28h1m0-24h1m-23 5h1m17 4h1m3 11h1m1 1h1m-20-31h1m18-1h1m-1 48h1m0 12h1m-11 32h1m-5 6h1m6-46h1m6 30h1m-6-20h1m-7 37h1m2-21h1m-6 12h1m8 19h1m11-37h1m-2 13h1m-33-16h1m9-16h1m18 4h1m-4 5h1m-15 38h1m-3-32h1m1 35h1m-2-36h1m2-14h1m-3 39h1m6-24h1m-15 9h1m-3 20h1m17-11h1m-19-27h1m8 29h1m9 3h1m-15-24h1m-3-3h1m2-9h1m7 39h1m-8-23h1m2 32h1m4-62h1m-1 41h1m-3 12h1m7-14h1m-10-38h1m0 34h1m11-13h1m-11 12h1m-9 18h1m13-33h1m-5 14h1m-3-18h1m1 31h1m-15-20h1m-7 32h1m6-47h1m14 28h1m4 15h1m2-30h1m-15 11h1m0 1h1m-2-22h1m-13 39h1m5-9h1m2 16h1m-10 6h1m29-8h1m0-33h1m-19 28h1m-12-1h1m14 6h1m1-13h1m-8 1h1m21-9h1m-7-22h1m-12 15h1m17-18h1m-14 13h1m-1 12h1m-28-2h1m23 2h1m-13-17h1m4 39h1m-4-16h1m-3-28h1m-10 11h1m11 31h1m10-17h1m-18-14h1m12 8h1m-9-9h1m-9 14h1m16 12h1m19-45h1m-22 13h1m-5 27h1m3-16h1m-1 10h1m-8-15h1m-12 23h1m27-15h1m-12 7h1m-13 10h1m-7-15h1m-3 1h1m18-3h1m-9 3h1m16 0h1m-6-20h1m-5 31h1m3 0h1m-3-30h1m-9 49h1m20-31h1m-11-18h1m30 2h1m-39-67h1m-22 62h1m11-5h1m22-8h1m8-7h1m-5 51h1m-8-86h1m-13 41h1m5 20h1m-12-4h1m6-6h1m-13 17h1m15-29h1m-12 36h1m-22-38h1m31 8h1m-3 20h1m10 18h1m-19-62h1m-16 19h1m9-12h1m-4 71h1m18-41h1m11 45h1m-35-61h1m16 1h1m-8-38h1m-6 4h1m33 36h1m-19 5h1m-22-6h1m16 24h1m-24 14h1m18-34h1m16-11h1m-26 29h1m-13-29h1m42 21h1m-13 12h1m-9-20h1m27 63h1m-45-51h1m6-66h1m19 48h1m-17-75h1m-11 67h1m-56 53h1m11-22h1m8 21h1m-6-24h1m-22 16h1m23-2h1m-4 7h1m-20-14h1m21 29h1m-15-24h1m16 12h1m-24-13h1m7 11h1m2-16h1m-12 18h1m15-7h1m-18-10h1m24 0h1m-15-6h1m-1 8h1m-13-13h1m18 9h1m11 3h1m-32 4h1m3 12h1m4 5h1m18-3h1m2-11h1m-13 4h1m-12-2h1m5-14h1m-8 11h1m9-21h1m0 20h1m6-30h1m-8 25h1m-14 17h1m2-25h1m-6 18h1m0-14h1m25 17h1m-35 3h1m66-4h1m-22-29h1m-1 10h1m11-41h1m-16 13h1m-19-16h1m-1 36h1m2-28h1m-1 27h1m12-29h1m-30 40h1m-6 26h1m63-73h1m-43-13h1m-4-17h1m-20 125h1m19-66h1m-6 4h1m10 23h1m-8 34h1m-14-27h1m25-60h1m-43 3h1m42 30h1m-32 13h1m53-2h1m-11-44h1m-8-32h1m-5 68h1m-14 41h1m8-48h1m-11 27h1m18-42h1m-30 38h1m13-28h1m-16 26h1m-14 18h1m24-8h1m2-22h1m16 4h1m-26-1h1m2-14h1m2 9h1m-22 36h1m46-96h1m-32 86h1m13-52h1m16 2h1m-8-7h1m-13-9h1m-22-31h1m1 70h1m19-21h1m-25 37h1m60-17h1m-44-11h1m-6 30h1m-27-32h1m4 50h1m19-61h1m8 20h1m-1 24h1m21-20h1m-23 18h1m13-71h1m-3 33h1m4 66h1m10-54h1m-29-3h1m-5-8h1m67 42h1m-22-58h1m-6-4h1m10 50h1m16-36h1m-29 38h1m0-20h1m-13-32h1m37 39h1m-13 8h1m8 3h1m11 8h1m-17-38h1m-9-4h1m-6 58h1m3-28h1m-12-5h1m23-6h1m-28 9h1m3-14h1m-66 23h1m102 24h1m-67-110h1m-18 39h1m11-43h1m45 132h1m-19-66h1m24 32h1m-78-57h1m85 40h1" stroke="#d98cb4" stroke-opacity="0.3" stroke-width="1" transform="translate(0 0.5)"/>
<path d="M152.8 408.3 L153.0 410.0 L152.7 411.7 L152.2 413.2 L151.9 414.7 L152.0 416.6 L151.9 418.6 L151.3 419.9 L150.3 420.8 L149.6 422.0 L149.2 423.8 L148.7 425.5 L147.7 426.2 L146.6 426.2 L145.6 426.6 L144.7 427.5 L143.8 427.8 L142.7 427.0 L141.8 425.8 L141.0 425.3 L140.1 425.7 L139.1 425.9 L138.2 425.5 L137.4 424.9 L136.5 424.4 L135.7 423.5 L135.1 422.4 L134.4 421.3 L133.5 420.5 L132.6 419.6 L132.0 418.3 L131.8 416.5 L131.7 414.8 L131.3 413.2 L130.7 411.7 L130.2 410.1 L130.1 408.3 L130.0 406.5 L130.1 404.7 L130.5 403.0 L131.2 401.5 L131.8 400.1 L132.1 398.5 L132.3 396.6 L132.9 395.1 L133.7 394.1 L134.7 393.4 L135.5 392.5 L136.3 391.7 L137.3 391.2 L138.2 391.0 L139.1 390.7 L140.0 390.3 L140.9 389.8 L141.8 389.6 L142.7 389.9 L143.6 390.4 L144.5 390.9 L145.4 391.2 L146.3 391.3 L147.3 391.7 L148.1 392.5 L148.8 393.6 L149.5 394.8 L150.2 395.9 L150.9 397.1 L151.6 398.4 L152.2 399.8 L152.7 401.4 L152.8 403.1 L152.6 404.9 L152.6 406.6Z" stroke="#e8509c" stroke-width="1.2" fill="none"/>
<path d="M167.5 405.5 L167.9 406.7 L168.2 408.0 L168.1 409.3 L167.7 410.3 L167.3 411.2 L167.0 412.2 L166.8 413.3 L166.4 414.1 L166.0 414.8 L165.6 415.6 L165.3 416.5 L164.9 417.1 L164.4 417.3 L163.9 417.5 L163.4 418.0 L163.0 418.5 L162.5 418.4 L162.0 418.0 L161.5 418.0 L161.0 418.6 L160.5 418.8 L160.0 418.2 L159.6 417.3 L159.2 416.8 L158.7 416.5 L158.3 415.6 L158.2 414.2 L158.2 413.0 L157.8 412.3 L157.3 411.8 L157.0 410.9 L157.0 409.7 L157.1 408.6 L156.9 407.6 L156.6 406.6 L156.3 405.5 L156.3 404.3 L156.4 403.2 L156.6 402.1 L156.8 401.1 L156.9 400.0 L157.0 398.8 L157.2 397.7 L157.5 396.7 L157.9 395.9 L158.3 395.2 L158.6 394.3 L159.0 393.6 L159.5 393.1 L160.0 392.8 L160.5 392.5 L161.0 392.2 L161.5 392.1 L162.0 392.4 L162.5 392.7 L163.0 392.9 L163.4 393.0 L163.9 393.2 L164.4 393.8 L164.8 394.4 L165.2 394.9 L165.6 395.5 L165.9 396.5 L166.0 397.7 L166.0 399.0 L166.1 400.0 L166.4 400.7 L166.9 401.4 L167.2 402.2 L167.4 403.3 L167.4 404.4Z" stroke="#e8509c" stroke-width="1.2" fill="none"/>
<path d="M158.6 404.5 L158.6 405.4 L158.6 406.2 L158.4 407.0 L158.3 407.8 L158.1 408.6 L157.9 409.3 L157.7 410.0 L157.5 410.7 L157.2 411.3 L156.9 411.8 L156.6 412.4 L156.3 412.8 L155.9 413.2 L155.6 413.5 L155.2 413.7 L154.8 413.8 L154.4 413.9 L154.0 413.8 L153.6 413.7 L153.2 413.5 L152.9 413.3 L152.5 413.1 L152.2 412.8 L151.8 412.5 L151.5 412.2 L151.1 411.8 L150.8 411.3 L150.5 410.7 L150.2 410.1 L150.0 409.4 L149.9 408.6 L149.7 407.8 L149.6 407.0 L149.6 406.1 L149.6 405.3 L149.5 404.5 L149.6 403.7 L149.6 402.9 L149.7 402.0 L149.8 401.2 L149.9 400.5 L150.1 399.7 L150.3 399.0 L150.5 398.3 L150.7 397.6 L151.0 397.0 L151.3 396.5 L151.7 396.0 L152.1 395.7 L152.4 395.4 L152.8 395.3 L153.2 395.2 L153.6 395.2 L154.0 395.2 L154.4 395.3 L154.8 395.4 L155.1 395.5 L155.5 395.7 L155.9 396.0 L156.2 396.4 L156.5 396.8 L156.8 397.3 L157.1 397.9 L157.4 398.5 L157.6 399.2 L157.8 399.9 L158.0 400.5 L158.2 401.3 L158.4 402.0 L158.5 402.8 L158.6 403.7Z" stroke="#e8509c" stroke-width="1.2" fill="none"/>
<path d="M152.8 408.3 L153.0 410.0 L152.7 411.7 L152.2 413.2 L151.9 414.7 L152.0 416.6 L151.9 418.6 L151.3 419.9 L150.3 420.8 L149.6 422.0 L149.2 423.8 L148.7 425.5 L147.7 426.2 L146.6 426.2 L145.6 426.6 L144.7 427.5 L143.8 427.8 L142.7 427.0 L141.8 425.8 L141.0 425.3 L140.1 425.7 L139.1 425.9 L138.2 425.5 L137.4 424.9 L136.5 424.4 L135.7 423.5 L135.1 422.4 L134.4 421.3 L133.5 420.5 L132.6 419.6 L132.0 418.3 L131.8 416.5 L131.7 414.8 L131.3 413.2 L130.7 411.7 L130.2 410.1 L130.1 408.3 L130.0 406.5 L130.1 404.7 L130.5 403.0 L131.2 401.5 L131.8 400.1 L132.1 398.5 L132.3 396.6 L132.9 395.1 L133.7 394.1 L134.7 393.4 L135.5 392.5 L136.3 391.7 L137.3 391.2 L138.2 391.0 L139.1 390.7 L140.0 390.3 L140.9 389.8 L141.8 389.6 L142.7 389.9 L143.6 390.4 L144.5 390.9 L145.4 391.2 L146.3 391.3 L147.3 391.7 L148.1 392.5 L148.8 393.6 L149.5 394.8 L150.2 395.9 L150.9 397.1 L151.6 398.4 L152.2 399.8 L152.7 401.4 L152.8 403.1 L152.6 404.9 L152.6 406.6Z" stroke="none" stroke-width="1" fill="#f6c2dc"/>
<path d="M167.5 405.5 L167.9 406.7 L168.2 408.0 L168.1 409.3 L167.7 410.3 L167.3 411.2 L167.0 412.2 L166.8 413.3 L166.4 414.1 L166.0 414.8 L165.6 415.6 L165.3 416.5 L164.9 417.1 L164.4 417.3 L163.9 417.5 L163.4 418.0 L163.0 418.5 L162.5 418.4 L162.0 418.0 L161.5 418.0 L161.0 418.6 L160.5 418.8 L160.0 418.2 L159.6 417.3 L159.2 416.8 L158.7 416.5 L158.3 415.6 L158.2 414.2 L158.2 413.0 L157.8 412.3 L157.3 411.8 L157.0 410.9 L157.0 409.7 L157.1 408.6 L156.9 407.6 L156.6 406.6 L156.3 405.5 L156.3 404.3 L156.4 403.2 L156.6 402.1 L156.8 401.1 L156.9 400.0 L157.0 398.8 L157.2 397.7 L157.5 396.7 L157.9 395.9 L158.3 395.2 L158.6 394.3 L159.0 393.6 L159.5 393.1 L160.0 392.8 L160.5 392.5 L161.0 392.2 L161.5 392.1 L162.0 392.4 L162.5 392.7 L163.0 392.9 L163.4 393.0 L163.9 393.2 L164.4 393.8 L164.8 394.4 L165.2 394.9 L165.6 395.5 L165.9 396.5 L166.0 397.7 L166.0 399.0 L166.1 400.0 L166.4 400.7 L166.9 401.4 L167.2 402.2 L167.4 403.3 L167.4 404.4Z" stroke="none" stroke-width="1" fill="#f6c2dc"/>
<path d="M158.6 404.5 L158.6 405.4 L158.6 406.2 L158.4 407.0 L158.3 407.8 L158.1 408.6 L157.9 409.3 L157.7 410.0 L157.5 410.7 L157.2 411.3 L156.9 411.8 L156.6 412.4 L156.3 412.8 L155.9 413.2 L155.6 413.5 L155.2 413.7 L154.8 413.8 L154.4 413.9 L154.0 413.8 L153.6 413.7 L153.2 413.5 L152.9 413.3 L152.5 413.1 L152.2 412.8 L151.8 412.5 L151.5 412.2 L151.1 411.8 L150.8 411.3 L150.5 410.7 L150.2 410.1 L150.0 409.4 L149.9 408.6 L149.7 407.8 L149.6 407.0 L149.6 406.1 L149.6 405.3 L149.5 404.5 L149.6 403.7 L149.6 402.9 L149.7 402.0 L149.8 401.2 L149.9 400.5 L150.1 399.7 L150.3 399.0 L150.5 398.3 L150.7 397.6 L151.0 397.0 L151.3 396.5 L151.7 396.0 L152.1 395.7 L152.4 395.4 L152.8 395.3 L153.2 395.2 L153.6 395.2 L154.0 395.2 L154.4 395.3 L154.8 395.4 L155.1 395.5 L155.5 395.7 L155.9 396.0 L156.2 396.4 L156.5 396.8 L156.8 397.3 L157.1 397.9 L157.4 398.5 L157.6 399.2 L157.8 399.9 L158.0 400.5 L158.2 401.3 L158.4 402.0 L158.5 402.8 L158.6 403.7Z" stroke="none" stroke-width="1" fill="#f6c2dc"/>
<path d="M151.2 408.5 L150.7 410.0 L150.4 411.4 L150.3 412.8 L150.1 414.2 L149.6 415.4 L149.0 416.4 L148.6 417.5 L148.3 418.9 L148.0 420.2 L147.4 421.2 L146.7 421.8 L146.1 422.4 L145.4 423.2 L144.8 424.0 L144.1 424.5 L143.3 424.9 L142.6 425.3 L141.8 426.0 L141.0 426.4 L140.1 426.3 L139.4 425.7 L138.6 425.1 L137.8 424.6 L137.0 424.2 L136.3 423.4 L135.7 422.1 L135.3 420.8 L134.7 419.7 L134.0 418.8 L133.6 417.4 L133.6 415.7 L133.8 414.0 L133.7 412.6 L133.3 411.3 L133.0 410.0 L133.1 408.5 L133.5 407.1 L133.7 405.8 L133.6 404.3 L133.5 402.8 L133.5 401.2 L133.7 399.7 L134.1 398.3 L134.6 397.2 L135.4 396.4 L136.1 395.7 L136.7 394.8 L137.3 393.6 L137.9 392.8 L138.7 392.6 L139.5 392.4 L140.3 392.1 L141.0 392.0 L141.8 392.2 L142.5 392.3 L143.3 392.0 L144.2 391.4 L145.1 391.6 L145.7 392.7 L146.2 394.0 L146.9 394.9 L147.6 395.4 L148.4 396.1 L148.9 397.2 L149.4 398.5 L149.8 399.8 L150.1 401.2 L150.4 402.6 L150.8 403.9 L151.2 405.4 L151.4 406.9Z" stroke="#ec78b0" stroke-width="0.8" fill="none" fill-opacity="1"/>
<path d="M150.2 407.9 L150.1 409.0 L150.1 410.1 L150.2 411.2 L150.1 412.4 L149.8 413.4 L149.4 414.3 L149.0 415.2 L148.8 416.4 L148.4 417.5 L147.8 418.2 L147.0 418.5 L146.3 418.6 L145.6 419.0 L145.0 419.6 L144.4 420.1 L143.7 420.4 L143.0 420.7 L142.3 420.8 L141.6 420.6 L140.9 420.1 L140.3 419.6 L139.6 419.4 L138.9 419.2 L138.4 418.5 L137.9 417.6 L137.5 416.9 L136.8 416.5 L136.1 416.0 L135.7 415.1 L135.4 414.1 L135.1 413.1 L134.8 412.1 L134.6 411.1 L134.7 410.0 L134.7 408.9 L134.5 407.9 L134.4 406.8 L134.5 405.8 L134.8 404.8 L135.0 403.7 L135.0 402.6 L135.0 401.4 L135.4 400.3 L135.9 399.6 L136.6 398.9 L137.1 398.2 L137.6 397.3 L138.1 396.6 L138.8 396.1 L139.5 395.9 L140.2 395.7 L140.9 395.6 L141.6 395.4 L142.3 395.3 L143.0 395.4 L143.7 395.6 L144.4 395.6 L145.2 395.6 L145.9 396.0 L146.4 396.8 L146.8 397.8 L147.2 398.7 L147.7 399.5 L148.2 400.2 L148.6 401.0 L148.9 402.0 L149.1 403.0 L149.3 403.9 L149.6 404.9 L149.9 405.8 L150.1 406.8Z" stroke="#3f8fd2" stroke-width="1.1" fill="#b2daf2" fill-opacity="0.95"/>
<path d="M164.5 402.4 L164.5 402.8 L164.5 403.3 L164.5 403.8 L164.4 404.2 L164.3 404.6 L164.2 405.0 L164.0 405.4 L163.8 405.7 L163.5 406.0 L163.3 406.4 L163.1 406.6 L162.8 406.9 L162.6 407.2 L162.3 407.4 L162.0 407.6 L161.7 407.7 L161.3 407.8 L161.0 407.7 L160.7 407.6 L160.4 407.5 L160.1 407.3 L159.8 407.2 L159.5 407.0 L159.2 406.8 L159.0 406.6 L158.7 406.4 L158.5 406.1 L158.3 405.7 L158.1 405.3 L157.9 405.0 L157.8 404.6 L157.6 404.2 L157.5 403.8 L157.3 403.3 L157.3 402.9 L157.2 402.4 L157.3 401.9 L157.4 401.5 L157.6 401.1 L157.7 400.7 L157.9 400.3 L158.1 400.0 L158.2 399.6 L158.4 399.2 L158.5 398.8 L158.7 398.5 L158.9 398.1 L159.2 397.8 L159.5 397.6 L159.8 397.5 L160.1 397.4 L160.4 397.3 L160.7 397.2 L161.0 397.2 L161.3 397.1 L161.7 397.1 L162.0 397.1 L162.3 397.2 L162.6 397.3 L162.9 397.6 L163.2 397.9 L163.4 398.3 L163.6 398.7 L163.7 399.1 L163.8 399.5 L164.0 399.9 L164.1 400.3 L164.2 400.7 L164.3 401.1 L164.4 401.5 L164.4 402.0Z" stroke="#3f8fd2" stroke-width="1" fill="#b2daf2" fill-opacity="0.95"/>
<path d="M148.9 406.0 L148.9 406.8 L148.9 407.5 L148.9 408.3 L148.9 409.1 L148.7 409.9 L148.5 410.6 L148.1 411.2 L147.7 411.8 L147.3 412.2 L146.9 412.7 L146.4 413.0 L145.9 413.4 L145.5 413.7 L145.0 414.1 L144.5 414.3 L144.0 414.4 L143.5 414.5 L143.0 414.4 L142.5 414.2 L142.0 414.0 L141.5 413.9 L141.1 413.7 L140.6 413.5 L140.1 413.4 L139.5 413.2 L139.0 412.9 L138.5 412.5 L138.1 412.0 L137.7 411.3 L137.5 410.6 L137.3 409.9 L137.2 409.1 L137.1 408.3 L137.0 407.5 L137.0 406.8 L137.0 406.0 L137.0 405.2 L137.1 404.5 L137.2 403.7 L137.4 403.0 L137.6 402.4 L137.9 401.7 L138.2 401.1 L138.5 400.6 L138.9 400.0 L139.3 399.5 L139.7 399.1 L140.1 398.7 L140.5 398.4 L141.0 398.1 L141.5 397.8 L142.0 397.6 L142.5 397.4 L143.0 397.2 L143.5 397.2 L144.1 397.1 L144.6 397.2 L145.1 397.5 L145.6 397.8 L146.1 398.2 L146.5 398.7 L146.9 399.3 L147.3 399.8 L147.6 400.4 L147.9 401.1 L148.1 401.7 L148.3 402.4 L148.5 403.1 L148.6 403.8 L148.7 404.5 L148.8 405.3Z" stroke="#2e9e4c" stroke-width="1.1" fill="#b6e0a6" fill-opacity="0.95"/>
<path d="M163.4 401.4 L163.4 401.6 L163.4 401.8 L163.3 402.0 L163.3 402.2 L163.2 402.4 L163.1 402.6 L163.0 402.8 L162.9 402.9 L162.8 403.1 L162.7 403.2 L162.6 403.4 L162.5 403.5 L162.3 403.6 L162.2 403.7 L162.0 403.8 L161.8 403.8 L161.7 403.8 L161.5 403.8 L161.3 403.8 L161.2 403.8 L161.0 403.7 L160.8 403.7 L160.7 403.6 L160.5 403.5 L160.4 403.4 L160.2 403.3 L160.1 403.1 L160.0 403.0 L160.0 402.8 L159.9 402.6 L159.8 402.4 L159.8 402.2 L159.7 402.0 L159.7 401.8 L159.6 401.6 L159.6 401.4 L159.6 401.2 L159.6 401.0 L159.7 400.8 L159.7 400.6 L159.8 400.4 L159.9 400.2 L159.9 400.0 L160.1 399.9 L160.2 399.7 L160.3 399.6 L160.4 399.5 L160.6 399.4 L160.7 399.3 L160.9 399.2 L161.0 399.1 L161.2 399.1 L161.3 399.0 L161.5 399.0 L161.7 399.0 L161.8 399.0 L162.0 399.0 L162.2 399.1 L162.3 399.1 L162.5 399.2 L162.6 399.4 L162.8 399.5 L162.9 399.7 L163.0 399.8 L163.1 400.0 L163.1 400.2 L163.2 400.4 L163.2 400.6 L163.3 400.8 L163.3 401.0 L163.3 401.2Z" stroke="#2e9e4c" stroke-width="0.9" fill="#b6e0a6" fill-opacity="0.9"/>
<path d="M144.6 406.0 L144.6 406.2 L144.6 406.4 L144.5 406.7 L144.5 406.9 L144.4 407.1 L144.3 407.3 L144.3 407.5 L144.1 407.6 L144.0 407.8 L143.9 408.0 L143.8 408.1 L143.7 408.2 L143.6 408.4 L143.4 408.5 L143.3 408.6 L143.1 408.6 L143.0 408.7 L142.8 408.7 L142.6 408.6 L142.5 408.6 L142.3 408.6 L142.2 408.5 L142.0 408.4 L141.9 408.3 L141.7 408.2 L141.6 408.0 L141.5 407.9 L141.4 407.7 L141.4 407.5 L141.3 407.2 L141.2 407.0 L141.2 406.8 L141.1 406.6 L141.1 406.4 L141.0 406.2 L141.0 406.0 L141.0 405.8 L141.0 405.5 L141.1 405.3 L141.1 405.1 L141.2 404.9 L141.3 404.7 L141.4 404.6 L141.5 404.4 L141.6 404.2 L141.7 404.0 L141.8 403.9 L141.9 403.7 L142.0 403.6 L142.2 403.5 L142.3 403.4 L142.5 403.3 L142.6 403.3 L142.8 403.3 L143.0 403.3 L143.1 403.3 L143.3 403.4 L143.4 403.5 L143.6 403.6 L143.7 403.8 L143.8 403.9 L143.9 404.0 L144.1 404.2 L144.2 404.4 L144.3 404.5 L144.3 404.7 L144.4 404.9 L144.5 405.1 L144.5 405.3 L144.5 405.6 L144.6 405.8Z" stroke="#e04030" stroke-width="0.9" fill="#f0a070" fill-opacity="0.9"/>
<line x1="128" y1="307.5" x2="128" y2="480.5" stroke="#6b6768" stroke-width="1"/>
<rect x="67.3" y="307.4" width="172.8" height="173.5" fill="none" stroke="#161616" stroke-width="1.5"/>
<path d="M67.3 480.9H62.5M67.3 447.7H62.5M67.3 414.5H62.5M67.3 381.3H62.5M67.3 348.1H62.5M67.3 314.9H62.5M67.3 474.26H64.9M67.3 467.62H64.9M67.3 460.98H64.9M67.3 454.34H64.9M67.3 441.06H64.9M67.3 434.42H64.9M67.3 427.78H64.9M67.3 421.14H64.9M67.3 407.86H64.9M67.3 401.22H64.9M67.3 394.58H64.9M67.3 387.94H64.9M67.3 374.66H64.9M67.3 368.02H64.9M67.3 361.38H64.9M67.3 354.74H64.9M67.3 341.46H64.9M67.3 334.82H64.9M67.3 328.18H64.9M67.3 321.54H64.9M67.3 308.26H64.9" stroke="#161616" stroke-width="1.15" fill="none"/>
<path d="M87.8 480.9V485.7M145.8 480.9V485.7M185.4 480.9V485.7M224.4 480.9V485.7M72.5 480.9V483.3M102 480.9V483.3M113.7 480.9V483.3M121.5 480.9V483.3M128 480.9V483.3M132 480.9V483.3M135.5 480.9V483.3M138 480.9V483.3M140.5 480.9V483.3M142.5 480.9V483.3M144.2 480.9V483.3M157.72 480.9V483.3M164.69 480.9V483.3M169.64 480.9V483.3M173.48 480.9V483.3M176.61 480.9V483.3M179.27 480.9V483.3M181.56 480.9V483.3M183.59 480.9V483.3M197.14 480.9V483.3M204.01 480.9V483.3M208.88 480.9V483.3M212.66 480.9V483.3M215.75 480.9V483.3M218.36 480.9V483.3M220.62 480.9V483.3M222.62 480.9V483.3M236.14 480.9V483.3" stroke="#161616" stroke-width="1.15" fill="none"/>
<text transform="translate(57.2 485.9) scale(0.93 1)" font-size="12.3" text-anchor="end" fill="#161616">0</text>
<text transform="translate(57.2 452.7) scale(0.93 1)" font-size="12.3" text-anchor="end" fill="#161616">50</text>
<text transform="translate(57.2 419.5) scale(0.93 1)" font-size="12.3" text-anchor="end" fill="#161616">100</text>
<text transform="translate(57.2 386.3) scale(0.93 1)" font-size="12.3" text-anchor="end" fill="#161616">150</text>
<text transform="translate(57.2 353.1) scale(0.93 1)" font-size="12.3" text-anchor="end" fill="#161616">200</text>
<text transform="translate(57.2 319.9) scale(0.93 1)" font-size="12.3" text-anchor="end" fill="#161616">250</text>
<text transform="translate(87.7 501.6) scale(0.93 1)" font-size="12.3" text-anchor="middle" fill="#161616">0</text>
<text transform="translate(145.8 501.6) scale(0.93 1)" font-size="12.3" text-anchor="middle" fill="#161616">10<tspan dx="0.5" dy="-4.6" font-size="9">3</tspan></text>
<text transform="translate(185.4 501.6) scale(0.93 1)" font-size="12.3" text-anchor="middle" fill="#161616">10<tspan dx="0.5" dy="-4.6" font-size="9">4</tspan></text>
<text transform="translate(224.4 501.6) scale(0.93 1)" font-size="12.3" text-anchor="middle" fill="#161616">10<tspan dx="0.5" dy="-4.6" font-size="9">5</tspan></text>
<rect x="143.7" y="311.5" width="93.7" height="16.2" rx="2" ry="2" fill="#fff" stroke="#a9a9a9" stroke-width="0.95"/>
<text x="163.1" y="323.06" font-size="9.6" textLength="64.5" lengthAdjust="spacingAndGlyphs" fill="#161616" style="stroke-width:0.06px">CD45+: 91.27%</text>
<text x="22" y="394.2" font-size="15.4" text-anchor="middle" textLength="36.8" lengthAdjust="spacingAndGlyphs" transform="rotate(-90 22 394.2)" fill="#161616" style="stroke-width:0.22px">FSC-H</text>
<text x="30.2" y="331" font-size="11.2" text-anchor="middle" textLength="32.5" lengthAdjust="spacingAndGlyphs" transform="rotate(-90 30.2 331)" fill="#161616">(x 10<tspan dy="-4.4" font-size="8">3</tspan><tspan dy="4.4">)</tspan></text>
<text x="113.8" y="522.4" font-size="15.4" textLength="79.4" lengthAdjust="spacingAndGlyphs" fill="#161616" style="stroke-width:0.22px">CD45-AF700</text>
<text x="313.8" y="299.9" font-size="12.2" textLength="179" lengthAdjust="spacingAndGlyphs" fill="#161616">[CD45+] CD5-BV421 / CD19-BV711</text>
<g clip-path="url(#c317_307)"><ellipse cx="417" cy="366" rx="28" ry="15" transform="rotate(-35 417 366)" fill="#9a9396" fill-opacity="0.12" filter="url(#b50)"/></g>
<path d="M448 357h1m-25-19h1m-3 25h1m-16 12h1m-4-8h1m-6 6h1m5 17h1m3-10h1m0 0h1m-7-5h1m-2 8h1m21-26h1m-39 10h1m34-12h1m3 23h1m-12-25h1m0 10h1m-48 29h1m30-3h1m27-31h1m12-24h1m-25 15h1m-22 22h1m13-8h1m1 17h1m1-32h1m-7 20h1m21-15h1m-22 16h1m20-9h1m6 7h1m-23 5h1m-4-18h1m9 13h1m-10-8h1m19-26h1m-16 52h1m-21-20h1m24-9h1m-8 19h1m-3-13h1m-29 24h1m36-17h1m-34 4h1m34-24h1m5 11h1m-1 3h1m-8 7h1m-30 12h1m15-13h1m-10-5h1m16-11h1m18-12h1m-29 45h1m-6-8h1m14-8h1m-1-14h1m20 1h1m-20 13h1m-8-12h1m1 5h1m-1 10h1m2-6h1m5-6h1m0-10h1m3 11h1m-36-6h1m15 15h1m4 10h1m-15-16h1m24 9h1m-23-16h1m19-11h1m-25 19h1m23 7h1m-8-9h1m13 9h1m-6-22h1m-19 15h1m-1-12h1m8 9h1m-12 23h1m3-27h1m8-7h1m-5 13h1m20-5h1m2-8h1m-33 16h1m-3 0h1m-17 12h1m15 2h1m21-21h1m-7-3h1m-9 3h1m-15 12h1m15 7h1m-3-6h1m-3-4h1m-15 23h1m11-47h1m15 36h1m4-35h1m-12 9h1m28 5h1m-58 12h1m46-17h1m-12 17h1m-19-6h1m23-17h1m-20 18h1m-6-6h1m-5-2h1m10 1h1m13-9h1m-32 20h1m0 13h1m24-17h1m-14-8h1m17 3h1m-8 14h1m-21-11h1m4 14h1m-6-3h1m7-15h1m17-2h1m-23 1h1m-17 3h1m15 6h1m2-12h1m-17-2h1m29 19h1m-3-3h1m-19 11h1m18-40h1m-31 27h1m22 4h1m12-12h1m2-11h1m-19 15h1m-5 22h1m-14-27h1m16 19h1m7-17h1m13-3h1m-23 24h1m-20-11h1m15 0h1m8-15h1m-15-3h1m2 6h1m4 0h1m-11 15h1m25-22h1m-22 12h1m6-8h1m-4-15h1m-5 17h1m-1 19h1m20-28h1m-30 29h1m-4-6h1m34 1h1m-41-5h1m37-20h1m2 8h1m-41 16h1m0-1h1m22-24h1m-25 21h1m8 4h1m8-10h1m-35 3h1m54 11h1m-15-24h1m-16 18h1m13-14h1m13-2h1m-31 13h1m9 5h1m-7-18h1m4 9h1m-3 4h1m1 23h1m10-22h1m-47-1h1m58 20h1m-6-26h1m-6 18h1m-27 32h1m3-13h1m-10-12h1m-24 6h1m23-24h1m3 5h1m40-39h1m-9 44h1m-6-26h1m-25 33h1m-21-1h1m10-27h1m19-40h1m-23 38h1m27 16h1m-9-8h1m-3-14h1m35-18h1m-45 53h1m20-10h1m-20-35h1m25-4h1m-3 30h1m-36 8h1m10 10h1m-9 1h1m30-61h1m25 32h1m-21 27h1m-22-48h1m9 37h1m22 14h1m-32-23h1m-4 23h1m24-23h1m-66 24h1m58-27h1m-14-21h1m-38 48h1m41-54h1m5 36h1m-22 2h1m43-13h1m-16-3h1m-9-3h1m19-5h1m-55 14h1m40 37h1m-17-3h1m-26-34h1m67-34h1m-18 0h1m-68 30h1m38 18h1m-47 26h1m61-68h1m-48 43h1m41-21h1m-14 15h1m-2-18h1m-19 10h1m6-10h1m-32 54h1m39-37h1m11 15h1m-1-11h1m-29 24h1m26-40h1m8 17h1m8 28h1m-36-15h1m1 25h1m-26-17h1m37-43h1m3 9h1m2-2h1m-34 3h1m43-4h1m24-11h1m-25 32h1m7-23h1m-54 27h1m30-29h1m-29 10h1m-28 8h1m40-5h1m42-47h1m-10 45h1m-40-12h1m-24 49h1m22-15h1m1-52h1m13-7h1m-8 53h1m0-28h1m8 33h1m-14-19h1m-11-34h1m24 43h1m-54 1h1m24-1h1m52-28h1m-37 10h1m-16 13h1m29-23h1m3 32h1m-10-19h1m-7 24h1m22-19h1m-2-19h1m-50 20h1m-21 7h1m-13 5h1m-2-6h1m1 0h1m-15 8h1m6-9h1m3 2h1m6-5h1m-5 0h1m-8 8h1m3-6h1m2 6h1m6 1h1m-4-9h1m-14 7h1m14-18h1m-7 17h1m-6-2h1m5-2h1m0-6h1m-1 12h1m1-1h1m5 4h1m-15 2h1m7-4h1m9-6h1m-10 4h1m1-3h1m-8-3h1m-1 5h1m-1-2h1m-6 2h1m3-2h1m11-3h1m-13-1h1m2 1h1m-3-7h1m12 70h1m-7-8h1m2 8h1m-18 6h1m4-11h1m19 13h1m-11-1h1m-8-13h1m9 0h1m-10 4h1m4 2h1m3 0h1m-4 1h1m4-1h1m-8-7h1m-3 1h1m11 10h1m-44 6h1m45-18h1m-4 7h1m-22-15h1m22 9h1m-21 14h1m3-12h1m5-7h1m-13-6h1m9 5h1m36 0h1m-32 13h1m12 1h1m-9-10h1m-29 2h1m7 19h1m26-19h1m-36 8h1m26 3h1m-14-5h1m24 0h1m-19-4h1m11 5h1m12-7h1m-28 13h1m-15 2h1m62-17h1m23 0h1m-21 0h1m28-7h1m-23 12h1m-2-13h1m-6 21h1m12-12h1m11 10h1m-8-7h1m5-11h1m-24 22h1m5-12h1m1-5h1m15 2h1m-15 10h1m-3-3h1m3-4h1m4 2h1m-11 2h1m26 2h1m-18-21h1m-3 13h1m-5 7h1m13-3h1m-4 2h1m-15 13h1m6-18h1m-14 3h1m24 15h1m-7-15h1m7 0h1m-33 10h1m25-10h1m-2-9h1m-12 15h1m9-10h1m-5-7h1m0 7h1m-6-2h1m0 10h1m11 0h1m-6-4h1m4 9h1m8-76h1m2 20h1m-37 1h1m40-9h1m-10-20h1m-63 28h1m9-20h1m-3 23h1m1-14h1m20 10h1m-35 10h1m-27-12h1m54-24h1m-16 13h1m50 20h1m-70-11h1m-4 1h1m64-3h1m-72 5h1m56-15h1m-36 21h1m9-6h1m-51-12h1m47 6h1m-35 11h1m54-15h1m-50 9h1m40-22h1m-11 29h1m-36-13h1m34 2h1m-3-10h1m-22 7h1m18-4h1m54-2h1m-33 1h1m20 58h1m13 12h1m-22 3h1m12-19h1m-63 25h1m60-33h1m1 29h1m-35-4h1m-3-5h1m-4-2h1m-58-4h1m67-3h1m-84 9h1m65-10h1m39 3h1m-73 4h1m53 17h1m7-18h1m-57 13h1m-6-8h1m46-5h1m-80 6h1m80 3h1m20-9h1m-101 14h1m7-20h1m73 5h1m18-5h1m-12 2h1m-17 10h1m-37-8h1m47 5h1m-2 14h1m8-21h1m-12 18h1m0-9h1m-91 3h1m8-10h1m63 13h1m7-5h1m-68 14h1m14-27h1m-12-2h1m46 18h1m-41-57h1m-7 50h1m-14-42h1m25 36h1m-28-18h1m18-9h1m-19 28h1m12-36h1m-5 46h1m0 4h1m-6-44h1m0 11h1m3-31h1m0-5h1m3 20h1m-11-11h1m10 60h1m8-1h1m-16-43h1m-9 19h1m12 15h1m10-31h1m-18 23h1m11-62h1m-5 70h1m-10 8h1m78-14h1m-6-27h1m-10 9h1m16-33h1m-10 45h1m0-31h1m-7 16h1m12 35h1m4 1h1m-5-46h1m-7 14h1m11 27h1m-25-3h1m28-6h1m-13-17h1m-4-1h1m2-40h1m-4 29h1m1 0h1m-8-13h1m20 25h1m-18-36h1m-1 68h1m-10-34h1m16-15h1m-7-6h1m-12 6h1m-56 39h1m33-33h1m54-37h1m-104-5h1m41 36h1m34-13h1m-25 0h1m6-5h1m-55 10h1m92-5h1m-17-21h1m20 49h1m-48-1h1m-19-22h1m41 23h1m-31 25h1m-61-15h1m27-29h1m74-28h1m-29 73h1m36-74h1m-61 61h1m-19-63h1m46 7h1m-66 62h1m21 2h1m-6-19h1m18-1h1m-22 2h1m-33-8h1m98 32h1m6-38h1m-78-39h1m-1 17h1m24 32h1m-40 10h1m39-12h1m43-16h1m12 49h1m4-76h1m-59 22h1m18 27h1m11-40h1m-58 16h1m61 30h1m-48 15h1m1-45h1m0 33h1m58-20h1m-1 37h1m-73-3h1m-4-24h1m63-50h1m-78 62h1m-18-31h1m47 6h1m4-28h1m-21 9h1m72-3h1m-64-13h1m54 48h1m-78 15h1m59-23h1m-44-72h1m-57 3h1m117 136h1m-33-112h1m-22 60h1m0 30h1m37-39h1m-113 63h1" stroke="#9d9698" stroke-opacity="0.36" stroke-width="1" transform="translate(0 0.5)"/>
<path d="M439 367h1m-24 0h1m-9-12h1m-4 28h1m30-10h1m-37 17h1m11-36h1m8 2h1m3 6h1m-21 20h1m10-9h1m-19 22h1m2-21h1m16-3h1m4-7h1m-10 18h1m7-15h1m-7 12h1m9-29h1m28-14h1m-41 17h1m2 11h1m2 7h1m-7 2h1m-18-16h1m15 1h1m20-5h1m-37 27h1m22-8h1m9-38h1m3 26h1m-38 4h1m39-18h1m-42 12h1m0 14h1m0-21h1m10 9h1m-7 13h1m-23 5h1m6 4h1m48-32h1m-39 31h1m3-11h1m-9-1h1m8-20h1m-9 28h1m16-6h1m-9-10h1m-1 26h1m30-7h1m-9-6h1m-8-25h1m-22 26h1m3-6h1m-3-10h1m24 15h1m-10-10h1m19-2h1m-7 2h1m-32 9h1m19 7h1m-14-11h1m4 3h1m7-5h1m-28 5h1m43-29h1m-28 25h1m20-33h1m-49 33h1m41-10h1m5-12h1m-9 18h1m-22-7h1m18-10h1m-25 30h1m31-13h1m-9 5h1m-18 13h1m50-30h1m-52 13h1m5-8h1m0 19h1m-3-11h1m2 14h1m-3-18h1m-21 10h1m17-7h1m16 7h1m-22-7h1m9-9h1m34 10h1m-59 29h1m19-33h1m5-17h1m-4 50h1m15-48h1m-15 33h1m-2-28h1m16 0h1m-5 15h1m-19 11h1m-7-11h1m5 7h1m-11-5h1m-1-7h1m35-15h1m-13 5h1m4 12h1m2 3h1m-39 8h1m17-16h1m3-5h1m24 10h1m-4 12h1m-35-4h1m50-17h1m-47 18h1m13-7h1m1 21h1m-18-30h1m6 13h1m8 5h1m6-37h1m-4 24h1m2 12h1m0-11h1m-12-12h1m-15 25h1m-16 0h1m41-18h1m-22 4h1m-3 6h1m1-8h1m29-5h1m-59 34h1m21-9h1m4-15h1m-8-9h1m16 21h1m11-13h1m-38-2h1m28-1h1m-15 6h1m7 5h1m-7-5h1m-18-2h1m16 1h1m-6-1h1m4 2h1m-2 26h1m19-51h1m-14 41h1m0-20h1m-27 10h1m36-21h1m-7 17h1m7 5h1m-31-13h1m3 25h1m-17-17h1m41-8h1m-42 5h1m0 16h1m25-10h1m-34 1h1m-10 4h1m51-22h1m-19 19h1m-11-7h1m9-19h1m-6 7h1m-4 16h1m37-7h1m-46 9h1m9-4h1m34-20h1m-27 32h1m3-16h1m-13 17h1m-7-6h1m17-33h1m16 23h1m-22-4h1m8-12h1m13-9h1m-17 27h1m22-35h1m-60 48h1m29 0h1m18-42h1m-34 45h1m-27 4h1m25-1h1m15-38h1m-30 20h1m4 3h1m-35 14h1m41 14h1m-1-17h1m2 3h1m7-20h1m7 18h1m13-27h1m-57 28h1m44 13h1m21-25h1m-52-20h1m27 12h1m-11 31h1m-29 22h1m42-50h1m8-8h1m-16 19h1m11-49h1m27 40h1m-60 5h1m-5 12h1m32-24h1m-11-16h1m-21 20h1m0 14h1m25-37h1m-7 21h1m46 5h1m-78 26h1m29 0h1m9-48h1m-24 14h1m-24 17h1m45-12h1m-14 13h1m-30 21h1m33-25h1m-22-17h1m13-1h1m-3 16h1m-13 5h1m4 23h1m16-30h1m-10-2h1m-58 35h1m78-22h1m5 10h1m-5-47h1m-18 18h1m-10 2h1m-15 11h1m39-35h1m-4 29h1m-10-5h1m-9-4h1m17-1h1m-7 8h1m-27 6h1m29-33h1m-56 44h1m68-25h1m-3-10h1m-19 12h1m-17-2h1m-13 8h1m11-16h1m-4 75h1m6-79h1m-16 15h1m-9 16h1m6-7h1m-34-2h1m34-10h1m7-16h1m30 14h1m13-37h1m-85 90h1m32-46h1m-23 37h1m56-25h1m-32-4h1m9-36h1m-12 20h1m43-30h1m-18 46h1m-3-19h1m-29-2h1m39-20h1m-35 50h1m15-18h1m8-7h1m-23 20h1m29 2h1m-20 10h1m-37-31h1m-7 26h1m-4-6h1m-13 2h1m68-5h1m-32-46h1m-18 20h1m4 34h1m18-8h1m-62 2h1m17 6h1m-5-10h1m0-7h1m-5-2h1m-12 11h1m3 1h1m1-3h1m-14-8h1m16 13h1m-8-6h1m10-1h1m-12 4h1m14-3h1m-8-3h1m-5 0h1m2-1h1m-9 16h1m12-10h1m-3-2h1m-20-11h1m21 14h1m-28-6h1m32-4h1m-5-2h1m-10 16h1m-14-9h1m5 11h1m20-7h1m-14-4h1m1 13h1m-9-5h1m12-1h1m-14-12h1m2 9h1m-1-4h1m-5 7h1m18 55h1m-14 4h1m13-13h1m-9 1h1m2 5h1m-4 6h1m-2-7h1m6 8h1m-4-18h1m-20 10h1m10 11h1m-2 2h1m-1-14h1m3 4h1m-4-2h1m2 6h1m4-4h1m2 6h1m-14-6h1m24 3h1m-8-2h1m-36-1h1m34-8h1m-2 4h1m-15 1h1m11 3h1m2-5h1m-13 12h1m-17 4h1m12-1h1m-11-3h1m22-11h1m-17 12h1m3-13h1m-2 6h1m-9 5h1m17-9h1m5 7h1m7-16h1m-36 14h1m12 4h1m-3-15h1m9 13h1m66-12h1m-2 5h1m3-8h1m-17 4h1m18 4h1m-4 4h1m5-6h1m-19-1h1m6 4h1m16-6h1m-22 11h1m-2 4h1m1-9h1m-2 2h1m21-12h1m-18 22h1m0-10h1m-20-3h1m11-4h1m-14 6h1m22-18h1m-21 4h1m-4 25h1m11-25h1m1 5h1m-1 15h1m12-4h1m-7-4h1m-1-3h1m5 7h1m-22 6h1m12 5h1m-9-23h1m20 1h1m-33 9h1m29-6h1m-24 9h1m16-6h1m-5-13h1m-16 14h1m5 18h1m14-26h1m-16 14h1m19-60h1m-64-14h1m-9 13h1m65 0h1m19-1h1m-69-5h1m-50 13h1m96-12h1m-48-1h1m-39-3h1m30 19h1m34-9h1m28-7h1m-82 2h1m65-3h1m-26 28h1m31-21h1m-62 8h1m-16-12h1m-8 13h1m37-3h1m-37 8h1m26-12h1m-40 5h1m-8 6h1m46-32h1m32 26h1m-36 6h1m70-1h1m-104-9h1m76 6h1m26 0h1m-5-8h1m-1 23h1m-26-24h1m-81 4h1m59-12h1m-26 62h1m34-3h1m10 11h1m-22 16h1m-56-10h1m24-15h1m28 7h1m-55-6h1m102 23h1m-91-15h1m76-3h1m12 13h1m-79-6h1m40-16h1m23 16h1m-71-5h1m-24-15h1m-13 4h1m71 15h1m12-9h1m-19 14h1m10-3h1m8-7h1m-81 3h1m59-13h1m-7 15h1m-22 2h1m58-18h1m-40-3h1m-32 8h1m-26-8h1m42 25h1m59-8h1m-7 3h1m-94-4h1m17-1h1m78 10h1m-9-25h1m-47 7h1m-3 4h1m-29-8h1m9 18h1m31-9h1m-29-10h1m-26-48h1m7 26h1m-3 21h1m-2-8h1m8-13h1m-5-12h1m2 38h1m-5-32h1m12 20h1m-18 16h1m4-5h1m-10-53h1m6 17h1m-12 24h1m6-38h1m2 8h1m-13 3h1m12 47h1m-12-14h1m7-18h1m0-29h1m7 18h1m5-12h1m-18 47h1m4-48h1m1 47h1m81-38h1m-19-13h1m5 16h1m-5 31h1m8-15h1m2-36h1m-5 30h1m-13 15h1m3-38h1m-2-8h1m17 67h1m-10-3h1m-7-12h1m5-2h1m-2-53h1m-10 76h1m13-40h1m-9 24h1m-19-60h1m14 57h1m-1-29h1m7-22h1m-10 26h1m12 0h1m1 44h1m-10-4h1m-3-50h1m-19 7h1m-18 25h1m-27 14h1m-9-58h1m16-16h1m23 1h1m-35 62h1m30 11h1m-1-48h1m-6 6h1m-7 19h1m29-6h1m-38 5h1m-42-2h1m61-3h1m8-36h1m-31 23h1m12 22h1m-2 30h1m-21-57h1m32-25h1m40 60h1m-72-46h1m27 10h1m50 23h1m-100-44h1m59 73h1m0-36h1m8 34h1m3-24h1m-59 26h1m30-54h1m-55 53h1m54-41h1m-34-33h1m31 58h1m25-7h1m-68 12h1m-18 17h1m50-64h1m-19 7h1m46-8h1m-65 23h1m76-7h1m-64-19h1m15 30h1m3-12h1m-19 49h1m28-42h1m-29-27h1m70 25h1m-31-31h1m-20 13h1m-58 32h1m35-2h1m22-20h1m48 7h1m-61 3h1m-21 44h1m-19 1h1m32-35h1m-17-30h1m32 16h1m-45 56h1m45-48h1m-81-45h1m112-21h1m-17 122h1m-82-103h1m-12-1h1" stroke="#9d9698" stroke-opacity="0.36" stroke-width="1" transform="translate(0 0.5)"/>
<path d="M416 369h1m0-8h1m-4 12h1m28-25h1m-34 20h1m34 2h1m-19-4h1m-14-20h1m-8 25h1m-15-14h1m16 12h1m23 8h1m0-25h1m-25 32h1m1 1h1m15-34h1m-5 9h1m25-21h1m-29 35h1m-10-17h1m-3 10h1m8 11h1m10-21h1m-17 22h1m4-5h1m-26-13h1m41-7h1m-3-11h1m-14 22h1m-23 8h1m13-8h1m-14-5h1m8 24h1m13-14h1m-9-2h1m-10-4h1m14-6h1m-20 12h1m9 9h1m25-27h1m-2 19h1m-13-7h1m-14 1h1m-2-14h1m8 25h1m-19 1h1m7 9h1m3-27h1m-14 12h1m43-20h1m-20 19h1m-12-6h1m8 4h1m3-13h1m-28 10h1m22-5h1m-24 15h1m7-11h1m-7-2h1m1-3h1m23-1h1m-28 1h1m8 12h1m7-17h1m-2 35h1m-19-22h1m27 4h1m-17-13h1m3 12h1m-32 9h1m21-19h1m5 20h1m0-7h1m-32 14h1m32-11h1m-23-5h1m24-3h1m-14-3h1m4-1h1m10-18h1m-8 15h1m-20 28h1m42-40h1m-25 25h1m-9-17h1m-7 5h1m18 0h1m-6 8h1m12-21h1m-19 22h1m10-17h1m-9 5h1m-12 8h1m25 3h1m-36-12h1m8 26h1m-1-16h1m24 6h1m-24-9h1m-13 15h1m0-10h1m34-4h1m-12-4h1m-24 26h1m12-21h1m15-11h1m-10 12h1m-1 0h1m12 0h1m-36-5h1m28 22h1m22-29h1m-41 14h1m23-13h1m-6 1h1m-1 3h1m-10 5h1m4 17h1m-16-22h1m-16 9h1m19 2h1m1-28h1m12 29h1m26-19h1m-62 36h1m22-29h1m3 3h1m-6 9h1m27-24h1m-46 20h1m13 5h1m3-1h1m-7-2h1m-12 24h1m15-23h1m17-33h1m-1 14h1m-23 13h1m-17-2h1m24 12h1m-7 8h1m34-35h1m-18 0h1m-4 25h1m-14 7h1m25-27h1m-7 4h1m-29 8h1m4 2h1m15-5h1m-17 9h1m-11 4h1m-6 22h1m18-30h1m9-6h1m18 10h1m-23-28h1m-30 23h1m13 12h1m31-30h1m-21 9h1m1 17h1m0 10h1m-27 8h1m11-31h1m25-16h1m-21 23h1m2-9h1m15-1h1m-53 14h1m31-12h1m18-6h1m-2 9h1m-16-13h1m4 6h1m-16 3h1m-10 11h1m1 6h1m27-17h1m-41 33h1m44-17h1m-21-13h1m-34 7h1m34-5h1m15 27h1m-41 11h1m88-75h1m-43 17h1m-17 36h1m-24-22h1m29 35h1m-7-9h1m-2-12h1m-10 5h1m37-31h1m-71 18h1m65-33h1m-67 54h1m38-29h1m-8 42h1m28-40h1m-32 19h1m-51 5h1m56 1h1m-20-2h1m21-16h1m-22 15h1m-15 20h1m46-41h1m7-17h1m-90 55h1m69-23h1m51-36h1m-48 18h1m-15 11h1m-11 11h1m-2-27h1m34 23h1m-34 0h1m-6-10h1m20 4h1m-34 11h1m30 21h1m-46-44h1m30 15h1m-6-2h1m37-14h1m-6 24h1m8-15h1m-44 14h1m21-60h1m24 18h1m-8 27h1m-44 19h1m-6-23h1m57 0h1m-24 15h1m-5-5h1m0-21h1m-31 59h1m50-35h1m-36 8h1m41-20h1m-23 13h1m9-32h1m-12 24h1m-33 11h1m19-18h1m10-4h1m23-30h1m-42 47h1m47-34h1m-38 33h1m-16-1h1m19-40h1m31 14h1m-71 30h1m62 1h1m-11-19h1m-43-12h1m26 13h1m11-7h1m6-12h1m26-9h1m-55 41h1m14 25h1m-66-16h1m88-25h1m-81 29h1m56-22h1m-12 4h1m-22-5h1m17 6h1m6-32h1m-15 42h1m4-2h1m-13 0h1m38-7h1m-2 18h1m-8-44h1m44 16h1m-97 23h1m45-20h1m-11-6h1m-36-6h1m78-15h1m-29 23h1m-28-9h1m12 34h1m12-25h1m37-21h1m-60 3h1m27-20h1m-32 56h1m-20-1h1m8 29h1m14-30h1m37 1h1m-33-2h1m-64 7h1m-5-5h1m7 9h1m12-14h1m-9 18h1m-11-13h1m10 0h1m9 7h1m-10-13h1m-16 8h1m2-1h1m8 3h1m0-10h1m11 8h1m-14-3h1m-3 2h1m5-7h1m-21 10h1m26-4h1m-28 14h1m19-8h1m-10-9h1m-3 13h1m-3-7h1m5 7h1m-16-10h1m18 5h1m7-9h1m-2-3h1m-11 10h1m-3-6h1m6 5h1m-5-5h1m-4 6h1m12-11h1m-13 16h1m14 2h1m10 39h1m-21 15h1m6-7h1m-5-5h1m14 4h1m-1 4h1m-34-4h1m-4-1h1m24-2h1m2 16h1m-17 2h1m6-24h1m-5 13h1m11 3h1m-18-4h1m0 4h1m1 1h1m8-3h1m-26-9h1m26 2h1m-6 1h1m-3 1h1m12-2h1m-9 3h1m0 1h1m-11 2h1m-3-10h1m13 19h1m-4-26h1m-8 16h1m17-10h1m-13 8h1m-14 6h1m18-3h1m-7-9h1m-1 1h1m-6 7h1m15-13h1m-28 8h1m0 8h1m25-8h1m-24 18h1m20-8h1m52-10h1m15-2h1m-12 1h1m-2 3h1m9-17h1m4 15h1m-29 0h1m24 6h1m-16-9h1m26 14h1m-24-9h1m-25-16h1m11 21h1m20-8h1m-16 2h1m0-9h1m7 8h1m-10 10h1m0-17h1m5 8h1m11 4h1m-21-2h1m25-9h1m-27 13h1m9-9h1m18-8h1m-22 20h1m-17 0h1m23-8h1m1 2h1m-10-3h1m-8-9h1m11 22h1m-10-7h1m3 3h1m6 7h1m3-12h1m-24 9h1m10 1h1m14-15h1m-29 2h1m2-12h1m22 16h1m-4 6h1m-57-49h1m69-28h1m-39 16h1m-53 1h1m92-3h1m-91-2h1m79 14h1m8-9h1m-80 0h1m76 6h1m-48-8h1m-43 4h1m56-3h1m-6 3h1m-64-5h1m-12 5h1m75-10h1m-37 14h1m-15-7h1m10-5h1m37 0h1m-3 7h1m-29 8h1m48-17h1m20 3h1m-72-5h1m-9 16h1m-16 3h1m23-10h1m20-10h1m2 16h1m-68-13h1m41 7h1m55-10h1m14 27h1m-19-25h1m3 70h1m-5-15h1m-73 12h1m-12-10h1m64 2h1m-64 4h1m16 5h1m-22-1h1m86-3h1m-50 11h1m-7-12h1m17-1h1m-64 6h1m82-10h1m-43 16h1m-4-14h1m-29 0h1m5-4h1m17-1h1m72 9h1m-30-8h1m-73 11h1m-2 4h1m32-9h1m39-15h1m11 14h1m-40 6h1m43-8h1m-88 3h1m26 4h1m-20-1h1m67-9h1m18-1h1m-11 6h1m-21 0h1m-38-6h1m-20 7h1m46 6h1m35 9h1m-46-17h1m-51 4h1m42-1h1m30-4h1m19 10h1m-88-19h1m-7 20h1m11-34h1m-19-19h1m20 39h1m5-37h1m-17-11h1m7 5h1m-9-10h1m14 56h1m-22-21h1m0-19h1m13-26h1m-1-1h1m-10 74h1m-12-2h1m13-35h1m5-4h1m-10-11h1m21 35h1m-26-3h1m6 23h1m13-70h1m-13 72h1m2-24h1m-11 3h1m82-56h1m-11-6h1m4 29h1m10-10h1m-8 35h1m5 8h1m-12-32h1m0 47h1m-14-74h1m10 78h1m1 1h1m-6 2h1m12-74h1m-4 66h1m-7-25h1m2 21h1m-6-20h1m13-49h1m0 79h1m-10-11h1m3-64h1m-3 21h1m6-1h1m-6 0h1m-8 17h1m-4-13h1m-3 5h1m25-4h1m-20-14h1m-6-19h1m9 37h1m-98-22h1m115 4h1m-26 22h1m-35 32h1m-25-55h1m9 62h1m48-58h1m-17-14h1m13 51h1m-62 13h1m10-23h1m73 9h1m-41 4h1m-56-42h1m73 48h1m-11-20h1m-84-18h1m107-18h1m-28 4h1m21 59h1m5-27h1m-16 34h1m-43-83h1m5 69h1m-55-40h1m58 29h1m32-30h1m22 44h1m-17 6h1m1-10h1m-60-53h1m38 65h1m9-32h1m-94 7h1m108-44h1m-73 62h1m50-24h1m-68-31h1m-3-6h1m57 75h1m8-27h1m3 12h1m-28-13h1m-29-12h1m38-13h1m16-23h1m-45 5h1m-4 51h1m-47-2h1m8-41h1m62 55h1m-22-65h1m0 50h1m-35-18h1m70 6h1m28 35h1m-101-23h1m93 1h1m-17-52h1m-7 100h1m38-137h1m-11 37h1m-146 96h1m79-92h1m-48-15h1m37-33h1m-60 9h1" stroke="#b59aa8" stroke-opacity="0.36" stroke-width="1" transform="translate(0 0.5)"/>
<path d="M439 334h1m-10 40h1m-19 0h1m-31 8h1m17-5h1m21-6h1m-14-9h1m-5 17h1m3-19h1m21 15h1m-14-6h1m-10 7h1m-11 5h1m23-14h1m-25 6h1m12 6h1m13-17h1m-6 10h1m-3 2h1m-6 5h1m15-26h1m-34 25h1m31-16h1m18 3h1m-32-12h1m23 0h1m-15 9h1m10-21h1m-26 18h1m9 22h1m-2-5h1m5-17h1m19-22h1m-42 15h1m-16 6h1m7 21h1m36-13h1m-29 23h1m10-9h1m-21-1h1m16-4h1m-10-12h1m29-12h1m-29 30h1m3-19h1m-9 11h1m40-14h1m-13-10h1m-23 25h1m9-8h1m-4-1h1m-1 4h1m23-13h1m-33 15h1m6-16h1m1 17h1m-26 1h1m27 4h1m-24 1h1m17-9h1m12-6h1m-26 14h1m21-20h1m-14 1h1m-4-4h1m-24 17h1m41-11h1m5 1h1m-24 23h1m18-27h1m-22 5h1m3 29h1m-8-27h1m3 13h1m8-10h1m-19 8h1m9-23h1m-1 15h1m14-9h1m-33 16h1m27 10h1m-6-40h1m-18 41h1m32-39h1m5 9h1m-15 7h1m-12 4h1m10-29h1m-6 23h1m0 9h1m-36-3h1m37-1h1m-34 13h1m10-23h1m8 8h1m22-11h1m-23 20h1m-24 23h1m0-16h1m-6-1h1m34-20h1m-24 16h1m17-18h1m-7-5h1m6 1h1m28 0h1m-23 32h1m-1-18h1m-1-8h1m-4 10h1m-12 1h1m7 1h1m21-4h1m-28 14h1m-7 3h1m4-20h1m-2-3h1m-10 2h1m25 5h1m-11-15h1m-44 43h1m26-48h1m7 27h1m8 2h1m-12-21h1m2 19h1m-17 5h1m18-19h1m-4 15h1m11-26h1m-26 21h1m33-12h1m-30 37h1m-7-6h1m11-14h1m-21 9h1m34-2h1m8-34h1m-27 7h1m9 14h1m1-10h1m-25 27h1m20-13h1m10-11h1m-29 18h1m6-12h1m29 2h1m-26 6h1m-16-1h1m37-21h1m5 16h1m-51-1h1m15 1h1m39-35h1m-19 5h1m-19 11h1m17 8h1m-10-1h1m-12 21h1m0-40h1m-4 31h1m22-13h1m0 2h1m-44 30h1m48-39h1m-23 6h1m8 4h1m-23 18h1m2-2h1m11-17h1m-4 8h1m-6 15h1m-25-1h1m14-18h1m-4 25h1m12-11h1m10-17h1m9 6h1m16-4h1m-27-6h1m-7 19h1m-8-17h1m14 9h1m-9 0h1m12-8h1m-56 38h1m86-58h1m-51 11h1m17 29h1m22-39h1m-50 19h1m-11 58h1m11-69h1m14 24h1m12-42h1m-11 7h1m18 34h1m-26 6h1m41-9h1m-65 35h1m14-21h1m-30-33h1m36 22h1m-35-38h1m13 32h1m12 38h1m28-60h1m-56 7h1m10 29h1m2-5h1m37 1h1m-29-11h1m38-9h1m-40 38h1m-31-2h1m24-29h1m-36 16h1m2-23h1m57 4h1m-33 41h1m38-53h1m-17 25h1m29 13h1m-41-16h1m-15-27h1m20-1h1m-36 45h1m27-16h1m21-30h1m-19 14h1m12-35h1m-29 54h1m33 20h1m-13-37h1m-28 25h1m40-32h1m-3 33h1m-11-23h1m-42 16h1m44-16h1m-23-21h1m5 1h1m26 12h1m-34 9h1m13-6h1m-11 9h1m-1-10h1m8 42h1m17-48h1m-23 20h1m-14-13h1m49-23h1m-45 42h1m-7-1h1m22 19h1m-8-25h1m-28 4h1m30-19h1m11 17h1m-41 4h1m34-14h1m-17 19h1m-6-21h1m6-7h1m-16 12h1m35-15h1m14-16h1m-30 26h1m22-15h1m-26 29h1m6-59h1m-43 70h1m35-17h1m14-22h1m-19 8h1m26-16h1m-58 19h1m-64 62h1m110-36h1m-6-35h1m-23 16h1m57 15h1m-67 11h1m46-41h1m-28 19h1m-11-32h1m14 41h1m13 25h1m-3-27h1m-29-8h1m3 7h1m18-7h1m-48 36h1m10-14h1m30-28h1m-5 8h1m-11 1h1m20-16h1m-16 34h1m-53 0h1m-10-8h1m5-3h1m3 9h1m1-4h1m-3-2h1m-6-6h1m-1 3h1m-3 7h1m-3-14h1m1 3h1m8 10h1m-20-1h1m5 2h1m-1-2h1m5 12h1m4-20h1m-4 0h1m-1-1h1m-15-1h1m21 10h1m1-4h1m-8-4h1m-2 18h1m-2-12h1m15-1h1m-10-7h1m-10-3h1m5 6h1m-6 7h1m-7 1h1m18 2h1m-22-7h1m-5-1h1m8-2h1m8 19h1m-12 40h1m-2 6h1m0 4h1m0-10h1m2 16h1m2-12h1m-1-6h1m7 7h1m22-6h1m-22 5h1m17-2h1m-22 6h1m3-3h1m-17-3h1m-8 2h1m15 6h1m-19-4h1m17-14h1m-18 21h1m16-15h1m-6 15h1m1-17h1m-12 1h1m15 10h1m6-8h1m-3 9h1m2-8h1m-6 5h1m-18-4h1m5 6h1m2-10h1m7-4h1m-11 9h1m-8 3h1m9 4h1m2-9h1m22-10h1m-47 12h1m30-4h1m-9 4h1m6-6h1m-14 11h1m-5-8h1m21-5h1m50 18h1m2-21h1m-4 16h1m0-15h1m-5 7h1m10 11h1m-23-10h1m2-1h1m0-1h1m37-2h1m-8-12h1m-19 7h1m3 11h1m-2 3h1m-8-7h1m17 4h1m-19-9h1m11 8h1m-9-3h1m0-8h1m-19 9h1m23-5h1m-10-8h1m-5 22h1m9-14h1m6 1h1m-4 7h1m-14-10h1m13 0h1m-7 2h1m12 9h1m-2-20h1m-8 18h1m-7-10h1m-19 7h1m19 3h1m2-6h1m-14 5h1m-2-4h1m23-5h1m-35 10h1m26-9h1m7 13h1m-49-52h1m5 8h1m43-16h1m-65-9h1m68 20h1m-15-8h1m-21-4h1m-18 12h1m36-5h1m-86 2h1m78 13h1m-74-14h1m42 2h1m47-15h1m-58 19h1m-50-16h1m0-12h1m58 18h1m-13-4h1m1 3h1m-1 0h1m-11-5h1m55 16h1m15-2h1m-31-11h1m-51-7h1m-37 17h1m90-11h1m11-5h1m-3 6h1m4 11h1m-100 3h1m57-11h1m-5-5h1m-56 3h1m96-1h1m-34-4h1m7 60h1m-1 2h1m16-3h1m-37-2h1m54-7h1m-69 4h1m-28 6h1m17-11h1m-20 5h1m89-1h1m-20 7h1m-19-2h1m-11 12h1m-25-10h1m19-8h1m-53 5h1m68 9h1m-35 2h1m52-12h1m-11 13h1m-74-14h1m14 11h1m14-1h1m-18-4h1m-1 3h1m21-3h1m56-6h1m-15 10h1m28 2h1m-108-13h1m87 7h1m-69 5h1m75 0h1m5 5h1m-57-20h1m49 10h1m-2 6h1m-103-9h1m97 3h1m-18 10h1m-75-19h1m16 19h1m46-16h1m-52-62h1m0 9h1m-11 26h1m-1 4h1m-10-37h1m7 21h1m-8 36h1m11-19h1m-4 15h1m4-21h1m-5 6h1m6-33h1m-1 40h1m-3-44h1m-6 26h1m6 9h1m-4-12h1m-10 13h1m-6-19h1m6-22h1m-2 45h1m-6 22h1m14-17h1m-7-47h1m-1 47h1m-10-9h1m5 32h1m69-33h1m18 4h1m-10-21h1m11-25h1m0 10h1m-19 68h1m-2-78h1m8 27h1m-20-29h1m28 24h1m-21 48h1m4 11h1m-10-54h1m12-10h1m-10 56h1m5-45h1m-7-9h1m-9-9h1m17 64h1m5-42h1m-20 11h1m13-24h1m4 53h1m-27-72h1m27 14h1m-11 14h1m-80-3h1m10-12h1m-7 61h1m92-26h1m-91-38h1m65 55h1m-60-3h1m79-42h1m-57 26h1m49 32h1m-70-75h1m-9 34h1m15 43h1m-5-40h1m1-41h1m23 44h1m26-8h1m20-29h1m-41 30h1m15 15h1m-65-8h1m-19-17h1m66 51h1m33-2h1m-79-75h1m-22 63h1m1-3h1m8-26h1m29 8h1m36-28h1m-43-7h1m-30 30h1m86-35h1m-41 64h1m46-68h1m-50 18h1m35 27h1m-59-18h1m-7-3h1m-30 33h1m12-19h1m21-23h1m-7 70h1m44-55h1m-55 44h1m5-4h1m82-10h1m-97-36h1m66-6h1m11 1h1m-44 11h1m9 43h1m34-29h1m-92 12h1m79-49h1m-85 2h1m10 26h1m87-8h1m-18 13h1m16 10h1m-98-44h1m-5 0h1m50-4h1m9 70h1m-74-59h1m0 13h1m70 56h1m-26-115h1m17 26h1m76 46h1m-120-43h1" stroke="#b59aa8" stroke-opacity="0.36" stroke-width="1" transform="translate(0 0.5)"/>
<path d="M431 364h1m-2-13h1m-22 9h1m17-11h1m10-1h1m-43 38h1m41-11h1m-5-26h1m18-5h1m-28 17h1m9-1h1m-20 20h1m-7-3h1m4-34h1m4 21h1m8 8h1m-16-19h1m-18 20h1m33-1h1m-24-3h1m2 6h1m1 2h1m6-6h1m0-4h1m-32 5h1m2 6h1m14-16h1m-12 9h1m9 8h1m18-19h1m8 1h1m-16-7h1m-2 12h1m2-7h1m-14 5h1m21-2h1m-8 4h1m31-21h1m-62 33h1m26 26h1m2-43h1m-2 17h1m-17-24h1m3 10h1m0-9h1m32-8h1m-25 20h1m1-11h1m0 0h1m-1 5h1m-19 16h1m29-20h1m-19-4h1m-5 25h1m8-24h1m-16 14h1m11 8h1m-12-9h1m10 8h1m8-14h1m-38 7h1m20-6h1m-10 0h1m26-2h1m-16 9h1m24-18h1m-55 18h1m47-1h1m-11 5h1m-12 9h1m6-12h1m-22 22h1m16-14h1m-9-34h1m-2 8h1m-15 8h1m13 18h1m-1-26h1m10-5h1m-14 29h1m11-11h1m-21 3h1m29 5h1m-13 5h1m-14-26h1m18 16h1m8-18h1m-31 25h1m17-23h1m3 5h1m-8 3h1m-34 14h1m24-4h1m-13 5h1m24-7h1m1-20h1m-11 23h1m-43 35h1m38-39h1m38-3h1m-32-12h1m-10 5h1m-6 10h1m5 8h1m18-12h1m-35-9h1m6 22h1m13-21h1m18 19h1m3-3h1m-8-6h1m-19 8h1m7-9h1m-8-2h1m19 4h1m-18-4h1m16-1h1m-12-10h1m-15 26h1m-4-13h1m26 17h1m-19-18h1m-1-8h1m-3-6h1m-4 26h1m-3-4h1m20-12h1m-29 6h1m3 5h1m30-17h1m-32 7h1m14 20h1m0-25h1m-1 13h1m-18 2h1m-10 11h1m31-23h1m2 2h1m-24 4h1m-3-8h1m-7 18h1m14-13h1m-13 1h1m43-14h1m-11-8h1m-28 30h1m2-3h1m-22 10h1m32-24h1m4 20h1m-53 2h1m31-5h1m17 3h1m-7-25h1m-1 25h1m-11 2h1m-5 7h1m-9-9h1m19-13h1m-14 20h1m-21-6h1m20-28h1m-6 40h1m-5-25h1m5 6h1m-7-12h1m26-3h1m-40 27h1m12-10h1m-2 5h1m4-8h1m-2-11h1m12 9h1m-8-7h1m-4 28h1m-8-11h1m8-8h1m-14 11h1m2-7h1m23-5h1m18 3h1m-45 5h1m0-4h1m23 4h1m39-46h1m-29 50h1m-7-12h1m6-8h1m-31 16h1m26-35h1m-32 19h1m-9 25h1m35-22h1m-36-4h1m12-12h1m14 27h1m-40-5h1m11 24h1m21-28h1m-7 13h1m8-18h1m1-2h1m-6 8h1m-9-4h1m25 10h1m-19-11h1m4 16h1m10-3h1m-48 20h1m48-24h1m12-23h1m-26 17h1m15 6h1m-48 36h1m13-9h1m-8 10h1m3-43h1m-21 33h1m16 1h1m26-42h1m22-16h1m-16 47h1m-24-43h1m-57 30h1m59 9h1m7-2h1m13 0h1m0-50h1m-35 49h1m24-16h1m16 1h1m-24 27h1m-43-31h1m37-23h1m-22 48h1m-8-4h1m20-23h1m-38 25h1m22-26h1m-14-3h1m-8 0h1m53 2h1m-67 39h1m38 0h1m13-29h1m-16 15h1m28-7h1m-28-1h1m12 18h1m44-39h1m-56 24h1m23-38h1m-14 17h1m-2 36h1m-39 7h1m-7-7h1m62-46h1m10 9h1m-25 8h1m-33 6h1m74-7h1m-60 26h1m41-51h1m-7 33h1m-55-22h1m-5 35h1m19-28h1m16 19h1m-14-2h1m-13 12h1m-29-10h1m79-33h1m-14 50h1m-45-7h1m-2-9h1m-55 15h1m87-29h1m-7 3h1m9-20h1m28 7h1m-24 43h1m-31-44h1m-18 31h1m52-28h1m-3 6h1m-21-11h1m-11 25h1m47-15h1m-43 7h1m-26-13h1m-11 2h1m52 22h1m-16-33h1m-31 44h1m54-29h1m-10 2h1m-47 33h1m27-30h1m9-4h1m-60 23h1m-1-5h1m5-3h1m-6 4h1m-15 0h1m24 1h1m-36 5h1m18-10h1m0-3h1m-10 6h1m-5-6h1m1 4h1m14 0h1m-2 9h1m-3-15h1m1 9h1m-6-5h1m-6 0h1m3 16h1m-5-13h1m4 0h1m-2 11h1m-2-14h1m-3 10h1m1-12h1m4 14h1m-3-3h1m7-9h1m-15 6h1m3 2h1m0-15h1m13 17h1m-12 1h1m-4-9h1m11 8h1m-10-2h1m-3-3h1m9 58h1m-7-9h1m-8 15h1m13-14h1m12-2h1m-32 12h1m17-8h1m-26 5h1m25 2h1m-4-11h1m12 11h1m-13-10h1m0-1h1m-7 10h1m7 3h1m-11-8h1m4 12h1m3-13h1m-25 15h1m27-13h1m-25 3h1m4 0h1m0 3h1m2 1h1m12-4h1m-17 7h1m-10-10h1m16 1h1m8 4h1m-23 5h1m13 3h1m6-18h1m-6 5h1m8-7h1m-37 26h1m9-5h1m12-16h1m2 5h1m6 2h1m-14 3h1m-11-5h1m6 6h1m10 2h1m77-33h1m-3 15h1m-24 18h1m14-18h1m5 3h1m-12 3h1m17 7h1m-35-4h1m27-3h1m-9 3h1m-6 10h1m-7-10h1m18-2h1m-12-5h1m7-9h1m4 10h1m-1 7h1m5-10h1m-13 10h1m1 7h1m-12-25h1m2 15h1m-9-3h1m2 13h1m4-20h1m8 7h1m-10-8h1m-11 11h1m-4 1h1m10 2h1m-22-4h1m2-7h1m19 19h1m-12-3h1m19-3h1m-6-8h1m3 0h1m9 14h1m-26-15h1m14 5h1m-29 1h1m31 2h1m-11-6h1m-83-53h1m9-1h1m-10-1h1m59 0h1m24 2h1m-26 1h1m-9 9h1m-34-3h1m-23-8h1m67 17h1m-28-16h1m6-2h1m1 0h1m-52 0h1m36-1h1m2 11h1m-2-14h1m-7 21h1m65-20h1m-34-3h1m-23 9h1m19-1h1m15-9h1m-43 18h1m56-1h1m-93-10h1m103 18h1m-85-22h1m-3-3h1m28 3h1m4 7h1m16 13h1m-56 6h1m74-23h1m-79-9h1m13 18h1m60-11h1m17 57h1m-24-3h1m-47 8h1m-10-2h1m39 17h1m-1-17h1m-47 5h1m53-2h1m27 6h1m-50-8h1m-23 6h1m40-11h1m4 5h1m-41-1h1m-39 5h1m93-10h1m-15 10h1m-48-11h1m-24 1h1m91 3h1m-103-3h1m1 8h1m-4 7h1m21-16h1m-11 2h1m-17 13h1m48-1h1m-24 3h1m34-11h1m-67 3h1m60 0h1m27-4h1m-56 9h1m16 0h1m46-2h1m-38-5h1m-15 2h1m-24 4h1m10 3h1m69-10h1m-32 6h1m39-1h1m-95 10h1m-5-36h1m3 25h1m0 7h1m-16-22h1m15-32h1m-1 42h1m-1 12h1m-9-4h1m6-54h1m-8 50h1m-18-5h1m25-54h1m0 41h1m-6 10h1m5 9h1m-17-41h1m6-27h1m-1 34h1m-5 42h1m8-15h1m-8-39h1m9-19h1m-12 13h1m2 16h1m13 20h1m-14-22h1m-20-19h1m95 8h1m4 50h1m7 2h1m-18-56h1m-5 20h1m-14-42h1m32 11h1m-4 33h1m-27-21h1m10-22h1m-3 61h1m5-19h1m-6-5h1m-3 5h1m3 6h1m-3-19h1m17 21h1m-13-27h1m-1 15h1m0-5h1m-5-21h1m18 45h1m-4 2h1m-23-37h1m9 59h1m-3-4h1m0-75h1m-87-3h1m16 73h1m71-27h1m-48 24h1m59-20h1m-96-19h1m23 31h1m18-6h1m-8-16h1m24 30h1m-46-69h1m68 40h1m-87 6h1m16 10h1m15-18h1m-37 27h1m-3-26h1m-4 9h1m106 36h1m-48-12h1m17-14h1m-57 24h1m50-58h1m-33-10h1m-28 35h1m93-43h1m-97 55h1m41-7h1m28-23h1m-43-28h1m-12 75h1m70-56h1m9 9h1m-19 0h1m-42 0h1m-5-22h1m55 39h1m-43-39h1m16 22h1m-84 44h1m57 4h1m-45-64h1m74 64h1m-16-62h1m-58 53h1m-9-30h1m76 43h1m9-14h1m5-55h1m-36 49h1m41 17h1m-74-44h1m-4 34h1m-27-46h1m45 49h1m10-71h1m11 7h1m-42 66h1m48-76h1m6 37h1m-39 40h1m37-72h1m-50 41h1m28 14h1m-6 24h1m-93-7h1m34-90h1m80-15h1m-89 11h1m70 116h1m0-75h1" stroke="#e46aa6" stroke-opacity="0.3" stroke-width="1" transform="translate(0 0.5)"/>
<path d="M435 366h1m-39 10h1m33-14h1m2 7h1m-6 3h1m-9-17h1m6 15h1m-16 11h1m0-5h1m9-12h1m7-12h1m-14 21h1m7-28h1m-9 26h1m11-22h1m-6 17h1m-3-2h1m-13 4h1m17-6h1m13 11h1m-32 4h1m20-25h1m-49 19h1m18-10h1m31-9h1m-33 12h1m14 5h1m17-18h1m-36 22h1m34-22h1m-27 9h1m34 5h1m-25 7h1m-19 6h1m2 6h1m11-10h1m-12-3h1m16-13h1m-29 16h1m34-17h1m-30-3h1m16 12h1m19-9h1m0 15h1m-50 14h1m21-32h1m10 13h1m-15-11h1m35-6h1m-43 16h1m38-19h1m-24 11h1m15 9h1m-28 19h1m21-6h1m-37 3h1m22-11h1m-6-15h1m26-11h1m-16 27h1m-20 2h1m6-14h1m-6 9h1m10-12h1m-9 9h1m15-5h1m0 1h1m-22 10h1m10 3h1m-19 2h1m0-15h1m19-15h1m-21 26h1m13-2h1m-7-15h1m-1 24h1m36-16h1m-15 7h1m-2-10h1m-4-17h1m-13 17h1m3-23h1m2 29h1m-11-2h1m11-22h1m-9 11h1m-22 29h1m8-19h1m0 5h1m6 16h1m21-22h1m-8-3h1m-19 0h1m3 4h1m-6-9h1m-7 13h1m18 1h1m14-27h1m-40 29h1m26-3h1m-13 3h1m1-7h1m5-1h1m10-14h1m-38 25h1m22-17h1m-2-2h1m-9 12h1m-9-7h1m7 3h1m6 8h1m5-17h1m-22 19h1m12-31h1m9 34h1m-29-4h1m16-6h1m17 1h1m-20-12h1m-6-4h1m-5 27h1m-2-7h1m11-6h1m10 19h1m-34-5h1m18-28h1m1 11h1m17-20h1m-16 20h1m7 5h1m-12-3h1m-10 12h1m-9-12h1m20-7h1m0 5h1m-26 16h1m37-38h1m-18 6h1m-3 22h1m12-5h1m11-12h1m-20 12h1m-19 14h1m-6-5h1m14-17h1m24-1h1m-30 14h1m-2 4h1m4-2h1m13-11h1m20 20h1m-39-16h1m3 2h1m24-8h1m-39 11h1m12-9h1m14 13h1m-40 22h1m37-25h1m4-8h1m-40 7h1m26-2h1m12-13h1m-43 33h1m8-21h1m19 1h1m-23 1h1m11-15h1m19-1h1m18-9h1m-31 20h1m-14-12h1m14 24h1m-8-23h1m-6 26h1m22 2h1m-18-23h1m-11 0h1m20 9h1m-2-3h1m-7-2h1m5 2h1m19-1h1m-35-14h1m44 0h1m-34 12h1m18-22h1m-48 66h1m20-63h1m42-15h1m-23 63h1m12-59h1m-28 54h1m-24-36h1m23 8h1m-29 10h1m25 30h1m-26 17h1m36-48h1m23-13h1m-33 29h1m-34 4h1m34 22h1m-26-75h1m8 35h1m21 7h1m-21-11h1m-45 11h1m23 15h1m39-43h1m-22 31h1m20-39h1m19 36h1m-54 9h1m37-37h1m-31 29h1m23-21h1m6 12h1m-36 4h1m26-7h1m4-16h1m-3 19h1m0-6h1m-33-12h1m7 41h1m-6-11h1m34-29h1m-45 43h1m43-25h1m-44 16h1m-13-3h1m50 2h1m-31-8h1m7-38h1m-29 20h1m10 14h1m14-2h1m43-15h1m-29 4h1m-2 4h1m-9 20h1m29-11h1m-2-7h1m-20-15h1m-8 39h1m6-23h1m-1 0h1m21 10h1m-20-2h1m-43-20h1m36 19h1m-28 27h1m29-40h1m-35-23h1m-8 11h1m24-14h1m-37 58h1m28-18h1m18-8h1m-20 2h1m20-3h1m2-29h1m-25 61h1m65-65h1m-64 44h1m17-18h1m18 27h1m-25-63h1m7 54h1m28 8h1m-15-49h1m-50 38h1m30 25h1m4-13h1m0-46h1m13 7h1m-39 22h1m17 0h1m25-10h1m-73 11h1m21 5h1m-6 23h1m40-72h1m-33 54h1m9-19h1m10 31h1m-19-30h1m17 4h1m-36 39h1m45-50h1m-9 15h1m-38 0h1m52 2h1m-35-4h1m30 18h1m9-46h1m-4 12h1m-16 5h1m-15 9h1m-59 8h1m-1-6h1m-4 14h1m10-8h1m-14 11h1m16-8h1m-18-14h1m9 24h1m-17-17h1m18 9h1m0-3h1m-6 9h1m-12 1h1m2-13h1m1-3h1m6 13h1m-7-4h1m6-6h1m-5 9h1m-1-6h1m-5 5h1m5-1h1m-4-6h1m10-4h1m-15-1h1m-5 14h1m9-1h1m3-4h1m-5-7h1m-5 12h1m0 0h1m7-13h1m-8 11h1m-11 10h1m9-14h1m-10-2h1m5 62h1m16-9h1m-37 7h1m17 0h1m-3-3h1m12 2h1m-24 3h1m20-3h1m-2 1h1m-2 11h1m-15-4h1m12-7h1m-6-5h1m4-7h1m10-1h1m-4 11h1m-4 10h1m-6-11h1m11-1h1m-15-1h1m10 6h1m-7 13h1m14-20h1m-22 11h1m-22 5h1m17-10h1m24-2h1m-16 4h1m12-10h1m-24 7h1m1 0h1m-16 1h1m27 1h1m-11-4h1m10-1h1m-11-1h1m-14 11h1m8-14h1m-8 10h1m6-2h1m7 4h1m20-4h1m-27-11h1m9 12h1m51-9h1m5 16h1m-5-8h1m11-7h1m7-1h1m-18 6h1m10-4h1m-24 10h1m18-3h1m3 5h1m-2-14h1m-18-5h1m12 15h1m-4 6h1m-9-3h1m15-6h1m-16-15h1m2 20h1m18 1h1m-18-15h1m-12 6h1m10 8h1m26-8h1m-26 10h1m-10-15h1m9-1h1m10 6h1m-6 10h1m-6-15h1m0 3h1m16 9h1m-18-1h1m-14-16h1m-4 8h1m10-7h1m5 6h1m0 7h1m-6-14h1m-9 15h1m14 1h1m-10-9h1m0-4h1m2 6h1m-4-55h1m-16-4h1m-31-8h1m64 8h1m-76-9h1m69 21h1m7-4h1m-32-15h1m-59 23h1m71-17h1m-83-4h1m13 29h1m48-18h1m-24 11h1m32-3h1m-57 2h1m8-6h1m-37-11h1m68 8h1m-59 5h1m81-16h1m-93 11h1m2 32h1m41-38h1m34 11h1m3-1h1m-39 7h1m20-19h1m-47 12h1m5-11h1m34 2h1m-4 14h1m43-15h1m-89 21h1m23-25h1m40 18h1m-59 4h1m-19 54h1m54-14h1m-34 3h1m-18-2h1m-7 2h1m57 18h1m-42-14h1m59 5h1m-23-7h1m23 5h1m-56 3h1m-22-15h1m82 1h1m-61-1h1m25-5h1m-12 11h1m-19-6h1m43 18h1m26-4h1m-7-14h1m2 7h1m-74-1h1m-9 10h1m98-16h1m-81-1h1m-10 11h1m68-1h1m-76 1h1m53-11h1m8 4h1m-49 7h1m46 2h1m-59-16h1m57 14h1m-63-8h1m49 10h1m33 1h1m-36 4h1m31-6h1m-49-4h1m23 0h1m-75-1h1m50-5h1m-37-50h1m3-10h1m-8 24h1m-5 30h1m4 1h1m-8 1h1m7-31h1m14 10h1m-7-14h1m-7 38h1m-9-16h1m-1 3h1m11-23h1m-2-25h1m-10 59h1m2-57h1m12 59h1m-8-19h1m-9 16h1m5-7h1m-13-10h1m16-19h1m-16 54h1m-1-71h1m11 61h1m-15-47h1m-3 20h1m77-19h1m-3 56h1m4-72h1m-3 60h1m12-40h1m-1-29h1m-18 23h1m23 50h1m-19-53h1m2 27h1m5 7h1m-11-12h1m11 18h1m7-25h1m-12-28h1m-15 27h1m20-4h1m-30 6h1m21-12h1m-14 0h1m11-10h1m1 46h1m5 16h1m-6-52h1m-11-3h1m9 33h1m6 3h1m-95 24h1m-8-47h1m3 10h1m3 30h1m35-77h1m35 37h1m22-22h1m-50 67h1m20 4h1m-29-40h1m-36-23h1m43 43h1m14-45h1m17 28h1m9 0h1m-84-2h1m98-16h1m-69 20h1m52 1h1m-37-23h1m39 48h1m-40 1h1m13-72h1m-67 27h1m82 41h1m-100-25h1m80 37h1m-7-12h1m27-33h1m6 3h1m-3-29h1m-101 4h1m39 25h1m-21-10h1m52 30h1m-81 20h1m6 2h1m-7-56h1m48-21h1m55 50h1m-83-31h1m27-28h1m54 7h1m-77 77h1m53-47h1m-69 20h1m6 20h1m84-29h1m-95 28h1m-15-8h1m57 7h1m2-66h1m46 67h1m-51 1h1m26-76h1m-18 41h1m-37-4h1m67 5h1m17 0h1m-31 29h1m-91 13h1m2-28h1m102-51h1m-68 69h1m77 19h1m12-22h1m-128-2h1m111-12h1m-25 16h1m-76-81h1" stroke="#e46aa6" stroke-opacity="0.3" stroke-width="1" transform="translate(0 0.5)"/>
<path d="M442.5 348.9 L443.4 349.9 L443.1 351.5 L442.6 353.1 L442.5 354.5 L443.2 355.7 L443.7 357.1 L443.0 358.8 L440.9 360.7 L438.7 362.5 L437.6 364.1 L437.5 365.8 L436.9 367.6 L434.9 369.3 L432.1 370.6 L429.7 371.8 L427.8 373.1 L426.0 374.6 L424.0 375.8 L422.0 377.1 L419.9 378.6 L417.8 380.1 L415.5 380.8 L413.4 381.1 L411.2 381.8 L408.8 383.0 L406.5 383.8 L404.8 383.4 L403.6 382.4 L402.0 382.3 L399.6 382.8 L397.6 383.0 L396.5 382.2 L395.9 381.1 L394.6 380.5 L393.0 380.1 L392.0 379.2 L391.7 377.9 L391.4 376.7 L391.1 375.4 L391.7 373.8 L393.0 372.0 L393.8 370.4 L393.5 369.1 L393.1 367.7 L394.1 366.0 L396.0 364.3 L397.3 362.7 L397.7 360.9 L398.4 358.9 L400.2 357.1 L402.7 355.7 L405.0 354.3 L407.2 352.9 L409.4 351.6 L411.8 350.7 L414.1 349.9 L416.3 349.1 L418.4 348.5 L420.4 348.4 L422.3 348.0 L424.5 346.9 L427.1 345.5 L429.2 345.0 L430.6 345.7 L431.6 346.6 L433.4 346.6 L435.6 346.2 L437.5 346.2 L438.6 347.0 L439.5 347.9 L440.9 348.4Z" stroke="#e8509c" stroke-width="1.3" fill="#f6c2dc" fill-opacity="0.92"/>
<path d="M440.0 350.7 L440.1 351.9 L440.2 353.1 L440.2 354.3 L439.7 355.7 L438.9 357.2 L438.4 358.5 L438.4 359.8 L438.1 361.1 L437.1 362.6 L435.5 364.1 L434.1 365.5 L433.1 366.9 L431.7 368.4 L429.8 369.6 L428.2 370.9 L426.9 372.5 L425.6 374.3 L423.7 375.6 L421.3 376.0 L419.2 376.2 L417.4 377.1 L415.4 378.7 L413.4 379.9 L411.4 380.4 L409.6 380.6 L407.7 381.0 L405.9 381.4 L404.3 381.2 L403.1 380.7 L401.7 380.6 L400.0 380.7 L398.5 380.5 L397.7 379.7 L397.1 378.9 L396.1 378.3 L394.8 377.9 L393.8 377.2 L393.5 376.1 L393.5 374.8 L393.5 373.6 L393.5 372.3 L393.9 370.9 L394.7 369.4 L395.7 367.9 L396.8 366.4 L398.0 364.9 L399.2 363.5 L400.7 362.0 L402.5 360.7 L404.3 359.4 L405.8 358.1 L407.2 356.6 L408.9 355.2 L410.9 354.3 L412.9 353.5 L414.7 352.4 L416.6 350.8 L418.7 349.3 L420.6 349.0 L422.2 349.7 L423.6 350.2 L425.2 349.8 L427.3 348.8 L429.6 347.9 L431.6 347.4 L433.3 347.3 L434.9 347.4 L436.3 347.8 L437.6 348.2 L438.7 348.8 L439.6 349.6Z" stroke="#ec78b0" stroke-width="0.9" fill="none" fill-opacity="0.9"/>
<path d="M435.9 353.6 L436.8 354.1 L437.2 354.9 L436.6 356.2 L435.9 357.4 L435.9 358.4 L436.3 359.2 L436.1 360.3 L434.7 361.7 L433.0 363.1 L431.6 364.3 L430.8 365.4 L429.8 366.6 L428.6 367.8 L427.3 368.9 L426.1 370.2 L424.9 371.4 L423.4 372.7 L421.7 373.7 L419.9 374.5 L418.2 375.2 L416.5 376.0 L414.8 377.0 L413.0 377.9 L411.3 378.3 L410.0 378.2 L408.9 377.8 L407.6 377.8 L405.9 378.4 L404.1 379.1 L402.6 379.3 L401.5 379.1 L400.5 378.7 L399.4 378.5 L398.3 378.2 L397.5 377.7 L397.2 376.8 L397.1 375.9 L397.1 375.0 L397.3 373.9 L397.8 372.8 L398.3 371.7 L398.8 370.6 L398.9 369.6 L398.8 368.6 L399.0 367.5 L399.6 366.2 L400.8 364.9 L402.2 363.7 L403.7 362.4 L405.2 361.2 L406.8 360.1 L408.6 359.1 L410.1 358.1 L411.6 356.9 L413.2 355.7 L415.0 354.8 L416.7 354.4 L418.3 354.1 L419.9 353.6 L421.5 353.1 L422.9 352.8 L424.3 352.6 L425.8 352.3 L427.3 352.0 L428.7 351.7 L430.1 351.6 L431.7 351.4 L433.3 351.2 L434.5 351.3 L435.0 352.1 L435.2 353.0Z" stroke="#3f8fd2" stroke-width="1.1" fill="#b2daf2" fill-opacity="0.95"/>
<path d="M426.9 358.0 L426.8 358.8 L426.8 359.3 L427.2 359.7 L427.7 360.1 L427.7 360.7 L427.3 361.6 L426.7 362.4 L426.4 363.2 L426.2 363.9 L425.8 364.7 L425.2 365.5 L424.5 366.3 L424.0 367.2 L423.4 368.0 L422.6 368.9 L421.5 369.6 L420.4 370.3 L419.4 370.9 L418.4 371.6 L417.4 372.4 L416.4 373.3 L415.3 373.9 L414.2 374.3 L413.2 374.5 L412.2 374.7 L411.1 375.2 L409.9 375.9 L408.9 376.1 L408.2 375.7 L407.7 375.3 L407.1 375.2 L406.2 375.2 L405.5 375.0 L405.2 374.6 L405.0 374.0 L404.8 373.5 L404.5 373.0 L404.4 372.5 L404.3 371.9 L404.1 371.4 L403.8 370.9 L403.9 370.2 L404.3 369.4 L404.7 368.6 L405.0 367.8 L405.5 367.0 L406.4 366.1 L407.4 365.3 L408.3 364.5 L408.9 363.8 L409.6 363.0 L410.4 362.2 L411.3 361.4 L412.1 360.5 L413.0 359.6 L414.1 358.7 L415.2 358.3 L416.3 357.9 L417.3 357.5 L418.5 356.9 L419.6 356.3 L420.7 356.0 L421.6 356.0 L422.5 355.9 L423.4 355.8 L424.2 355.8 L424.9 356.1 L425.3 356.5 L425.8 356.8 L426.4 357.1 L426.8 357.4Z" stroke="#2e9e4c" stroke-width="1.1" fill="#b6e0a6" fill-opacity="0.95"/>
<path d="M419.6 363.6 L419.7 363.8 L419.8 364.1 L419.9 364.4 L419.9 364.7 L420.0 365.0 L419.9 365.3 L419.9 365.6 L419.8 366.0 L419.6 366.3 L419.5 366.6 L419.3 367.0 L419.1 367.3 L418.8 367.7 L418.6 368.0 L418.3 368.3 L418.0 368.7 L417.7 369.0 L417.3 369.3 L417.0 369.5 L416.6 369.8 L416.1 370.0 L415.7 370.1 L415.3 370.3 L414.9 370.4 L414.5 370.5 L414.1 370.6 L413.7 370.6 L413.3 370.6 L412.9 370.6 L412.6 370.5 L412.3 370.4 L412.0 370.2 L411.8 370.1 L411.6 369.9 L411.4 369.7 L411.2 369.4 L411.0 369.2 L410.9 369.0 L410.8 368.7 L410.7 368.4 L410.7 368.1 L410.8 367.7 L410.9 367.4 L411.0 367.0 L411.2 366.7 L411.3 366.4 L411.5 366.0 L411.7 365.7 L412.0 365.3 L412.2 365.0 L412.5 364.7 L412.8 364.4 L413.2 364.1 L413.5 363.8 L413.9 363.6 L414.3 363.3 L414.7 363.1 L415.1 362.9 L415.5 362.7 L415.9 362.5 L416.3 362.4 L416.8 362.3 L417.2 362.2 L417.6 362.3 L417.9 362.3 L418.2 362.4 L418.5 362.6 L418.8 362.7 L419.0 362.9 L419.2 363.1 L419.4 363.4Z" stroke="#e05a30" stroke-width="1" fill="#f2b49a" fill-opacity="0.95"/>
<path d="M375.9 372.1 L376.1 372.7 L376.6 373.2 L377.0 373.8 L377.2 374.5 L377.2 375.2 L377.1 375.9 L376.8 376.5 L376.3 377.2 L375.8 377.7 L375.6 378.5 L375.7 379.4 L375.5 380.2 L374.5 380.6 L373.3 380.5 L372.4 380.7 L372.0 381.4 L371.5 382.2 L370.7 382.6 L369.8 382.5 L369.0 382.5 L368.3 383.0 L367.4 383.5 L366.6 383.4 L365.8 383.0 L365.1 382.9 L364.2 382.9 L363.4 382.7 L362.8 382.3 L362.2 381.9 L361.5 381.6 L360.8 381.2 L360.4 380.7 L359.9 380.1 L359.2 379.7 L358.5 379.3 L358.3 378.5 L358.9 377.6 L359.6 376.8 L359.6 376.1 L359.1 375.5 L358.8 374.8 L359.2 374.2 L359.8 373.6 L360.1 372.9 L360.2 372.3 L360.3 371.5 L360.7 370.8 L361.2 370.3 L362.0 369.9 L362.7 369.5 L363.4 369.1 L364.0 368.7 L364.7 368.2 L365.4 367.8 L366.1 367.5 L366.9 367.2 L367.7 366.9 L368.6 366.7 L369.4 366.6 L370.3 366.5 L371.3 366.2 L372.3 366.0 L373.1 366.3 L373.6 367.1 L374.0 367.9 L374.4 368.5 L375.0 368.9 L375.5 369.4 L375.8 370.0 L375.8 370.8 L375.8 371.5Z" stroke="#e8509c" stroke-width="1.2" fill="#e4c4e0" fill-opacity="0.85"/>
<path d="M372.6 373.6 L372.8 373.9 L372.9 374.3 L373.0 374.6 L373.0 375.0 L372.9 375.4 L372.8 375.8 L372.6 376.1 L372.3 376.5 L372.0 376.8 L371.7 377.1 L371.4 377.4 L371.1 377.7 L370.8 378.0 L370.5 378.3 L370.1 378.6 L369.7 378.9 L369.3 379.1 L368.9 379.2 L368.4 379.3 L367.9 379.4 L367.5 379.5 L367.0 379.6 L366.6 379.7 L366.1 379.8 L365.6 379.8 L365.1 379.8 L364.7 379.7 L364.3 379.5 L363.9 379.3 L363.6 379.1 L363.4 378.8 L363.2 378.5 L362.9 378.3 L362.7 378.0 L362.4 377.7 L362.2 377.4 L362.0 377.1 L362.0 376.7 L362.0 376.4 L362.1 376.0 L362.2 375.6 L362.4 375.3 L362.6 374.9 L362.8 374.6 L363.1 374.2 L363.4 373.9 L363.7 373.6 L364.0 373.3 L364.3 373.1 L364.7 372.8 L365.0 372.5 L365.4 372.3 L365.7 372.0 L366.1 371.7 L366.5 371.4 L367.0 371.2 L367.5 371.0 L368.0 371.0 L368.5 371.0 L369.0 371.1 L369.4 371.2 L369.8 371.4 L370.2 371.5 L370.5 371.7 L370.9 371.9 L371.2 372.1 L371.5 372.3 L371.8 372.5 L372.1 372.8 L372.3 373.0 L372.5 373.3Z" stroke="#a8b0e0" stroke-width="0.7" fill="#bcd4f0" fill-opacity="0.85"/>
<path d="M383.0 429.7 L383.6 430.1 L384.4 430.6 L384.9 431.1 L384.8 431.8 L384.4 432.5 L383.9 433.2 L383.5 433.9 L382.8 434.6 L381.6 435.1 L380.6 435.6 L380.0 436.2 L379.5 436.8 L378.8 437.4 L377.8 437.7 L376.8 438.1 L376.1 438.7 L375.2 439.2 L374.2 439.5 L373.2 439.6 L372.3 440.0 L371.3 440.5 L370.2 440.8 L369.3 440.6 L368.5 440.3 L367.5 440.5 L366.3 440.7 L365.3 440.7 L364.6 440.4 L364.0 440.0 L363.1 439.8 L362.2 439.6 L361.7 439.2 L361.3 438.7 L360.8 438.2 L360.5 437.7 L360.5 437.0 L360.7 436.3 L360.8 435.7 L360.7 435.1 L361.0 434.4 L361.5 433.8 L361.8 433.2 L361.7 432.5 L361.8 431.8 L362.8 431.3 L363.9 430.8 L364.4 430.2 L364.6 429.4 L365.1 428.7 L366.3 428.4 L367.6 428.3 L368.5 427.9 L369.1 427.1 L369.9 426.2 L371.0 425.9 L372.1 426.0 L373.1 426.1 L374.1 426.0 L375.1 425.9 L376.1 425.8 L377.1 425.6 L378.2 425.5 L379.1 425.6 L379.6 426.2 L380.1 426.7 L380.7 427.0 L381.5 427.2 L382.2 427.5 L382.5 428.0 L382.6 428.6 L382.7 429.2Z" stroke="#e8509c" stroke-width="1.1" fill="#f6c2dc" fill-opacity="0.85"/>
<path d="M378.1 431.5 L378.2 431.8 L378.2 432.1 L378.3 432.5 L378.4 432.8 L378.4 433.2 L378.3 433.6 L378.1 434.0 L377.8 434.4 L377.4 434.8 L377.0 435.2 L376.6 435.5 L376.2 435.8 L375.7 436.2 L375.3 436.5 L374.8 436.8 L374.3 437.1 L373.7 437.4 L373.1 437.6 L372.5 437.8 L371.9 437.9 L371.3 438.0 L370.7 438.0 L370.2 438.1 L369.6 438.1 L369.0 438.1 L368.4 438.1 L367.8 438.1 L367.3 438.0 L366.8 437.8 L366.5 437.5 L366.2 437.2 L366.0 436.9 L365.9 436.5 L365.7 436.2 L365.6 435.9 L365.6 435.5 L365.5 435.2 L365.4 434.8 L365.4 434.5 L365.5 434.1 L365.6 433.8 L365.7 433.4 L365.9 433.0 L366.1 432.6 L366.3 432.2 L366.5 431.8 L366.8 431.4 L367.2 431.0 L367.6 430.6 L368.1 430.3 L368.6 430.0 L369.2 429.7 L369.8 429.5 L370.5 429.4 L371.1 429.2 L371.7 429.1 L372.3 429.0 L372.9 429.0 L373.5 428.9 L374.0 428.9 L374.6 428.9 L375.1 429.0 L375.6 429.1 L376.1 429.2 L376.6 429.4 L377.0 429.6 L377.3 429.8 L377.6 430.1 L377.8 430.4 L377.9 430.8 L378.0 431.1Z" stroke="#3f8fd2" stroke-width="1" fill="#b2daf2" fill-opacity="0.9"/>
<path d="M453.3 427.8 L452.2 428.5 L452.3 429.1 L452.9 430.0 L453.0 430.8 L452.2 431.3 L451.4 431.8 L451.1 432.5 L451.1 433.5 L450.7 434.2 L449.8 434.6 L448.7 434.8 L447.9 435.1 L447.2 435.6 L446.4 436.1 L445.5 436.6 L444.6 437.0 L443.6 437.4 L442.5 437.8 L441.4 437.9 L440.3 437.6 L439.4 436.9 L438.5 436.3 L437.5 436.2 L436.1 436.4 L435.1 436.0 L434.9 434.9 L435.0 433.6 L434.2 433.3 L432.2 433.4 L430.6 433.2 L430.6 432.1 L432.0 430.8 L433.0 429.8 L432.9 429.1 L432.3 428.5 L432.1 427.8 L432.1 427.1 L432.0 426.3 L432.0 425.6 L432.6 425.0 L433.0 424.3 L432.9 423.5 L432.6 422.4 L433.1 421.6 L434.3 421.4 L435.4 421.2 L435.9 420.4 L436.4 419.5 L437.4 419.2 L438.6 419.5 L439.7 419.7 L440.5 419.1 L441.5 418.4 L442.5 418.4 L443.5 419.0 L444.4 419.4 L445.4 419.3 L446.6 419.0 L447.8 418.9 L448.9 419.1 L449.8 419.6 L450.4 420.4 L451.0 421.1 L451.8 421.7 L452.6 422.2 L453.1 423.0 L452.9 424.0 L452.8 424.9 L453.3 425.5 L454.2 426.2 L454.3 427.0Z" stroke="#e8509c" stroke-width="1.2" fill="#e8c8e2" fill-opacity="0.85"/>
<path d="M447.8 428.5 L447.7 428.9 L447.7 429.3 L447.6 429.7 L447.4 430.1 L447.2 430.5 L446.9 430.8 L446.5 431.1 L446.0 431.3 L445.5 431.5 L445.0 431.6 L444.5 431.7 L444.1 431.9 L443.7 432.1 L443.3 432.3 L442.9 432.5 L442.5 432.8 L442.0 433.0 L441.5 433.1 L441.0 433.2 L440.4 433.1 L439.9 433.0 L439.4 432.9 L438.9 432.7 L438.4 432.5 L438.0 432.2 L437.6 432.0 L437.2 431.7 L436.9 431.4 L436.5 431.1 L436.2 430.8 L435.9 430.5 L435.6 430.1 L435.4 429.7 L435.3 429.3 L435.2 428.9 L435.2 428.5 L435.4 428.1 L435.6 427.7 L435.8 427.4 L436.0 427.0 L436.3 426.7 L436.5 426.3 L436.7 426.0 L437.0 425.7 L437.3 425.4 L437.7 425.1 L438.1 424.8 L438.6 424.7 L439.0 424.5 L439.5 424.4 L440.0 424.3 L440.5 424.3 L441.0 424.2 L441.5 424.1 L442.0 424.0 L442.6 424.0 L443.1 424.1 L443.6 424.2 L444.0 424.4 L444.5 424.7 L444.9 424.9 L445.2 425.2 L445.6 425.4 L446.0 425.6 L446.5 425.9 L446.9 426.2 L447.2 426.5 L447.5 426.9 L447.7 427.3 L447.7 427.7 L447.8 428.1Z" stroke="#c0a8d8" stroke-width="0.6" fill="#d0d8f0" fill-opacity="0.8"/>
<circle cx="457.6" cy="433.2" r="1.6" fill="none" stroke="#e8509c" stroke-width="0.9"/>
<circle cx="366" cy="383.5" r="1.2" fill="#e8509c"/>
<ellipse cx="419.6" cy="366" rx="35.9" ry="22.7" transform="rotate(-47 419.6 366)" fill="none" stroke="#5b5758" stroke-width="1.1"/>
<rect x="317" y="307.5" width="173.4" height="172.7" fill="none" stroke="#161616" stroke-width="1.5"/>
<path d="M317 323.8H312.2M317 365.9H312.2M317 401.5H312.2M317 440.4H312.2M317 478.4H312.2M317 311.13H314.6M317 353.23H314.6M317 345.81H314.6M317 340.55H314.6M317 336.47H314.6M317 333.14H314.6M317 330.32H314.6M317 327.88H314.6M317 325.73H314.6M317 384H314.6M317 421H314.6M317 459.5H314.6M317 374.2H314.6M317 380.2H314.6M317 387.2H314.6M317 393.2H314.6" stroke="#161616" stroke-width="1.15" fill="none"/>
<path d="M351.5 480.2V485M387.3 480.2V485M434.7 480.2V485M474.2 480.2V485M331.6 480.2V482.6M371.5 480.2V482.6M401.57 480.2V482.6M409.92 480.2V482.6M415.84 480.2V482.6M420.43 480.2V482.6M424.18 480.2V482.6M427.36 480.2V482.6M430.11 480.2V482.6M432.53 480.2V482.6M446.59 480.2V482.6M453.55 480.2V482.6M458.48 480.2V482.6M462.31 480.2V482.6M465.44 480.2V482.6M468.08 480.2V482.6M470.37 480.2V482.6M472.39 480.2V482.6M486.09 480.2V482.6" stroke="#161616" stroke-width="1.15" fill="none"/>
<text transform="translate(307.3 330.6) scale(0.93 1)" font-size="12.3" text-anchor="end" fill="#161616">10<tspan dx="0.5" dy="-4.6" font-size="9">5</tspan></text>
<text transform="translate(307.3 372.7) scale(0.93 1)" font-size="12.3" text-anchor="end" fill="#161616">10<tspan dx="0.5" dy="-4.6" font-size="9">4</tspan></text>
<text transform="translate(307 406.5) scale(0.93 1)" font-size="12.3" text-anchor="end" fill="#161616">2000</text>
<text transform="translate(307 445.4) scale(0.93 1)" font-size="12.3" text-anchor="end" fill="#161616">0</text>
<text transform="translate(307 483.4) scale(0.93 1)" font-size="12.3" text-anchor="end" fill="#161616">-2000</text>
<text transform="translate(351.5 501.6) scale(0.93 1)" font-size="12.3" text-anchor="middle" fill="#161616">0</text>
<text transform="translate(387.3 501.6) scale(0.93 1)" font-size="12.3" text-anchor="middle" fill="#161616">10<tspan dx="0.5" dy="-4.6" font-size="9">3</tspan></text>
<text transform="translate(434.7 501.6) scale(0.93 1)" font-size="12.3" text-anchor="middle" fill="#161616">10<tspan dx="0.5" dy="-4.6" font-size="9">4</tspan></text>
<text transform="translate(474.2 501.6) scale(0.93 1)" font-size="12.3" text-anchor="middle" fill="#161616">10<tspan dx="0.5" dy="-4.6" font-size="9">5</tspan></text>
<rect x="372.5" y="311.5" width="115.2" height="15.6" rx="2" ry="2" fill="#fff" stroke="#a9a9a9" stroke-width="0.95"/>
<text x="391" y="322.76" font-size="9.6" textLength="90.7" lengthAdjust="spacingAndGlyphs" fill="#161616" style="stroke-width:0.06px">CD19+/CD5+: 65.64%</text>
<text x="266" y="379" font-size="15.4" text-anchor="middle" textLength="76.9" lengthAdjust="spacingAndGlyphs" transform="rotate(-90 266 379)" fill="#161616" style="stroke-width:0.22px">CD19-BV711</text>
<text x="368.7" y="522.3" font-size="15.4" textLength="69.8" lengthAdjust="spacingAndGlyphs" fill="#161616" style="stroke-width:0.22px">CD5-BV421</text>
<text x="121.4" y="553.9" font-size="14.4" textLength="67.8" lengthAdjust="spacingAndGlyphs" fill="#161616">Par-4xTCL1</text>
<text x="86.2" y="573" font-size="12.2" textLength="139" lengthAdjust="spacingAndGlyphs" fill="#161616">[CD19+/CD5+] EdU-AF647</text>
<path d="M84 759 L84.2 759.5 L85.2 759.8 L85.9 759.7 L85.6 758.7 L87.8 759.0 L88.5 757.9 L88.7 758.1 L89.6 757.8 L89.6 756.2 L90.8 756.7 L92.4 754.3 L93.0 752.7 L93.4 751.1 L93.1 750.9 L94.0 748.0 L95.7 747.7 L95.3 745.3 L96.3 742.1 L96.4 740.0 L97.7 737.4 L98.4 732.4 L98.0 728.4 L98.1 724.5 L98.8 721.9 L98.8 718.4 L99.6 714.0 L100.6 710.8 L100.2 707.2 L101.1 702.8 L101.8 699.2 L101.8 697.3 L101.0 693.6 L101.8 689.2 L101.6 684.1 L102.2 681.9 L102.6 677.5 L104.0 673.9 L103.4 668.7 L104.0 665.6 L103.7 661.5 L105.1 657.7 L104.3 653.8 L104.7 648.6 L105.8 645.8 L105.8 641.7 L106.4 636.7 L106.3 632.7 L106.3 628.9 L107.5 626.8 L107.0 621.1 L108.6 617.1 L108.1 611.5 L108.8 608.5 L109.2 602.8 L109.1 598.8 L109.7 596.0 L111.4 590.1 L111.6 600.9 L112.0 596.6 L111.8 593.4 L112.5 600.7 L113.3 604.9 L114.7 609.7 L115.1 612.9 L114.8 617.5 L115.1 620.3 L115.3 623.8 L115.6 629.2 L116.8 632.2 L116.5 635.4 L116.2 639.3 L117.6 644.5 L117.3 648.4 L118.2 652.3 L118.4 656.5 L118.3 660.4 L118.5 663.9 L119.6 668.3 L119.2 672.8 L120.1 676.0 L119.5 680.0 L120.2 684.2 L120.8 688.4 L121.5 692.4 L121.5 696.2 L122.5 700.6 L122.4 704.6 L123.6 708.4 L124.1 712.2 L123.8 714.7 L123.6 718.6 L125.1 721.2 L125.1 724.9 L125.5 727.1 L126.1 731.5 L126.3 734.7 L126.7 739.0 L127.2 742.4 L126.9 744.1 L128.0 747.9 L128.3 750.8 L129.7 751.2 L130.2 753.3 L130.3 754.8 L131.5 755.4 L132.0 755.7 L133.1 756.9 L134.1 757.9 L134.3 758.7 L134.7 757.8 L135.9 758.0 L137.0 758.3 L137.0 758.3 L137.8 756.7 L138.6 757.4 L139.4 757.7 L140.2 757.4 L141.0 757.8 L141.8 757.3 L142.6 758.3 L143.4 757.8 L144.2 758.2 L145.0 756.3 L145.8 758.0 L146.6 757.6 L147.4 757.9 L148.2 758.0 L149.0 758.4 L149.8 757.7 L150.6 757.4 L151.4 758.3 L152.2 758.4 L153.0 758.4 L153.8 758.4 L154.6 757.2 L155.4 757.0 L156.2 757.9 L157.0 758.0 L157.8 758.4 L158.6 757.1 L159.4 758.6 L160.2 758.1 L161.0 757.2 L161.8 757.9 L162.6 758.2 L163.4 758.4 L164.2 758.2 L165.0 757.9 L165.8 758.3 L166.6 758.2 L167.4 758.1 L168.2 756.9 L169.0 758.3 L169.8 758.4 L170.6 757.5 L171.4 757.9 L172.2 758.3 L173.0 757.6 L173.8 757.6 L174.6 757.7 L175.4 758.4 L176.2 758.5 L177.0 758.5 L177.8 758.3 L178.6 757.9 L179.4 758.6 L180.2 757.9 L181.0 758.5 L181.8 758.3 L182.6 758.6 L186.0 758.8 L186 759Z" stroke="none" stroke-width="1" fill="#cbc5c6"/>
<path d="M84.2 759.5 L85.2 759.8 L85.9 759.7 L85.6 758.7 L87.8 759.0 L88.5 757.9 L88.7 758.1 L89.6 757.8 L89.6 756.2 L90.8 756.7 L92.4 754.3 L93.0 752.7 L93.4 751.1 L93.1 750.9 L94.0 748.0 L95.7 747.7 L95.3 745.3 L96.3 742.1 L96.4 740.0 L97.7 737.4 L98.4 732.4 L98.0 728.4 L98.1 724.5 L98.8 721.9 L98.8 718.4 L99.6 714.0 L100.6 710.8 L100.2 707.2 L101.1 702.8 L101.8 699.2 L101.8 697.3 L101.0 693.6 L101.8 689.2 L101.6 684.1 L102.2 681.9 L102.6 677.5 L104.0 673.9 L103.4 668.7 L104.0 665.6 L103.7 661.5 L105.1 657.7 L104.3 653.8 L104.7 648.6 L105.8 645.8 L105.8 641.7 L106.4 636.7 L106.3 632.7 L106.3 628.9 L107.5 626.8 L107.0 621.1 L108.6 617.1 L108.1 611.5 L108.8 608.5 L109.2 602.8 L109.1 598.8 L109.7 596.0 L111.4 590.1 L111.6 600.9 L112.0 596.6 L111.8 593.4 L112.5 600.7 L113.3 604.9 L114.7 609.7 L115.1 612.9 L114.8 617.5 L115.1 620.3 L115.3 623.8 L115.6 629.2 L116.8 632.2 L116.5 635.4 L116.2 639.3 L117.6 644.5 L117.3 648.4 L118.2 652.3 L118.4 656.5 L118.3 660.4 L118.5 663.9 L119.6 668.3 L119.2 672.8 L120.1 676.0 L119.5 680.0 L120.2 684.2 L120.8 688.4 L121.5 692.4 L121.5 696.2 L122.5 700.6 L122.4 704.6 L123.6 708.4 L124.1 712.2 L123.8 714.7 L123.6 718.6 L125.1 721.2 L125.1 724.9 L125.5 727.1 L126.1 731.5 L126.3 734.7 L126.7 739.0 L127.2 742.4 L126.9 744.1 L128.0 747.9 L128.3 750.8 L129.7 751.2 L130.2 753.3 L130.3 754.8 L131.5 755.4 L132.0 755.7 L133.1 756.9 L134.1 757.9 L134.3 758.7 L134.7 757.8 L135.9 758.0 L137.0 758.3 L137.0 758.3 L137.8 756.7 L138.6 757.4 L139.4 757.7 L140.2 757.4 L141.0 757.8 L141.8 757.3 L142.6 758.3 L143.4 757.8 L144.2 758.2 L145.0 756.3 L145.8 758.0 L146.6 757.6 L147.4 757.9 L148.2 758.0 L149.0 758.4 L149.8 757.7 L150.6 757.4 L151.4 758.3 L152.2 758.4 L153.0 758.4 L153.8 758.4 L154.6 757.2 L155.4 757.0 L156.2 757.9 L157.0 758.0 L157.8 758.4 L158.6 757.1 L159.4 758.6 L160.2 758.1 L161.0 757.2 L161.8 757.9 L162.6 758.2 L163.4 758.4 L164.2 758.2 L165.0 757.9 L165.8 758.3 L166.6 758.2 L167.4 758.1 L168.2 756.9 L169.0 758.3 L169.8 758.4 L170.6 757.5 L171.4 757.9 L172.2 758.3 L173.0 757.6 L173.8 757.6 L174.6 757.7 L175.4 758.4 L176.2 758.5 L177.0 758.5 L177.8 758.3 L178.6 757.9 L179.4 758.6 L180.2 757.9 L181.0 758.5 L181.8 758.3 L182.6 758.6 L186.0 758.8" stroke="#1a1a1a" stroke-width="1.1" fill="none"/>
<rect x="67.2" y="581.4" width="177.6" height="177.6" fill="none" stroke="#161616" stroke-width="1.5"/>
<path d="M67.2 759H62.4M67.2 691.2H62.4M67.2 623.4H62.4M67.2 745.44H64.8M67.2 731.88H64.8M67.2 718.32H64.8M67.2 704.76H64.8M67.2 677.64H64.8M67.2 664.08H64.8M67.2 650.52H64.8M67.2 636.96H64.8M67.2 609.84H64.8M67.2 596.28H64.8M67.2 582.72H64.8" stroke="#161616" stroke-width="1.15" fill="none"/>
<path d="M68.7 759V763.8M103.1 759V763.8M137.5 759V763.8M187.4 759V763.8M228.4 759V763.8M77.3 759V761.4M85.9 759V761.4M94.5 759V761.4M111.7 759V761.4M120.3 759V761.4M128.9 759V761.4M150 759V761.4M158 759V761.4M163.5 759V761.4M168 759V761.4M172 759V761.4M175.5 759V761.4M178.5 759V761.4M199.74 759V761.4M206.96 759V761.4M212.08 759V761.4M216.06 759V761.4M219.3 759V761.4M222.05 759V761.4M224.43 759V761.4M226.52 759V761.4M240.74 759V761.4" stroke="#161616" stroke-width="1.15" fill="none"/>
<text transform="translate(57.5 764) scale(0.93 1)" font-size="12.3" text-anchor="end" fill="#161616">0</text>
<text transform="translate(57.5 696.2) scale(0.93 1)" font-size="12.3" text-anchor="end" fill="#161616">50</text>
<text transform="translate(57.5 628.4) scale(0.93 1)" font-size="12.3" text-anchor="end" fill="#161616">100</text>
<text transform="translate(70 779.3) scale(0.93 1)" font-size="12.3" text-anchor="middle" fill="#161616">-1000</text>
<text transform="translate(103.1 779.3) scale(0.93 1)" font-size="12.3" text-anchor="middle" fill="#161616">0</text>
<text transform="translate(137.5 779.3) scale(0.93 1)" font-size="12.3" text-anchor="middle" fill="#161616">1000</text>
<text transform="translate(187.4 779.3) scale(0.93 1)" font-size="12.3" text-anchor="middle" fill="#161616">10<tspan dx="0.5" dy="-4.6" font-size="9">4</tspan></text>
<text transform="translate(228.4 779.3) scale(0.93 1)" font-size="12.3" text-anchor="middle" fill="#161616">10<tspan dx="0.5" dy="-4.6" font-size="9">5</tspan></text>
<rect x="121.3" y="583.4" width="122" height="16.3" rx="2" ry="2" fill="#fff" stroke="#a9a9a9" stroke-width="0.95"/>
<text x="134.8" y="595.01" font-size="9.6" textLength="103.1" lengthAdjust="spacingAndGlyphs" fill="#161616" style="stroke-width:0.06px">Proliferating Cells: 2.41%</text>
<path d="M137.7 663.7H244.8M137.7 659.8V667.6" stroke="#3a3a3a" stroke-width="1.2" fill="none"/>
<text x="32" y="737.5" font-size="15.4" text-anchor="middle" textLength="37.7" lengthAdjust="spacingAndGlyphs" transform="rotate(-90 32 737.5)" fill="#161616" style="stroke-width:0.22px">Count</text>
<path d="M27.1 792.8V770M27.1 792.8H50" stroke="#111" stroke-width="1.6" fill="none"/>
<path d="M27.1 761.6L32.6 774.4L27.1 771.2L21.6 774.4Z M56.6 792.8L43.8 798.3L47 792.8L43.8 787.3Z" stroke="none" stroke-width="1" fill="#111"/>
<text x="62" y="797.9" font-size="15.4" textLength="70" lengthAdjust="spacingAndGlyphs" fill="#161616" style="stroke-width:0.22px">EdU-AF647</text>
<text x="390.8" y="553.9" font-size="14.4" textLength="29" lengthAdjust="spacingAndGlyphs" fill="#161616">TCL1</text>
<text x="336.7" y="573" font-size="12.2" textLength="138.9" lengthAdjust="spacingAndGlyphs" fill="#161616">[CD19+/CD5+] EdU-AF647</text>
<path d="M333 759 L333.4 759.6 L333.8 758.3 L333.8 759.0 L335.3 759.0 L335.9 758.8 L336.5 757.8 L337.9 756.0 L338.3 755.4 L338.5 754.1 L340.1 752.1 L340.7 751.6 L341.4 749.5 L340.9 749.0 L342.7 746.9 L342.2 744.4 L343.6 742.6 L344.6 741.2 L344.1 739.3 L345.0 736.7 L346.4 732.8 L346.7 730.0 L347.4 726.2 L346.7 720.5 L348.0 716.0 L348.4 711.2 L349.2 708.3 L348.4 704.7 L349.0 700.0 L349.6 696.1 L349.6 693.7 L350.6 687.0 L351.0 682.0 L350.6 678.8 L351.4 672.6 L351.3 667.8 L351.2 664.0 L351.4 657.8 L352.7 652.8 L353.4 647.2 L353.7 643.1 L353.6 637.8 L353.6 631.7 L354.4 625.0 L354.2 618.9 L354.3 611.2 L355.3 621.5 L355.0 615.2 L354.7 606.4 L354.8 600.2 L355.6 595.5 L356.3 606.9 L356.3 612.8 L357.6 620.2 L356.9 612.6 L357.4 604.6 L357.4 597.6 L358.4 603.6 L358.4 610.9 L359.1 602.8 L359.0 595.6 L358.9 604.0 L359.8 612.9 L359.3 605.0 L359.7 599.1 L359.3 594.5 L360.0 590.0 L360.6 597.7 L361.5 603.1 L361.1 597.9 L362.1 604.3 L362.6 612.6 L362.5 603.9 L362.2 595.7 L362.9 606.3 L364.2 597.3 L364.5 604.7 L364.0 613.3 L364.8 607.3 L365.4 600.4 L365.1 602.7 L365.6 612.2 L367.1 622.8 L367.3 626.6 L367.2 632.0 L366.6 637.1 L368.0 640.8 L368.2 644.6 L367.8 649.0 L367.8 653.1 L369.5 655.9 L369.8 659.3 L370.0 663.6 L370.6 667.8 L370.9 671.0 L370.0 676.5 L371.2 679.9 L370.6 683.2 L371.5 686.9 L372.8 691.7 L373.1 694.9 L372.6 697.1 L373.6 700.5 L373.7 704.6 L374.0 707.2 L373.7 711.3 L374.0 714.7 L374.5 717.5 L374.9 721.3 L375.6 723.9 L375.7 727.9 L377.2 730.3 L376.6 732.7 L377.2 735.9 L378.4 738.5 L378.0 740.7 L379.0 742.9 L379.7 746.0 L380.6 747.3 L381.7 749.0 L382.7 750.1 L383.1 752.0 L383.1 752.0 L384.1 751.5 L384.3 753.5 L385.2 753.9 L386.0 753.7 L386.8 754.6 L388.7 754.5 L389.1 755.5 L389.8 752.0 L390.5 752.9 L391.2 753.6 L391.9 751.4 L392.6 753.3 L393.3 749.5 L394.0 750.4 L394.7 752.2 L395.4 751.4 L396.1 752.4 L396.8 752.4 L397.5 753.2 L398.2 753.1 L398.9 752.4 L399.6 752.2 L400.3 751.9 L401.0 752.3 L401.7 750.3 L402.4 749.8 L403.1 752.0 L403.8 748.8 L404.5 747.0 L405.2 748.7 L405.9 748.4 L406.6 750.5 L407.3 748.2 L408.0 749.8 L408.7 750.8 L409.4 750.1 L410.1 748.9 L410.8 750.4 L411.5 749.5 L412.2 749.7 L412.9 746.9 L413.6 747.3 L414.3 750.7 L415.0 751.0 L415.7 749.8 L416.4 751.2 L417.1 750.2 L417.8 751.3 L418.5 752.4 L419.2 750.7 L419.9 752.6 L420.6 751.7 L421.3 751.3 L422.0 750.5 L422.7 751.5 L423.4 752.0 L424.1 753.2 L424.8 753.0 L425.5 753.1 L426.2 750.1 L426.9 752.3 L427.6 753.2 L428.3 751.1 L429.0 754.3 L429.7 752.6 L430.4 755.6 L431.1 752.7 L431.8 755.4 L432.5 756.6 L433.2 755.8 L433.9 758.0 L434.6 757.8 L435.3 757.1 L436.0 757.4 L436.7 757.3 L437.4 757.9 L440.0 758.6 L440 759Z" stroke="none" stroke-width="1" fill="#cbc5c6"/>
<path d="M333.4 759.6 L333.8 758.3 L333.8 759.0 L335.3 759.0 L335.9 758.8 L336.5 757.8 L337.9 756.0 L338.3 755.4 L338.5 754.1 L340.1 752.1 L340.7 751.6 L341.4 749.5 L340.9 749.0 L342.7 746.9 L342.2 744.4 L343.6 742.6 L344.6 741.2 L344.1 739.3 L345.0 736.7 L346.4 732.8 L346.7 730.0 L347.4 726.2 L346.7 720.5 L348.0 716.0 L348.4 711.2 L349.2 708.3 L348.4 704.7 L349.0 700.0 L349.6 696.1 L349.6 693.7 L350.6 687.0 L351.0 682.0 L350.6 678.8 L351.4 672.6 L351.3 667.8 L351.2 664.0 L351.4 657.8 L352.7 652.8 L353.4 647.2 L353.7 643.1 L353.6 637.8 L353.6 631.7 L354.4 625.0 L354.2 618.9 L354.3 611.2 L355.3 621.5 L355.0 615.2 L354.7 606.4 L354.8 600.2 L355.6 595.5 L356.3 606.9 L356.3 612.8 L357.6 620.2 L356.9 612.6 L357.4 604.6 L357.4 597.6 L358.4 603.6 L358.4 610.9 L359.1 602.8 L359.0 595.6 L358.9 604.0 L359.8 612.9 L359.3 605.0 L359.7 599.1 L359.3 594.5 L360.0 590.0 L360.6 597.7 L361.5 603.1 L361.1 597.9 L362.1 604.3 L362.6 612.6 L362.5 603.9 L362.2 595.7 L362.9 606.3 L364.2 597.3 L364.5 604.7 L364.0 613.3 L364.8 607.3 L365.4 600.4 L365.1 602.7 L365.6 612.2 L367.1 622.8 L367.3 626.6 L367.2 632.0 L366.6 637.1 L368.0 640.8 L368.2 644.6 L367.8 649.0 L367.8 653.1 L369.5 655.9 L369.8 659.3 L370.0 663.6 L370.6 667.8 L370.9 671.0 L370.0 676.5 L371.2 679.9 L370.6 683.2 L371.5 686.9 L372.8 691.7 L373.1 694.9 L372.6 697.1 L373.6 700.5 L373.7 704.6 L374.0 707.2 L373.7 711.3 L374.0 714.7 L374.5 717.5 L374.9 721.3 L375.6 723.9 L375.7 727.9 L377.2 730.3 L376.6 732.7 L377.2 735.9 L378.4 738.5 L378.0 740.7 L379.0 742.9 L379.7 746.0 L380.6 747.3 L381.7 749.0 L382.7 750.1 L383.1 752.0 L383.1 752.0 L384.1 751.5 L384.3 753.5 L385.2 753.9 L386.0 753.7 L386.8 754.6 L388.7 754.5 L389.1 755.5 L389.8 752.0 L390.5 752.9 L391.2 753.6 L391.9 751.4 L392.6 753.3 L393.3 749.5 L394.0 750.4 L394.7 752.2 L395.4 751.4 L396.1 752.4 L396.8 752.4 L397.5 753.2 L398.2 753.1 L398.9 752.4 L399.6 752.2 L400.3 751.9 L401.0 752.3 L401.7 750.3 L402.4 749.8 L403.1 752.0 L403.8 748.8 L404.5 747.0 L405.2 748.7 L405.9 748.4 L406.6 750.5 L407.3 748.2 L408.0 749.8 L408.7 750.8 L409.4 750.1 L410.1 748.9 L410.8 750.4 L411.5 749.5 L412.2 749.7 L412.9 746.9 L413.6 747.3 L414.3 750.7 L415.0 751.0 L415.7 749.8 L416.4 751.2 L417.1 750.2 L417.8 751.3 L418.5 752.4 L419.2 750.7 L419.9 752.6 L420.6 751.7 L421.3 751.3 L422.0 750.5 L422.7 751.5 L423.4 752.0 L424.1 753.2 L424.8 753.0 L425.5 753.1 L426.2 750.1 L426.9 752.3 L427.6 753.2 L428.3 751.1 L429.0 754.3 L429.7 752.6 L430.4 755.6 L431.1 752.7 L431.8 755.4 L432.5 756.6 L433.2 755.8 L433.9 758.0 L434.6 757.8 L435.3 757.1 L436.0 757.4 L436.7 757.3 L437.4 757.9 L440.0 758.6" stroke="#1a1a1a" stroke-width="1.1" fill="none"/>
<rect x="317.2" y="581.4" width="177.6" height="177.6" fill="none" stroke="#161616" stroke-width="1.5"/>
<path d="M317.2 759H312.4M317.2 723.48H312.4M317.2 687.96H312.4M317.2 652.44H312.4M317.2 616.92H312.4M317.2 581.4H312.4M317.2 741.24H314.8M317.2 705.72H314.8M317.2 670.2H314.8M317.2 634.68H314.8M317.2 599.16H314.8" stroke="#161616" stroke-width="1.15" fill="none"/>
<path d="M328.6 759V763.8M351.5 759V763.8M389.6 759V763.8M437.2 759V763.8M479 759V763.8M340 759V761.4M363 759V761.4M372 759V761.4M378.5 759V761.4M383 759V761.4M386.5 759V761.4M403.93 759V761.4M412.31 759V761.4M418.26 759V761.4M422.87 759V761.4M426.64 759V761.4M429.83 759V761.4M432.59 759V761.4M435.02 759V761.4M449.78 759V761.4M457.14 759V761.4M462.37 759V761.4M466.42 759V761.4M469.73 759V761.4M472.53 759V761.4M474.95 759V761.4M477.09 759V761.4M491.58 759V761.4" stroke="#161616" stroke-width="1.15" fill="none"/>
<text transform="translate(307.5 764) scale(0.93 1)" font-size="12.3" text-anchor="end" fill="#161616">0</text>
<text transform="translate(307.5 728.48) scale(0.93 1)" font-size="12.3" text-anchor="end" fill="#161616">20</text>
<text transform="translate(307.5 692.96) scale(0.93 1)" font-size="12.3" text-anchor="end" fill="#161616">40</text>
<text transform="translate(307.5 657.44) scale(0.93 1)" font-size="12.3" text-anchor="end" fill="#161616">60</text>
<text transform="translate(307.5 621.92) scale(0.93 1)" font-size="12.3" text-anchor="end" fill="#161616">80</text>
<text transform="translate(307.5 586.4) scale(0.93 1)" font-size="12.3" text-anchor="end" fill="#161616">100</text>
<text transform="translate(328.6 779.3) scale(0.93 1)" font-size="12.3" text-anchor="middle" fill="#161616">-500</text>
<text transform="translate(351.5 779.3) scale(0.93 1)" font-size="12.3" text-anchor="middle" fill="#161616">0</text>
<text transform="translate(389.6 779.3) scale(0.93 1)" font-size="12.3" text-anchor="middle" fill="#161616">10<tspan dx="0.5" dy="-4.6" font-size="9">3</tspan></text>
<text transform="translate(437.2 779.3) scale(0.93 1)" font-size="12.3" text-anchor="middle" fill="#161616">10<tspan dx="0.5" dy="-4.6" font-size="9">4</tspan></text>
<text transform="translate(479 779.3) scale(0.93 1)" font-size="12.3" text-anchor="middle" fill="#161616">10<tspan dx="0.5" dy="-4.6" font-size="9">5</tspan></text>
<rect x="371.7" y="583.4" width="121.6" height="16.3" rx="2" ry="2" fill="#fff" stroke="#a9a9a9" stroke-width="0.95"/>
<text x="385.2" y="595.01" font-size="9.6" textLength="103" lengthAdjust="spacingAndGlyphs" fill="#161616" style="stroke-width:0.06px">Proliferating Cells: 8.08%</text>
<path d="M388 663.7H494.8M388 659.8V667.6" stroke="#3a3a3a" stroke-width="1.2" fill="none"/>
<text x="127.3" y="862" font-size="12" textLength="112.7" lengthAdjust="spacingAndGlyphs" fill="#161616">EdU Incorporation by</text>
<text x="93.8" y="877.3" font-size="12" textLength="178.9" lengthAdjust="spacingAndGlyphs" fill="#161616">CD45+/CD5+/CD19+ Splenocytes</text>
<text x="165" y="891" font-size="12" textLength="39.6" lengthAdjust="spacingAndGlyphs" fill="#161616">p=.0100</text>
<path d="M131.5 904.6V901.5H237.3V904.6M185 901.5V898.6" stroke="#1a1a1a" stroke-width="1.1" fill="none"/>
<path d="M67.3 885.4V1057.7H299.3" stroke="#1a1a1a" stroke-width="1.5" fill="none"/>
<path d="M67.3 1058.2H62.5M67.3 1010.25H62.5M67.3 962.3H62.5M67.3 914.35H62.5M126.2 1057.7V1062.3M236 1057.7V1062.3" stroke="#1a1a1a" stroke-width="1.2" fill="none"/>
<text x="57" y="1062.2" font-size="11.2" text-anchor="end" fill="#161616">0</text>
<text x="57" y="1014.25" font-size="11.2" text-anchor="end" fill="#161616">5</text>
<text x="57" y="966.3" font-size="11.2" text-anchor="end" fill="#161616">10</text>
<text x="57" y="918.35" font-size="11.2" text-anchor="end" fill="#161616">15</text>
<text x="113.2" y="1078.7" font-size="12.4" textLength="25.1" lengthAdjust="spacingAndGlyphs" fill="#161616">TCL1</text>
<text x="206.9" y="1078.7" font-size="12.4" textLength="57.1" lengthAdjust="spacingAndGlyphs" fill="#161616">Par-4xTCL1</text>
<text x="33.6" y="971.3" font-size="14.2" text-anchor="middle" textLength="91.5" lengthAdjust="spacingAndGlyphs" transform="rotate(-90 33.6 971.3)" fill="#161616" style="stroke-width:0.22px">%EdU positive</text>
<circle cx="121" cy="921" r="3.5" fill="none" stroke="#35528c" stroke-width="1.2"/>
<circle cx="131.2" cy="919.7" r="3.5" fill="none" stroke="#35528c" stroke-width="1.2"/>
<circle cx="126.4" cy="968.1" r="3.5" fill="none" stroke="#35528c" stroke-width="1.2"/>
<circle cx="126.4" cy="980.8" r="3.5" fill="none" stroke="#35528c" stroke-width="1.2"/>
<circle cx="121" cy="995" r="3.5" fill="none" stroke="#35528c" stroke-width="1.2"/>
<circle cx="136.6" cy="1001.8" r="3.5" fill="none" stroke="#35528c" stroke-width="1.2"/>
<circle cx="131.2" cy="1009.6" r="3.5" fill="none" stroke="#35528c" stroke-width="1.2"/>
<circle cx="121" cy="1014.4" r="3.5" fill="none" stroke="#35528c" stroke-width="1.2"/>
<path d="M83.3 976.7H168.8M104.8 963.3H147.9M104.8 989.7H147.9M126.4 963.3V989.7" stroke="#1a1a1a" stroke-width="1.3" fill="none"/>
<rect x="238" y="996.9" width="7" height="7" fill="#a3283f"/>
<rect x="227.8" y="1002" width="7" height="7" fill="#a3283f"/>
<rect x="232.6" y="1025.9" width="7" height="7" fill="#a3283f"/>
<rect x="238" y="1031.5" width="7" height="7" fill="#a3283f"/>
<rect x="227.8" y="1037.8" width="7" height="7" fill="#a3283f"/>
<path d="M193.3 1022.5H278.7M214.9 1014.4H258M214.9 1030.6H258M236.1 1014.4V1030.6" stroke="#1a1a1a" stroke-width="1.3" fill="none"/>
</svg></body></html>
